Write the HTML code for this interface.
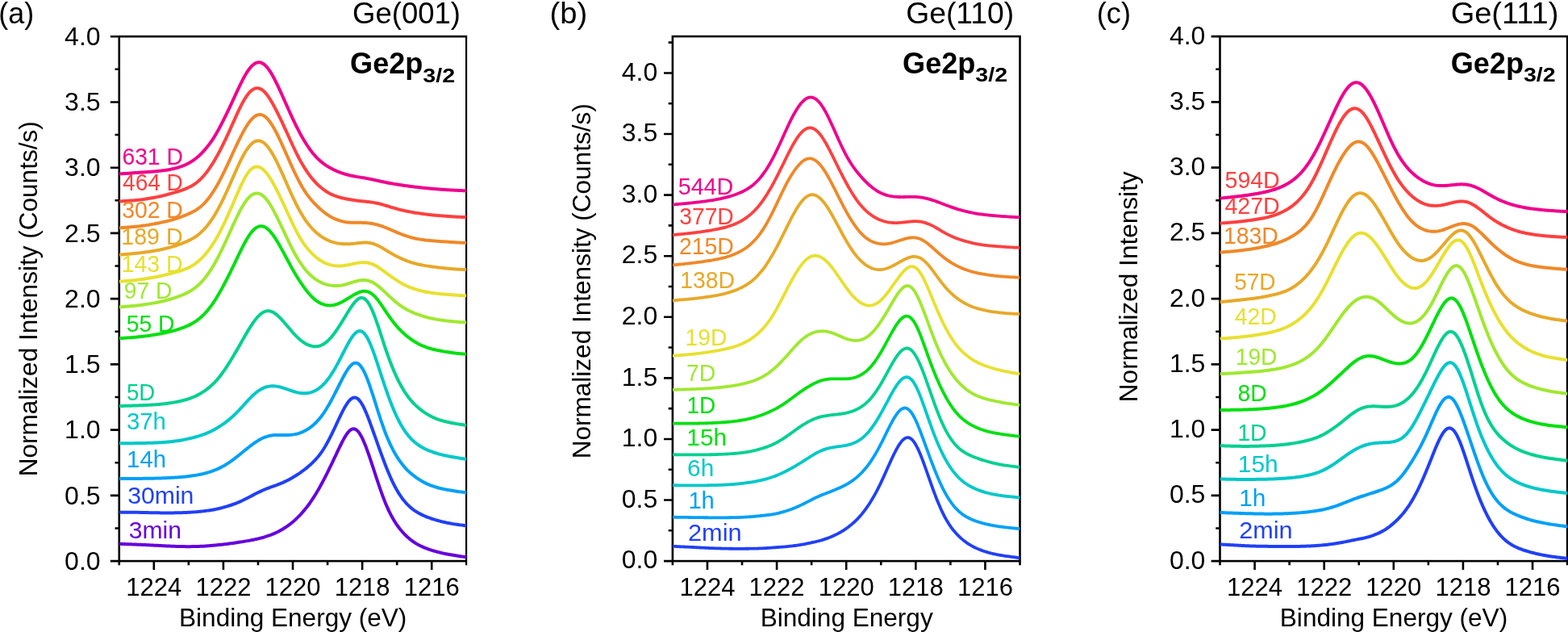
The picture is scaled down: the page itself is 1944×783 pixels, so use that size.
<!DOCTYPE html>
<html lang="en"><head><meta charset="utf-8"><title>Ge2p3/2 XPS spectra</title>
<style>html,body{margin:0;padding:0;background:#fff;overflow:hidden}svg{display:block}text{font-family:'Liberation Sans', sans-serif;white-space:pre}</style></head><body>
<svg width="1944" height="783" viewBox="0 0 1944 783">
<rect width="1944" height="783" fill="#fff"/>
<g id="panel-a">
<rect x="147.75" y="45.2" width="430.55" height="649.9" fill="none" stroke="#000" stroke-width="2.6"/>
<path d="M147.75 695.1v5.25M190.81 695.1v10.9M233.86 695.1v5.25M276.91 695.1v10.9M319.97 695.1v5.25M363.02 695.1v10.9M406.08 695.1v5.25M449.13 695.1v10.9M492.19 695.1v5.25M535.25 695.1v10.9M578.3 695.1v5.25M147.75 695.1h-10.9M147.75 654.48h-5.25M147.75 613.86h-10.9M147.75 573.24h-5.25M147.75 532.62h-10.9M147.75 492.01h-5.25M147.75 451.39h-10.9M147.75 410.77h-5.25M147.75 370.15h-10.9M147.75 329.53h-5.25M147.75 288.91h-10.9M147.75 248.29h-5.25M147.75 207.68h-10.9M147.75 167.06h-5.25M147.75 126.44h-10.9M147.75 85.82h-5.25M147.75 45.2h-10.9" fill="none" stroke="#000" stroke-width="2.6"/>
<g font-size="32.0" fill="#000"><text x="190.81" y="737.8" text-anchor="middle" font-size="31.8" textLength="68.97" lengthAdjust="spacingAndGlyphs">1224</text><text x="276.91" y="737.8" text-anchor="middle" font-size="31.8" textLength="68.97" lengthAdjust="spacingAndGlyphs">1222</text><text x="363.02" y="737.8" text-anchor="middle" font-size="31.8" textLength="68.97" lengthAdjust="spacingAndGlyphs">1220</text><text x="449.13" y="737.8" text-anchor="middle" font-size="31.8" textLength="68.97" lengthAdjust="spacingAndGlyphs">1218</text><text x="535.25" y="737.8" text-anchor="middle" font-size="31.8" textLength="68.97" lengthAdjust="spacingAndGlyphs">1216</text><text x="124.6" y="705.9" text-anchor="end">0.0</text><text x="124.6" y="624.66" text-anchor="end">0.5</text><text x="124.6" y="543.42" text-anchor="end">1.0</text><text x="124.6" y="462.19" text-anchor="end">1.5</text><text x="124.6" y="380.95" text-anchor="end">2.0</text><text x="124.6" y="299.71" text-anchor="end">2.5</text><text x="124.6" y="218.48" text-anchor="end">3.0</text><text x="124.6" y="137.24" text-anchor="end">3.5</text><text x="124.6" y="56" text-anchor="end">4.0</text></g>
<text transform="translate(46.1 370.3) rotate(-90)" text-anchor="middle" font-size="31.55" fill="#000">Normalized Intensity (Counts/s)</text>
<text x="363.2" y="776.2" text-anchor="middle" font-size="31.55" fill="#000">Binding Energy (eV)</text>
<clipPath id="clip-a"><rect x="147.75" y="45.2" width="430.55" height="649.9"/></clipPath>
<g clip-path="url(#clip-a)">
<polyline points="147.75,673.78 149.25,673.85 150.75,673.92 152.25,673.99 153.75,674.05 155.25,674.11 156.75,674.17 158.25,674.22 159.75,674.27 161.25,674.32 162.75,674.37 164.25,674.42 165.75,674.47 167.25,674.53 168.75,674.58 170.25,674.64 171.75,674.71 173.25,674.77 174.75,674.84 176.25,674.91 177.75,674.98 179.25,675.05 180.75,675.12 182.25,675.2 183.75,675.27 185.25,675.35 186.75,675.42 188.25,675.5 189.75,675.57 191.25,675.64 192.75,675.72 194.25,675.79 195.75,675.87 197.25,675.94 198.75,676.02 200.25,676.09 201.75,676.17 203.25,676.24 204.75,676.31 206.25,676.39 207.75,676.46 209.25,676.53 210.75,676.6 212.25,676.67 213.75,676.73 215.25,676.79 216.75,676.84 218.25,676.89 219.75,676.94 221.25,676.98 222.75,677.01 224.25,677.04 225.75,677.07 227.25,677.09 228.75,677.11 230.25,677.13 231.75,677.14 233.25,677.14 234.75,677.14 236.25,677.13 237.75,677.12 239.25,677.1 240.75,677.08 242.25,677.05 243.75,677.01 245.25,676.97 246.75,676.92 248.25,676.86 249.75,676.79 251.25,676.71 252.75,676.63 254.25,676.53 255.75,676.43 257.25,676.32 258.75,676.21 260.25,676.09 261.75,675.96 263.25,675.83 264.75,675.69 266.25,675.55 267.75,675.41 269.25,675.26 270.75,675.11 272.25,674.96 273.75,674.8 275.25,674.64 276.75,674.47 278.25,674.3 279.75,674.12 281.25,673.93 282.75,673.74 284.25,673.55 285.75,673.35 287.25,673.14 288.75,672.93 290.25,672.71 291.75,672.49 293.25,672.27 294.75,672.05 296.25,671.82 297.75,671.59 299.25,671.36 300.75,671.12 302.25,670.88 303.75,670.64 305.25,670.39 306.75,670.13 308.25,669.87 309.75,669.6 311.25,669.31 312.75,669.02 314.25,668.72 315.75,668.4 317.25,668.08 318.75,667.74 320.25,667.38 321.75,667.01 323.25,666.63 324.75,666.23 326.25,665.82 327.75,665.38 329.25,664.93 330.75,664.46 332.25,663.97 333.75,663.45 335.25,662.9 336.75,662.33 338.25,661.72 339.75,661.08 341.25,660.41 342.75,659.7 344.25,658.95 345.75,658.18 347.25,657.37 348.75,656.53 350.25,655.66 351.75,654.75 353.25,653.81 354.75,652.83 356.25,651.81 357.75,650.75 359.25,649.64 360.75,648.48 362.25,647.27 363.75,646.01 365.25,644.69 366.75,643.32 368.25,641.89 369.75,640.41 371.25,638.88 372.75,637.29 374.25,635.65 375.75,633.94 377.25,632.17 378.75,630.35 380.25,628.45 381.75,626.49 383.25,624.46 384.75,622.35 386.25,620.18 387.75,617.94 389.25,615.62 390.75,613.24 392.25,610.79 393.75,608.27 395.25,605.68 396.75,603.03 398.25,600.31 399.75,597.52 401.25,594.67 402.75,591.77 404.25,588.81 405.75,585.82 407.25,582.79 408.75,579.72 410.25,576.63 411.75,573.51 413.25,570.38 414.75,567.22 416.25,564.05 417.75,560.88 419.25,557.72 420.75,554.58 422.25,551.5 423.75,548.5 425.25,545.61 426.75,542.88 428.25,540.33 429.75,538.02 431.25,535.98 432.75,534.27 434.25,532.9 435.75,531.94 437.25,531.39 438.75,531.29 440.25,531.65 441.75,532.47 443.25,533.76 444.75,535.49 446.25,537.66 447.75,540.23 449.25,543.17 450.75,546.44 452.25,550 453.75,553.82 455.25,557.84 456.75,562.03 458.25,566.37 459.75,570.81 461.25,575.33 462.75,579.9 464.25,584.5 465.75,589.09 467.25,593.66 468.75,598.18 470.25,602.62 471.75,606.95 473.25,611.17 474.75,615.24 476.25,619.16 477.75,622.91 479.25,626.49 480.75,629.89 482.25,633.11 483.75,636.16 485.25,639.05 486.75,641.77 488.25,644.34 489.75,646.76 491.25,649.06 492.75,651.22 494.25,653.27 495.75,655.22 497.25,657.06 498.75,658.81 500.25,660.47 501.75,662.05 503.25,663.54 504.75,664.96 506.25,666.31 507.75,667.58 509.25,668.79 510.75,669.93 512.25,671.01 513.75,672.02 515.25,672.98 516.75,673.88 518.25,674.73 519.75,675.53 521.25,676.29 522.75,677 524.25,677.67 525.75,678.31 527.25,678.92 528.75,679.49 530.25,680.04 531.75,680.57 533.25,681.08 534.75,681.57 536.25,682.04 537.75,682.49 539.25,682.93 540.75,683.35 542.25,683.76 543.75,684.15 545.25,684.53 546.75,684.89 548.25,685.24 549.75,685.58 551.25,685.9 552.75,686.21 554.25,686.51 555.75,686.79 557.25,687.07 558.75,687.33 560.25,687.58 561.75,687.83 563.25,688.07 564.75,688.3 566.25,688.52 567.75,688.74 569.25,688.96 570.75,689.18 572.25,689.4 573.75,689.61 575.25,689.83 576.75,690.05 578.3,690.28" fill="none" stroke="#6600DD" stroke-width="4.0" stroke-linejoin="round"/>
<polyline points="147.75,634.58 149.25,634.61 150.75,634.65 152.25,634.67 153.75,634.7 155.25,634.71 156.75,634.73 158.25,634.74 159.75,634.75 161.25,634.76 162.75,634.77 164.25,634.78 165.75,634.79 167.25,634.81 168.75,634.82 170.25,634.84 171.75,634.86 173.25,634.89 174.75,634.91 176.25,634.94 177.75,634.98 179.25,635.01 180.75,635.04 182.25,635.08 183.75,635.11 185.25,635.15 186.75,635.18 188.25,635.21 189.75,635.25 191.25,635.27 192.75,635.3 194.25,635.33 195.75,635.35 197.25,635.37 198.75,635.39 200.25,635.4 201.75,635.41 203.25,635.42 204.75,635.43 206.25,635.43 207.75,635.43 209.25,635.43 210.75,635.42 212.25,635.42 213.75,635.4 215.25,635.39 216.75,635.37 218.25,635.34 219.75,635.32 221.25,635.29 222.75,635.25 224.25,635.21 225.75,635.16 227.25,635.11 228.75,635.06 230.25,635 231.75,634.93 233.25,634.86 234.75,634.77 236.25,634.69 237.75,634.59 239.25,634.49 240.75,634.38 242.25,634.26 243.75,634.13 245.25,634 246.75,633.86 248.25,633.71 249.75,633.55 251.25,633.38 252.75,633.21 254.25,633.03 255.75,632.84 257.25,632.64 258.75,632.43 260.25,632.21 261.75,631.97 263.25,631.72 264.75,631.45 266.25,631.17 267.75,630.87 269.25,630.55 270.75,630.21 272.25,629.85 273.75,629.48 275.25,629.09 276.75,628.68 278.25,628.27 279.75,627.84 281.25,627.4 282.75,626.95 284.25,626.48 285.75,626 287.25,625.51 288.75,624.99 290.25,624.46 291.75,623.9 293.25,623.32 294.75,622.71 296.25,622.07 297.75,621.41 299.25,620.73 300.75,620.02 302.25,619.3 303.75,618.55 305.25,617.79 306.75,617.02 308.25,616.24 309.75,615.46 311.25,614.67 312.75,613.89 314.25,613.11 315.75,612.33 317.25,611.56 318.75,610.81 320.25,610.06 321.75,609.34 323.25,608.63 324.75,607.95 326.25,607.28 327.75,606.64 329.25,606.02 330.75,605.43 332.25,604.85 333.75,604.28 335.25,603.73 336.75,603.19 338.25,602.65 339.75,602.12 341.25,601.58 342.75,601.03 344.25,600.47 345.75,599.89 347.25,599.3 348.75,598.68 350.25,598.05 351.75,597.38 353.25,596.69 354.75,595.97 356.25,595.22 357.75,594.44 359.25,593.64 360.75,592.81 362.25,591.95 363.75,591.07 365.25,590.17 366.75,589.24 368.25,588.29 369.75,587.31 371.25,586.31 372.75,585.28 374.25,584.22 375.75,583.13 377.25,582 378.75,580.84 380.25,579.64 381.75,578.39 383.25,577.1 384.75,575.77 386.25,574.38 387.75,572.94 389.25,571.43 390.75,569.86 392.25,568.22 393.75,566.48 395.25,564.66 396.75,562.73 398.25,560.68 399.75,558.52 401.25,556.23 402.75,553.81 404.25,551.25 405.75,548.58 407.25,545.78 408.75,542.88 410.25,539.89 411.75,536.82 413.25,533.69 414.75,530.52 416.25,527.32 417.75,524.11 419.25,520.92 420.75,517.75 422.25,514.63 423.75,511.59 425.25,508.66 426.75,505.85 428.25,503.22 429.75,500.79 431.25,498.61 432.75,496.71 434.25,495.12 435.75,493.89 437.25,493.04 438.75,492.59 440.25,492.57 441.75,492.99 443.25,493.84 444.75,495.13 446.25,496.85 447.75,498.96 449.25,501.46 450.75,504.3 452.25,507.45 453.75,510.86 455.25,514.5 456.75,518.32 458.25,522.29 459.75,526.36 461.25,530.51 462.75,534.71 464.25,538.94 465.75,543.17 467.25,547.39 468.75,551.59 470.25,555.76 471.75,559.9 473.25,563.99 474.75,568.03 476.25,572 477.75,575.91 479.25,579.73 480.75,583.44 482.25,587.05 483.75,590.53 485.25,593.88 486.75,597.08 488.25,600.13 489.75,603.04 491.25,605.8 492.75,608.41 494.25,610.89 495.75,613.23 497.25,615.44 498.75,617.52 500.25,619.48 501.75,621.31 503.25,623.03 504.75,624.64 506.25,626.15 507.75,627.56 509.25,628.88 510.75,630.11 512.25,631.26 513.75,632.35 515.25,633.36 516.75,634.32 518.25,635.22 519.75,636.07 521.25,636.87 522.75,637.63 524.25,638.35 525.75,639.03 527.25,639.68 528.75,640.3 530.25,640.89 531.75,641.45 533.25,641.98 534.75,642.49 536.25,642.98 537.75,643.45 539.25,643.91 540.75,644.34 542.25,644.77 543.75,645.18 545.25,645.58 546.75,645.96 548.25,646.34 549.75,646.7 551.25,647.05 552.75,647.39 554.25,647.71 555.75,648.02 557.25,648.31 558.75,648.59 560.25,648.86 561.75,649.11 563.25,649.35 564.75,649.58 566.25,649.79 567.75,650 569.25,650.2 570.75,650.39 572.25,650.59 573.75,650.78 575.25,650.97 576.75,651.15 578.3,651.35" fill="none" stroke="#2040F8" stroke-width="4.0" stroke-linejoin="round"/>
<polyline points="147.75,593.05 149.25,593.04 150.75,593.03 152.25,593.02 153.75,593.01 155.25,593 156.75,592.99 158.25,592.98 159.75,592.98 161.25,592.97 162.75,592.97 164.25,592.96 165.75,592.96 167.25,592.95 168.75,592.94 170.25,592.93 171.75,592.92 173.25,592.91 174.75,592.9 176.25,592.89 177.75,592.87 179.25,592.85 180.75,592.84 182.25,592.82 183.75,592.79 185.25,592.77 186.75,592.74 188.25,592.71 189.75,592.68 191.25,592.65 192.75,592.61 194.25,592.57 195.75,592.53 197.25,592.49 198.75,592.44 200.25,592.39 201.75,592.33 203.25,592.28 204.75,592.22 206.25,592.15 207.75,592.09 209.25,592.02 210.75,591.94 212.25,591.87 213.75,591.78 215.25,591.7 216.75,591.6 218.25,591.51 219.75,591.4 221.25,591.29 222.75,591.18 224.25,591.05 225.75,590.92 227.25,590.78 228.75,590.64 230.25,590.48 231.75,590.32 233.25,590.14 234.75,589.96 236.25,589.77 237.75,589.56 239.25,589.35 240.75,589.12 242.25,588.88 243.75,588.62 245.25,588.35 246.75,588.06 248.25,587.76 249.75,587.44 251.25,587.1 252.75,586.74 254.25,586.36 255.75,585.96 257.25,585.53 258.75,585.09 260.25,584.61 261.75,584.12 263.25,583.59 264.75,583.04 266.25,582.46 267.75,581.86 269.25,581.22 270.75,580.55 272.25,579.85 273.75,579.11 275.25,578.34 276.75,577.53 278.25,576.69 279.75,575.8 281.25,574.88 282.75,573.92 284.25,572.92 285.75,571.89 287.25,570.83 288.75,569.73 290.25,568.6 291.75,567.46 293.25,566.29 294.75,565.1 296.25,563.9 297.75,562.69 299.25,561.47 300.75,560.25 302.25,559.03 303.75,557.81 305.25,556.59 306.75,555.39 308.25,554.2 309.75,553.03 311.25,551.88 312.75,550.75 314.25,549.66 315.75,548.6 317.25,547.58 318.75,546.61 320.25,545.68 321.75,544.8 323.25,543.98 324.75,543.23 326.25,542.53 327.75,541.9 329.25,541.33 330.75,540.83 332.25,540.4 333.75,540.03 335.25,539.72 336.75,539.46 338.25,539.26 339.75,539.11 341.25,539 342.75,538.93 344.25,538.89 345.75,538.88 347.25,538.89 348.75,538.91 350.25,538.93 351.75,538.95 353.25,538.97 354.75,538.96 356.25,538.94 357.75,538.9 359.25,538.82 360.75,538.71 362.25,538.56 363.75,538.37 365.25,538.13 366.75,537.83 368.25,537.48 369.75,537.07 371.25,536.6 372.75,536.06 374.25,535.47 375.75,534.81 377.25,534.09 378.75,533.31 380.25,532.46 381.75,531.54 383.25,530.56 384.75,529.5 386.25,528.37 387.75,527.16 389.25,525.86 390.75,524.47 392.25,522.98 393.75,521.39 395.25,519.7 396.75,517.9 398.25,515.99 399.75,513.97 401.25,511.84 402.75,509.6 404.25,507.26 405.75,504.82 407.25,502.29 408.75,499.66 410.25,496.95 411.75,494.17 413.25,491.32 414.75,488.42 416.25,485.47 417.75,482.49 419.25,479.5 420.75,476.5 422.25,473.53 423.75,470.6 425.25,467.73 426.75,464.95 428.25,462.29 429.75,459.78 431.25,457.47 432.75,455.38 434.25,453.55 435.75,452.03 437.25,450.85 438.75,450.05 440.25,449.65 441.75,449.68 443.25,450.15 444.75,451.07 446.25,452.45 447.75,454.27 449.25,456.52 450.75,459.17 452.25,462.21 453.75,465.58 455.25,469.26 456.75,473.21 458.25,477.4 459.75,481.78 461.25,486.31 462.75,490.96 464.25,495.69 465.75,500.46 467.25,505.24 468.75,509.98 470.25,514.66 471.75,519.25 473.25,523.71 474.75,528.03 476.25,532.19 477.75,536.18 479.25,539.98 480.75,543.61 482.25,547.06 483.75,550.34 485.25,553.45 486.75,556.41 488.25,559.22 489.75,561.89 491.25,564.42 492.75,566.83 494.25,569.11 495.75,571.28 497.25,573.34 498.75,575.3 500.25,577.15 501.75,578.9 503.25,580.55 504.75,582.12 506.25,583.61 507.75,585.01 509.25,586.34 510.75,587.61 512.25,588.81 513.75,589.96 515.25,591.06 516.75,592.12 518.25,593.14 519.75,594.12 521.25,595.06 522.75,595.96 524.25,596.81 525.75,597.63 527.25,598.4 528.75,599.13 530.25,599.82 531.75,600.46 533.25,601.07 534.75,601.65 536.25,602.19 537.75,602.7 539.25,603.18 540.75,603.63 542.25,604.05 543.75,604.45 545.25,604.83 546.75,605.19 548.25,605.52 549.75,605.85 551.25,606.15 552.75,606.45 554.25,606.74 555.75,607.01 557.25,607.28 558.75,607.54 560.25,607.8 561.75,608.05 563.25,608.3 564.75,608.53 566.25,608.76 567.75,608.97 569.25,609.17 570.75,609.37 572.25,609.55 573.75,609.72 575.25,609.88 576.75,610.04 578.3,610.2" fill="none" stroke="#00A0F8" stroke-width="4.0" stroke-linejoin="round"/>
<polyline points="147.75,549.18 149.25,549.19 150.75,549.2 152.25,549.21 153.75,549.21 155.25,549.21 156.75,549.21 158.25,549.2 159.75,549.19 161.25,549.18 162.75,549.17 164.25,549.15 165.75,549.14 167.25,549.12 168.75,549.1 170.25,549.08 171.75,549.06 173.25,549.03 174.75,549.01 176.25,548.99 177.75,548.96 179.25,548.93 180.75,548.9 182.25,548.87 183.75,548.84 185.25,548.8 186.75,548.76 188.25,548.71 189.75,548.66 191.25,548.61 192.75,548.55 194.25,548.48 195.75,548.41 197.25,548.33 198.75,548.25 200.25,548.16 201.75,548.06 203.25,547.95 204.75,547.84 206.25,547.72 207.75,547.59 209.25,547.45 210.75,547.3 212.25,547.14 213.75,546.97 215.25,546.79 216.75,546.6 218.25,546.39 219.75,546.18 221.25,545.94 222.75,545.7 224.25,545.44 225.75,545.17 227.25,544.89 228.75,544.6 230.25,544.3 231.75,543.98 233.25,543.65 234.75,543.32 236.25,542.97 237.75,542.61 239.25,542.24 240.75,541.85 242.25,541.45 243.75,541.03 245.25,540.6 246.75,540.15 248.25,539.67 249.75,539.18 251.25,538.66 252.75,538.12 254.25,537.55 255.75,536.95 257.25,536.33 258.75,535.68 260.25,534.99 261.75,534.28 263.25,533.53 264.75,532.75 266.25,531.94 267.75,531.1 269.25,530.22 270.75,529.32 272.25,528.38 273.75,527.4 275.25,526.4 276.75,525.36 278.25,524.29 279.75,523.18 281.25,522.04 282.75,520.86 284.25,519.64 285.75,518.38 287.25,517.07 288.75,515.72 290.25,514.32 291.75,512.87 293.25,511.38 294.75,509.85 296.25,508.28 297.75,506.68 299.25,505.05 300.75,503.4 302.25,501.74 303.75,500.09 305.25,498.44 306.75,496.81 308.25,495.21 309.75,493.64 311.25,492.12 312.75,490.66 314.25,489.25 315.75,487.91 317.25,486.65 318.75,485.47 320.25,484.37 321.75,483.36 323.25,482.44 324.75,481.61 326.25,480.88 327.75,480.24 329.25,479.69 330.75,479.24 332.25,478.88 333.75,478.61 335.25,478.42 336.75,478.31 338.25,478.28 339.75,478.33 341.25,478.44 342.75,478.62 344.25,478.86 345.75,479.16 347.25,479.5 348.75,479.89 350.25,480.32 351.75,480.79 353.25,481.28 354.75,481.79 356.25,482.32 357.75,482.85 359.25,483.37 360.75,483.89 362.25,484.39 363.75,484.87 365.25,485.32 366.75,485.74 368.25,486.11 369.75,486.44 371.25,486.71 372.75,486.94 374.25,487.1 375.75,487.21 377.25,487.24 378.75,487.21 380.25,487.11 381.75,486.93 383.25,486.67 384.75,486.33 386.25,485.9 387.75,485.38 389.25,484.76 390.75,484.05 392.25,483.23 393.75,482.31 395.25,481.28 396.75,480.14 398.25,478.89 399.75,477.52 401.25,476.04 402.75,474.44 404.25,472.72 405.75,470.88 407.25,468.93 408.75,466.86 410.25,464.67 411.75,462.37 413.25,459.96 414.75,457.44 416.25,454.83 417.75,452.13 419.25,449.35 420.75,446.51 422.25,443.62 423.75,440.69 425.25,437.74 426.75,434.8 428.25,431.88 429.75,429.01 431.25,426.23 432.75,423.55 434.25,421.02 435.75,418.66 437.25,416.51 438.75,414.62 440.25,413.01 441.75,411.72 443.25,410.78 444.75,410.23 446.25,410.08 447.75,410.36 449.25,411.07 450.75,412.22 452.25,413.82 453.75,415.84 455.25,418.27 456.75,421.08 458.25,424.24 459.75,427.72 461.25,431.48 462.75,435.47 464.25,439.66 465.75,444 467.25,448.46 468.75,452.99 470.25,457.57 471.75,462.17 473.25,466.75 474.75,471.29 476.25,475.78 477.75,480.2 479.25,484.52 480.75,488.75 482.25,492.87 483.75,496.86 485.25,500.73 486.75,504.47 488.25,508.07 489.75,511.53 491.25,514.83 492.75,517.99 494.25,520.99 495.75,523.84 497.25,526.54 498.75,529.08 500.25,531.48 501.75,533.74 503.25,535.86 504.75,537.85 506.25,539.72 507.75,541.47 509.25,543.1 510.75,544.64 512.25,546.08 513.75,547.42 515.25,548.68 516.75,549.86 518.25,550.96 519.75,551.99 521.25,552.96 522.75,553.86 524.25,554.71 525.75,555.5 527.25,556.25 528.75,556.96 530.25,557.62 531.75,558.26 533.25,558.86 534.75,559.43 536.25,559.97 537.75,560.49 539.25,560.99 540.75,561.46 542.25,561.91 543.75,562.34 545.25,562.75 546.75,563.14 548.25,563.51 549.75,563.86 551.25,564.19 552.75,564.52 554.25,564.83 555.75,565.13 557.25,565.42 558.75,565.7 560.25,565.97 561.75,566.24 563.25,566.51 564.75,566.76 566.25,567.02 567.75,567.27 569.25,567.52 570.75,567.76 572.25,568 573.75,568.24 575.25,568.47 576.75,568.7 578.3,568.94" fill="none" stroke="#00C8C8" stroke-width="4.0" stroke-linejoin="round"/>
<polyline points="147.75,503.13 149.25,503.07 150.75,503.02 152.25,502.97 153.75,502.92 155.25,502.87 156.75,502.82 158.25,502.77 159.75,502.72 161.25,502.67 162.75,502.63 164.25,502.58 165.75,502.53 167.25,502.48 168.75,502.44 170.25,502.38 171.75,502.33 173.25,502.28 174.75,502.22 176.25,502.16 177.75,502.1 179.25,502.04 180.75,501.97 182.25,501.9 183.75,501.83 185.25,501.75 186.75,501.67 188.25,501.58 189.75,501.49 191.25,501.38 192.75,501.28 194.25,501.16 195.75,501.04 197.25,500.91 198.75,500.77 200.25,500.63 201.75,500.47 203.25,500.31 204.75,500.14 206.25,499.96 207.75,499.77 209.25,499.56 210.75,499.35 212.25,499.12 213.75,498.89 215.25,498.63 216.75,498.37 218.25,498.09 219.75,497.79 221.25,497.48 222.75,497.15 224.25,496.8 225.75,496.44 227.25,496.06 228.75,495.66 230.25,495.24 231.75,494.79 233.25,494.32 234.75,493.83 236.25,493.3 237.75,492.74 239.25,492.15 240.75,491.52 242.25,490.84 243.75,490.13 245.25,489.36 246.75,488.56 248.25,487.71 249.75,486.81 251.25,485.87 252.75,484.88 254.25,483.84 255.75,482.75 257.25,481.62 258.75,480.43 260.25,479.19 261.75,477.88 263.25,476.51 264.75,475.06 266.25,473.54 267.75,471.95 269.25,470.27 270.75,468.51 272.25,466.67 273.75,464.75 275.25,462.76 276.75,460.69 278.25,458.55 279.75,456.34 281.25,454.08 282.75,451.76 284.25,449.39 285.75,446.97 287.25,444.51 288.75,442.02 290.25,439.5 291.75,436.94 293.25,434.37 294.75,431.77 296.25,429.16 297.75,426.53 299.25,423.9 300.75,421.26 302.25,418.64 303.75,416.02 305.25,413.43 306.75,410.89 308.25,408.39 309.75,405.96 311.25,403.6 312.75,401.34 314.25,399.18 315.75,397.13 317.25,395.21 318.75,393.43 320.25,391.8 321.75,390.32 323.25,389.02 324.75,387.89 326.25,386.95 327.75,386.21 329.25,385.67 330.75,385.34 332.25,385.21 333.75,385.29 335.25,385.57 336.75,386.05 338.25,386.72 339.75,387.56 341.25,388.56 342.75,389.71 344.25,390.99 345.75,392.39 347.25,393.88 348.75,395.45 350.25,397.09 351.75,398.79 353.25,400.51 354.75,402.27 356.25,404.03 357.75,405.8 359.25,407.57 360.75,409.31 362.25,411.03 363.75,412.71 365.25,414.34 366.75,415.92 368.25,417.44 369.75,418.88 371.25,420.24 372.75,421.51 374.25,422.7 375.75,423.79 377.25,424.78 378.75,425.67 380.25,426.47 381.75,427.17 383.25,427.76 384.75,428.26 386.25,428.66 387.75,428.95 389.25,429.14 390.75,429.22 392.25,429.19 393.75,429.03 395.25,428.75 396.75,428.33 398.25,427.78 399.75,427.08 401.25,426.24 402.75,425.25 404.25,424.12 405.75,422.85 407.25,421.44 408.75,419.9 410.25,418.23 411.75,416.46 413.25,414.57 414.75,412.59 416.25,410.51 417.75,408.36 419.25,406.13 420.75,403.84 422.25,401.49 423.75,399.09 425.25,396.66 426.75,394.2 428.25,391.72 429.75,389.25 431.25,386.8 432.75,384.38 434.25,382.03 435.75,379.78 437.25,377.64 438.75,375.67 440.25,373.88 441.75,372.31 443.25,371.01 444.75,370 446.25,369.32 447.75,369 449.25,369.05 450.75,369.5 452.25,370.36 453.75,371.64 455.25,373.33 456.75,375.43 458.25,377.91 459.75,380.77 461.25,383.98 462.75,387.49 464.25,391.29 465.75,395.33 467.25,399.57 468.75,403.97 470.25,408.48 471.75,413.06 473.25,417.68 474.75,422.29 476.25,426.86 477.75,431.35 479.25,435.75 480.75,440.02 482.25,444.17 483.75,448.18 485.25,452.05 486.75,455.78 488.25,459.36 489.75,462.8 491.25,466.1 492.75,469.27 494.25,472.3 495.75,475.2 497.25,477.97 498.75,480.61 500.25,483.12 501.75,485.51 503.25,487.78 504.75,489.93 506.25,491.96 507.75,493.89 509.25,495.71 510.75,497.44 512.25,499.08 513.75,500.63 515.25,502.1 516.75,503.5 518.25,504.83 519.75,506.1 521.25,507.31 522.75,508.46 524.25,509.56 525.75,510.62 527.25,511.63 528.75,512.59 530.25,513.52 531.75,514.39 533.25,515.23 534.75,516.02 536.25,516.76 537.75,517.46 539.25,518.11 540.75,518.72 542.25,519.29 543.75,519.82 545.25,520.31 546.75,520.77 548.25,521.2 549.75,521.6 551.25,521.99 552.75,522.36 554.25,522.71 555.75,523.05 557.25,523.37 558.75,523.69 560.25,523.99 561.75,524.29 563.25,524.58 564.75,524.86 566.25,525.12 567.75,525.38 569.25,525.62 570.75,525.85 572.25,526.07 573.75,526.28 575.25,526.48 576.75,526.68 578.3,526.87" fill="none" stroke="#00D090" stroke-width="4.0" stroke-linejoin="round"/>
<polyline points="147.75,419.22 149.25,419.12 150.75,419.01 152.25,418.91 153.75,418.81 155.25,418.7 156.75,418.6 158.25,418.49 159.75,418.38 161.25,418.27 162.75,418.16 164.25,418.04 165.75,417.91 167.25,417.78 168.75,417.65 170.25,417.51 171.75,417.36 173.25,417.2 174.75,417.04 176.25,416.87 177.75,416.69 179.25,416.5 180.75,416.31 182.25,416.11 183.75,415.9 185.25,415.69 186.75,415.47 188.25,415.24 189.75,415.01 191.25,414.76 192.75,414.52 194.25,414.26 195.75,414 197.25,413.73 198.75,413.45 200.25,413.17 201.75,412.87 203.25,412.57 204.75,412.26 206.25,411.93 207.75,411.6 209.25,411.25 210.75,410.89 212.25,410.52 213.75,410.13 215.25,409.73 216.75,409.32 218.25,408.88 219.75,408.43 221.25,407.96 222.75,407.48 224.25,406.96 225.75,406.43 227.25,405.87 228.75,405.29 230.25,404.68 231.75,404.03 233.25,403.35 234.75,402.63 236.25,401.87 237.75,401.06 239.25,400.21 240.75,399.29 242.25,398.32 243.75,397.28 245.25,396.18 246.75,395.01 248.25,393.76 249.75,392.44 251.25,391.05 252.75,389.57 254.25,388.01 255.75,386.36 257.25,384.63 258.75,382.81 260.25,380.89 261.75,378.89 263.25,376.8 264.75,374.62 266.25,372.35 267.75,369.99 269.25,367.56 270.75,365.05 272.25,362.47 273.75,359.82 275.25,357.11 276.75,354.35 278.25,351.54 279.75,348.68 281.25,345.78 282.75,342.83 284.25,339.84 285.75,336.81 287.25,333.74 288.75,330.65 290.25,327.53 291.75,324.39 293.25,321.25 294.75,318.12 296.25,315 297.75,311.92 299.25,308.89 300.75,305.92 302.25,303.03 303.75,300.23 305.25,297.55 306.75,295.01 308.25,292.62 309.75,290.4 311.25,288.37 312.75,286.54 314.25,284.92 315.75,283.53 317.25,282.37 318.75,281.45 320.25,280.77 321.75,280.34 323.25,280.15 324.75,280.21 326.25,280.52 327.75,281.07 329.25,281.85 330.75,282.85 332.25,284.07 333.75,285.5 335.25,287.12 336.75,288.91 338.25,290.87 339.75,292.98 341.25,295.22 342.75,297.58 344.25,300.04 345.75,302.58 347.25,305.2 348.75,307.89 350.25,310.61 351.75,313.38 353.25,316.16 354.75,318.96 356.25,321.76 357.75,324.54 359.25,327.3 360.75,330.03 362.25,332.72 363.75,335.37 365.25,337.96 366.75,340.49 368.25,342.96 369.75,345.37 371.25,347.71 372.75,349.99 374.25,352.2 375.75,354.35 377.25,356.43 378.75,358.44 380.25,360.37 381.75,362.23 383.25,364 384.75,365.68 386.25,367.27 387.75,368.75 389.25,370.12 390.75,371.39 392.25,372.55 393.75,373.59 395.25,374.53 396.75,375.36 398.25,376.08 399.75,376.7 401.25,377.23 402.75,377.65 404.25,377.98 405.75,378.21 407.25,378.35 408.75,378.39 410.25,378.35 411.75,378.22 413.25,378 414.75,377.69 416.25,377.3 417.75,376.84 419.25,376.29 420.75,375.68 422.25,375 423.75,374.26 425.25,373.46 426.75,372.62 428.25,371.74 429.75,370.83 431.25,369.9 432.75,368.96 434.25,368.01 435.75,367.08 437.25,366.16 438.75,365.28 440.25,364.44 441.75,363.65 443.25,362.93 444.75,362.29 446.25,361.74 447.75,361.3 449.25,360.98 450.75,360.8 452.25,360.77 453.75,360.89 455.25,361.19 456.75,361.68 458.25,362.34 459.75,363.2 461.25,364.25 462.75,365.49 464.25,366.9 465.75,368.48 467.25,370.22 468.75,372.09 470.25,374.08 471.75,376.17 473.25,378.33 474.75,380.55 476.25,382.79 477.75,385.04 479.25,387.28 480.75,389.5 482.25,391.67 483.75,393.78 485.25,395.84 486.75,397.84 488.25,399.76 489.75,401.62 491.25,403.4 492.75,405.13 494.25,406.78 495.75,408.37 497.25,409.9 498.75,411.37 500.25,412.78 501.75,414.13 503.25,415.43 504.75,416.67 506.25,417.85 507.75,418.99 509.25,420.07 510.75,421.11 512.25,422.11 513.75,423.06 515.25,423.97 516.75,424.84 518.25,425.67 519.75,426.45 521.25,427.2 522.75,427.9 524.25,428.56 525.75,429.17 527.25,429.75 528.75,430.29 530.25,430.8 531.75,431.27 533.25,431.72 534.75,432.15 536.25,432.56 537.75,432.94 539.25,433.31 540.75,433.65 542.25,433.97 543.75,434.28 545.25,434.57 546.75,434.84 548.25,435.1 549.75,435.36 551.25,435.6 552.75,435.85 554.25,436.09 555.75,436.32 557.25,436.55 558.75,436.78 560.25,436.99 561.75,437.2 563.25,437.39 564.75,437.57 566.25,437.74 567.75,437.89 569.25,438.04 570.75,438.18 572.25,438.3 573.75,438.43 575.25,438.54 576.75,438.65 578.3,438.77" fill="none" stroke="#00E010" stroke-width="4.0" stroke-linejoin="round"/>
<polyline points="147.75,380.51 149.25,380.36 150.75,380.21 152.25,380.06 153.75,379.93 155.25,379.8 156.75,379.67 158.25,379.55 159.75,379.43 161.25,379.31 162.75,379.19 164.25,379.07 165.75,378.93 167.25,378.79 168.75,378.64 170.25,378.48 171.75,378.31 173.25,378.13 174.75,377.94 176.25,377.74 177.75,377.54 179.25,377.32 180.75,377.1 182.25,376.87 183.75,376.64 185.25,376.4 186.75,376.15 188.25,375.9 189.75,375.64 191.25,375.37 192.75,375.1 194.25,374.81 195.75,374.52 197.25,374.21 198.75,373.89 200.25,373.55 201.75,373.2 203.25,372.84 204.75,372.46 206.25,372.07 207.75,371.66 209.25,371.24 210.75,370.81 212.25,370.36 213.75,369.9 215.25,369.43 216.75,368.94 218.25,368.44 219.75,367.92 221.25,367.38 222.75,366.82 224.25,366.23 225.75,365.62 227.25,364.98 228.75,364.31 230.25,363.6 231.75,362.86 233.25,362.07 234.75,361.24 236.25,360.36 237.75,359.43 239.25,358.44 240.75,357.39 242.25,356.26 243.75,355.07 245.25,353.79 246.75,352.43 248.25,350.98 249.75,349.43 251.25,347.79 252.75,346.05 254.25,344.21 255.75,342.28 257.25,340.25 258.75,338.13 260.25,335.91 261.75,333.61 263.25,331.22 264.75,328.73 266.25,326.15 267.75,323.48 269.25,320.72 270.75,317.87 272.25,314.93 273.75,311.92 275.25,308.85 276.75,305.71 278.25,302.51 279.75,299.27 281.25,295.99 282.75,292.68 284.25,289.35 285.75,286.02 287.25,282.69 288.75,279.39 290.25,276.12 291.75,272.9 293.25,269.75 294.75,266.67 296.25,263.68 297.75,260.8 299.25,258.05 300.75,255.43 302.25,252.97 303.75,250.68 305.25,248.58 306.75,246.67 308.25,244.97 309.75,243.48 311.25,242.22 312.75,241.19 314.25,240.4 315.75,239.85 317.25,239.54 318.75,239.47 320.25,239.66 321.75,240.08 323.25,240.75 324.75,241.65 326.25,242.79 327.75,244.16 329.25,245.73 330.75,247.52 332.25,249.5 333.75,251.66 335.25,254 336.75,256.49 338.25,259.11 339.75,261.87 341.25,264.72 342.75,267.68 344.25,270.7 345.75,273.79 347.25,276.92 348.75,280.08 350.25,283.26 351.75,286.44 353.25,289.63 354.75,292.8 356.25,295.94 357.75,299.06 359.25,302.13 360.75,305.15 362.25,308.1 363.75,310.97 365.25,313.76 366.75,316.45 368.25,319.05 369.75,321.54 371.25,323.92 372.75,326.2 374.25,328.37 375.75,330.44 377.25,332.4 378.75,334.25 380.25,336 381.75,337.65 383.25,339.2 384.75,340.65 386.25,342.02 387.75,343.3 389.25,344.49 390.75,345.61 392.25,346.65 393.75,347.62 395.25,348.51 396.75,349.33 398.25,350.07 399.75,350.74 401.25,351.34 402.75,351.88 404.25,352.35 405.75,352.76 407.25,353.11 408.75,353.4 410.25,353.64 411.75,353.83 413.25,353.96 414.75,354.04 416.25,354.07 417.75,354.04 419.25,353.97 420.75,353.83 422.25,353.65 423.75,353.42 425.25,353.14 426.75,352.82 428.25,352.45 429.75,352.05 431.25,351.61 432.75,351.15 434.25,350.67 435.75,350.18 437.25,349.69 438.75,349.21 440.25,348.75 441.75,348.33 443.25,347.94 444.75,347.61 446.25,347.34 447.75,347.14 449.25,347.01 450.75,346.98 452.25,347.03 453.75,347.18 455.25,347.44 456.75,347.8 458.25,348.27 459.75,348.85 461.25,349.54 462.75,350.33 464.25,351.21 465.75,352.2 467.25,353.26 468.75,354.41 470.25,355.62 471.75,356.89 473.25,358.21 474.75,359.57 476.25,360.96 477.75,362.37 479.25,363.79 480.75,365.21 482.25,366.62 483.75,368.02 485.25,369.4 486.75,370.75 488.25,372.07 489.75,373.36 491.25,374.6 492.75,375.81 494.25,376.96 495.75,378.07 497.25,379.13 498.75,380.14 500.25,381.11 501.75,382.02 503.25,382.9 504.75,383.73 506.25,384.52 507.75,385.28 509.25,386 510.75,386.68 512.25,387.34 513.75,387.97 515.25,388.57 516.75,389.14 518.25,389.69 519.75,390.22 521.25,390.73 522.75,391.22 524.25,391.69 525.75,392.14 527.25,392.57 528.75,392.98 530.25,393.37 531.75,393.75 533.25,394.1 534.75,394.44 536.25,394.76 537.75,395.06 539.25,395.35 540.75,395.62 542.25,395.88 543.75,396.13 545.25,396.36 546.75,396.58 548.25,396.79 549.75,397 551.25,397.19 552.75,397.37 554.25,397.55 555.75,397.72 557.25,397.88 558.75,398.04 560.25,398.19 561.75,398.34 563.25,398.47 564.75,398.61 566.25,398.73 567.75,398.85 569.25,398.96 570.75,399.06 572.25,399.15 573.75,399.23 575.25,399.31 576.75,399.38 578.3,399.44" fill="none" stroke="#A0E830" stroke-width="4.0" stroke-linejoin="round"/>
<polyline points="147.75,348.85 149.25,348.71 150.75,348.57 152.25,348.44 153.75,348.31 155.25,348.18 156.75,348.05 158.25,347.92 159.75,347.79 161.25,347.66 162.75,347.52 164.25,347.38 165.75,347.23 167.25,347.08 168.75,346.92 170.25,346.75 171.75,346.57 173.25,346.38 174.75,346.19 176.25,345.98 177.75,345.77 179.25,345.55 180.75,345.32 182.25,345.09 183.75,344.84 185.25,344.59 186.75,344.33 188.25,344.07 189.75,343.79 191.25,343.51 192.75,343.23 194.25,342.93 195.75,342.63 197.25,342.32 198.75,342 200.25,341.67 201.75,341.33 203.25,340.98 204.75,340.63 206.25,340.27 207.75,339.9 209.25,339.52 210.75,339.13 212.25,338.74 213.75,338.34 215.25,337.94 216.75,337.52 218.25,337.1 219.75,336.67 221.25,336.22 222.75,335.76 224.25,335.28 225.75,334.78 227.25,334.25 228.75,333.7 230.25,333.11 231.75,332.49 233.25,331.82 234.75,331.11 236.25,330.33 237.75,329.5 239.25,328.6 240.75,327.62 242.25,326.57 243.75,325.44 245.25,324.23 246.75,322.94 248.25,321.58 249.75,320.13 251.25,318.61 252.75,317.01 254.25,315.33 255.75,313.57 257.25,311.73 258.75,309.8 260.25,307.78 261.75,305.67 263.25,303.46 264.75,301.15 266.25,298.74 267.75,296.23 269.25,293.62 270.75,290.92 272.25,288.11 273.75,285.21 275.25,282.23 276.75,279.16 278.25,276.02 279.75,272.83 281.25,269.57 282.75,266.27 284.25,262.94 285.75,259.56 287.25,256.16 288.75,252.73 290.25,249.28 291.75,245.82 293.25,242.36 294.75,238.91 296.25,235.5 297.75,232.16 299.25,228.91 300.75,225.79 302.25,222.83 303.75,220.06 305.25,217.5 306.75,215.19 308.25,213.12 309.75,211.33 311.25,209.82 312.75,208.6 314.25,207.66 315.75,207 317.25,206.64 318.75,206.55 320.25,206.74 321.75,207.19 323.25,207.9 324.75,208.85 326.25,210.03 327.75,211.44 329.25,213.06 330.75,214.86 332.25,216.85 333.75,219.01 335.25,221.32 336.75,223.78 338.25,226.36 339.75,229.05 341.25,231.85 342.75,234.74 344.25,237.71 345.75,240.74 347.25,243.83 348.75,246.96 350.25,250.13 351.75,253.33 353.25,256.55 354.75,259.79 356.25,263.03 357.75,266.27 359.25,269.5 360.75,272.7 362.25,275.88 363.75,279 365.25,282.06 366.75,285.05 368.25,287.94 369.75,290.72 371.25,293.38 372.75,295.92 374.25,298.32 375.75,300.6 377.25,302.75 378.75,304.77 380.25,306.69 381.75,308.51 383.25,310.24 384.75,311.89 386.25,313.45 387.75,314.94 389.25,316.35 390.75,317.69 392.25,318.95 393.75,320.13 395.25,321.24 396.75,322.28 398.25,323.23 399.75,324.11 401.25,324.92 402.75,325.66 404.25,326.32 405.75,326.92 407.25,327.44 408.75,327.91 410.25,328.3 411.75,328.64 413.25,328.91 414.75,329.13 416.25,329.29 417.75,329.4 419.25,329.45 420.75,329.45 422.25,329.41 423.75,329.32 425.25,329.18 426.75,329.01 428.25,328.8 429.75,328.56 431.25,328.29 432.75,328 434.25,327.69 435.75,327.36 437.25,327.03 438.75,326.71 440.25,326.39 441.75,326.09 443.25,325.82 444.75,325.58 446.25,325.37 447.75,325.22 449.25,325.13 450.75,325.09 452.25,325.13 453.75,325.24 455.25,325.42 456.75,325.69 458.25,326.05 459.75,326.5 461.25,327.03 462.75,327.66 464.25,328.37 465.75,329.16 467.25,330.03 468.75,330.97 470.25,331.96 471.75,332.99 473.25,334.05 474.75,335.13 476.25,336.23 477.75,337.33 479.25,338.42 480.75,339.52 482.25,340.61 483.75,341.7 485.25,342.78 486.75,343.85 488.25,344.91 489.75,345.95 491.25,346.96 492.75,347.95 494.25,348.9 495.75,349.82 497.25,350.7 498.75,351.54 500.25,352.34 501.75,353.1 503.25,353.83 504.75,354.52 506.25,355.18 507.75,355.8 509.25,356.39 510.75,356.95 512.25,357.49 513.75,357.99 515.25,358.47 516.75,358.93 518.25,359.36 519.75,359.77 521.25,360.16 522.75,360.53 524.25,360.87 525.75,361.2 527.25,361.51 528.75,361.8 530.25,362.07 531.75,362.32 533.25,362.56 534.75,362.79 536.25,363 537.75,363.19 539.25,363.38 540.75,363.55 542.25,363.71 543.75,363.87 545.25,364.02 546.75,364.16 548.25,364.29 549.75,364.43 551.25,364.55 552.75,364.68 554.25,364.8 555.75,364.92 557.25,365.04 558.75,365.16 560.25,365.28 561.75,365.39 563.25,365.5 564.75,365.6 566.25,365.7 567.75,365.8 569.25,365.89 570.75,365.98 572.25,366.05 573.75,366.13 575.25,366.19 576.75,366.25 578.3,366.31" fill="none" stroke="#E8E030" stroke-width="4.0" stroke-linejoin="round"/>
<polyline points="147.75,315.74 149.25,315.6 150.75,315.46 152.25,315.32 153.75,315.18 155.25,315.05 156.75,314.92 158.25,314.79 159.75,314.66 161.25,314.52 162.75,314.39 164.25,314.25 165.75,314.11 167.25,313.96 168.75,313.81 170.25,313.65 171.75,313.48 173.25,313.31 174.75,313.13 176.25,312.95 177.75,312.75 179.25,312.56 180.75,312.35 182.25,312.14 183.75,311.92 185.25,311.7 186.75,311.47 188.25,311.24 189.75,311 191.25,310.75 192.75,310.49 194.25,310.22 195.75,309.94 197.25,309.66 198.75,309.36 200.25,309.05 201.75,308.73 203.25,308.39 204.75,308.05 206.25,307.68 207.75,307.31 209.25,306.91 210.75,306.51 212.25,306.09 213.75,305.65 215.25,305.2 216.75,304.73 218.25,304.24 219.75,303.74 221.25,303.22 222.75,302.68 224.25,302.13 225.75,301.55 227.25,300.96 228.75,300.35 230.25,299.71 231.75,299.05 233.25,298.36 234.75,297.63 236.25,296.87 237.75,296.07 239.25,295.21 240.75,294.3 242.25,293.32 243.75,292.28 245.25,291.16 246.75,289.97 248.25,288.69 249.75,287.33 251.25,285.89 252.75,284.35 254.25,282.73 255.75,281.01 257.25,279.2 258.75,277.3 260.25,275.29 261.75,273.19 263.25,270.98 264.75,268.66 266.25,266.23 267.75,263.71 269.25,261.08 270.75,258.35 272.25,255.53 273.75,252.63 275.25,249.64 276.75,246.58 278.25,243.44 279.75,240.24 281.25,236.99 282.75,233.68 284.25,230.32 285.75,226.93 287.25,223.52 288.75,220.09 290.25,216.66 291.75,213.26 293.25,209.88 294.75,206.57 296.25,203.33 297.75,200.18 299.25,197.15 300.75,194.25 302.25,191.5 303.75,188.91 305.25,186.49 306.75,184.27 308.25,182.24 309.75,180.43 311.25,178.83 312.75,177.47 314.25,176.34 315.75,175.46 317.25,174.82 318.75,174.45 320.25,174.33 321.75,174.46 323.25,174.86 324.75,175.5 326.25,176.39 327.75,177.51 329.25,178.87 330.75,180.44 332.25,182.22 333.75,184.2 335.25,186.37 336.75,188.72 338.25,191.23 339.75,193.9 341.25,196.71 342.75,199.64 344.25,202.69 345.75,205.83 347.25,209.06 348.75,212.35 350.25,215.69 351.75,219.07 353.25,222.46 354.75,225.86 356.25,229.26 357.75,232.64 359.25,235.99 360.75,239.31 362.25,242.58 363.75,245.79 365.25,248.93 366.75,252 368.25,254.98 369.75,257.86 371.25,260.64 372.75,263.3 374.25,265.85 375.75,268.28 377.25,270.59 378.75,272.8 380.25,274.89 381.75,276.88 383.25,278.76 384.75,280.55 386.25,282.25 387.75,283.86 389.25,285.38 390.75,286.83 392.25,288.19 393.75,289.48 395.25,290.69 396.75,291.84 398.25,292.91 399.75,293.91 401.25,294.85 402.75,295.72 404.25,296.52 405.75,297.26 407.25,297.94 408.75,298.56 410.25,299.12 411.75,299.62 413.25,300.08 414.75,300.48 416.25,300.84 417.75,301.16 419.25,301.44 420.75,301.68 422.25,301.88 423.75,302.04 425.25,302.17 426.75,302.26 428.25,302.31 429.75,302.33 431.25,302.32 432.75,302.27 434.25,302.19 435.75,302.08 437.25,301.95 438.75,301.8 440.25,301.63 441.75,301.46 443.25,301.28 444.75,301.1 446.25,300.93 447.75,300.78 449.25,300.66 450.75,300.57 452.25,300.53 453.75,300.54 455.25,300.61 456.75,300.74 458.25,300.94 459.75,301.22 461.25,301.57 462.75,302 464.25,302.5 465.75,303.08 467.25,303.72 468.75,304.42 470.25,305.17 471.75,305.97 473.25,306.81 474.75,307.69 476.25,308.58 477.75,309.49 479.25,310.4 480.75,311.31 482.25,312.22 483.75,313.11 485.25,313.99 486.75,314.84 488.25,315.68 489.75,316.49 491.25,317.28 492.75,318.04 494.25,318.78 495.75,319.49 497.25,320.18 498.75,320.85 500.25,321.49 501.75,322.11 503.25,322.71 504.75,323.28 506.25,323.83 507.75,324.35 509.25,324.86 510.75,325.33 512.25,325.79 513.75,326.21 515.25,326.62 516.75,327 518.25,327.37 519.75,327.71 521.25,328.03 522.75,328.33 524.25,328.62 525.75,328.89 527.25,329.15 528.75,329.39 530.25,329.63 531.75,329.85 533.25,330.07 534.75,330.27 536.25,330.48 537.75,330.67 539.25,330.87 540.75,331.05 542.25,331.24 543.75,331.42 545.25,331.59 546.75,331.77 548.25,331.93 549.75,332.1 551.25,332.26 552.75,332.41 554.25,332.56 555.75,332.71 557.25,332.85 558.75,332.98 560.25,333.11 561.75,333.23 563.25,333.34 564.75,333.44 566.25,333.54 567.75,333.63 569.25,333.71 570.75,333.79 572.25,333.85 573.75,333.91 575.25,333.96 576.75,334 578.3,334.03" fill="none" stroke="#E8A828" stroke-width="4.0" stroke-linejoin="round"/>
<polyline points="147.75,282.51 149.25,282.35 150.75,282.19 152.25,282.05 153.75,281.91 155.25,281.79 156.75,281.67 158.25,281.56 159.75,281.45 161.25,281.34 162.75,281.23 164.25,281.11 165.75,280.99 167.25,280.85 168.75,280.71 170.25,280.55 171.75,280.38 173.25,280.2 174.75,280.01 176.25,279.81 177.75,279.59 179.25,279.37 180.75,279.14 182.25,278.9 183.75,278.66 185.25,278.41 186.75,278.15 188.25,277.89 189.75,277.62 191.25,277.35 192.75,277.07 194.25,276.79 195.75,276.5 197.25,276.2 198.75,275.9 200.25,275.58 201.75,275.26 203.25,274.92 204.75,274.58 206.25,274.22 207.75,273.85 209.25,273.47 210.75,273.08 212.25,272.66 213.75,272.24 215.25,271.8 216.75,271.34 218.25,270.87 219.75,270.38 221.25,269.87 222.75,269.35 224.25,268.81 225.75,268.25 227.25,267.68 228.75,267.09 230.25,266.48 231.75,265.85 233.25,265.2 234.75,264.53 236.25,263.83 237.75,263.1 239.25,262.33 240.75,261.52 242.25,260.66 243.75,259.73 245.25,258.74 246.75,257.66 248.25,256.5 249.75,255.24 251.25,253.87 252.75,252.4 254.25,250.83 255.75,249.15 257.25,247.36 258.75,245.48 260.25,243.49 261.75,241.4 263.25,239.21 264.75,236.92 266.25,234.53 267.75,232.04 269.25,229.46 270.75,226.78 272.25,224 273.75,221.14 275.25,218.2 276.75,215.19 278.25,212.11 279.75,208.97 281.25,205.79 282.75,202.57 284.25,199.32 285.75,196.05 287.25,192.78 288.75,189.51 290.25,186.26 291.75,183.03 293.25,179.85 294.75,176.7 296.25,173.62 297.75,170.6 299.25,167.66 300.75,164.81 302.25,162.07 303.75,159.44 305.25,156.94 306.75,154.58 308.25,152.38 309.75,150.36 311.25,148.53 312.75,146.9 314.25,145.48 315.75,144.3 317.25,143.35 318.75,142.64 320.25,142.19 321.75,142 323.25,142.07 324.75,142.41 326.25,143.01 327.75,143.87 329.25,144.98 330.75,146.35 332.25,147.95 333.75,149.77 335.25,151.79 336.75,154.02 338.25,156.41 339.75,158.98 341.25,161.69 342.75,164.54 344.25,167.51 345.75,170.59 347.25,173.77 348.75,177.02 350.25,180.32 351.75,183.67 353.25,187.04 354.75,190.42 356.25,193.8 357.75,197.17 359.25,200.51 360.75,203.83 362.25,207.11 363.75,210.35 365.25,213.53 366.75,216.66 368.25,219.7 369.75,222.66 371.25,225.53 372.75,228.29 374.25,230.93 375.75,233.46 377.25,235.87 378.75,238.16 380.25,240.33 381.75,242.4 383.25,244.36 384.75,246.23 386.25,248.02 387.75,249.72 389.25,251.36 390.75,252.93 392.25,254.45 393.75,255.92 395.25,257.33 396.75,258.71 398.25,260.03 399.75,261.31 401.25,262.53 402.75,263.71 404.25,264.82 405.75,265.88 407.25,266.88 408.75,267.81 410.25,268.69 411.75,269.5 413.25,270.26 414.75,270.96 416.25,271.6 417.75,272.19 419.25,272.73 420.75,273.22 422.25,273.67 423.75,274.07 425.25,274.42 426.75,274.73 428.25,274.99 429.75,275.21 431.25,275.39 432.75,275.53 434.25,275.64 435.75,275.71 437.25,275.76 438.75,275.79 440.25,275.81 441.75,275.82 443.25,275.82 444.75,275.82 446.25,275.83 447.75,275.85 449.25,275.88 450.75,275.93 452.25,276 453.75,276.1 455.25,276.22 456.75,276.37 458.25,276.55 459.75,276.77 461.25,277.02 462.75,277.29 464.25,277.61 465.75,277.95 467.25,278.33 468.75,278.74 470.25,279.18 471.75,279.65 473.25,280.16 474.75,280.69 476.25,281.25 477.75,281.84 479.25,282.44 480.75,283.06 482.25,283.69 483.75,284.34 485.25,284.98 486.75,285.63 488.25,286.28 489.75,286.93 491.25,287.57 492.75,288.2 494.25,288.82 495.75,289.42 497.25,290.01 498.75,290.58 500.25,291.13 501.75,291.67 503.25,292.19 504.75,292.69 506.25,293.17 507.75,293.63 509.25,294.06 510.75,294.47 512.25,294.85 513.75,295.21 515.25,295.54 516.75,295.85 518.25,296.13 519.75,296.4 521.25,296.64 522.75,296.87 524.25,297.08 525.75,297.27 527.25,297.46 528.75,297.63 530.25,297.79 531.75,297.94 533.25,298.09 534.75,298.23 536.25,298.36 537.75,298.48 539.25,298.6 540.75,298.72 542.25,298.83 543.75,298.93 545.25,299.04 546.75,299.13 548.25,299.23 549.75,299.33 551.25,299.42 552.75,299.51 554.25,299.6 555.75,299.7 557.25,299.79 558.75,299.89 560.25,299.98 561.75,300.08 563.25,300.18 564.75,300.28 566.25,300.38 567.75,300.47 569.25,300.56 570.75,300.63 572.25,300.7 573.75,300.75 575.25,300.79 576.75,300.81 578.3,300.82" fill="none" stroke="#F08828" stroke-width="4.0" stroke-linejoin="round"/>
<polyline points="147.75,249.52 149.25,249.41 150.75,249.3 152.25,249.19 153.75,249.09 155.25,248.99 156.75,248.89 158.25,248.79 159.75,248.7 161.25,248.6 162.75,248.5 164.25,248.39 165.75,248.27 167.25,248.15 168.75,248.02 170.25,247.87 171.75,247.72 173.25,247.55 174.75,247.38 176.25,247.19 177.75,246.99 179.25,246.78 180.75,246.56 182.25,246.33 183.75,246.09 185.25,245.84 186.75,245.59 188.25,245.32 189.75,245.05 191.25,244.76 192.75,244.47 194.25,244.16 195.75,243.85 197.25,243.52 198.75,243.18 200.25,242.83 201.75,242.46 203.25,242.09 204.75,241.71 206.25,241.31 207.75,240.91 209.25,240.5 210.75,240.09 212.25,239.67 213.75,239.25 215.25,238.82 216.75,238.39 218.25,237.95 219.75,237.5 221.25,237.03 222.75,236.56 224.25,236.06 225.75,235.54 227.25,235 228.75,234.43 230.25,233.83 231.75,233.2 233.25,232.53 234.75,231.81 236.25,231.05 237.75,230.23 239.25,229.34 240.75,228.38 242.25,227.35 243.75,226.23 245.25,225.01 246.75,223.71 248.25,222.31 249.75,220.82 251.25,219.23 252.75,217.54 254.25,215.77 255.75,213.89 257.25,211.93 258.75,209.87 260.25,207.72 261.75,205.47 263.25,203.13 264.75,200.71 266.25,198.19 267.75,195.6 269.25,192.92 270.75,190.17 272.25,187.35 273.75,184.46 275.25,181.51 276.75,178.5 278.25,175.43 279.75,172.3 281.25,169.12 282.75,165.88 284.25,162.6 285.75,159.28 287.25,155.94 288.75,152.58 290.25,149.22 291.75,145.89 293.25,142.59 294.75,139.34 296.25,136.17 297.75,133.09 299.25,130.12 300.75,127.28 302.25,124.58 303.75,122.05 305.25,119.71 306.75,117.57 308.25,115.65 309.75,113.97 311.25,112.52 312.75,111.33 314.25,110.4 315.75,109.73 317.25,109.33 318.75,109.18 320.25,109.3 321.75,109.68 323.25,110.32 324.75,111.2 326.25,112.33 327.75,113.7 329.25,115.29 330.75,117.1 332.25,119.11 333.75,121.3 335.25,123.66 336.75,126.17 338.25,128.8 339.75,131.54 341.25,134.38 342.75,137.29 344.25,140.26 345.75,143.29 347.25,146.37 348.75,149.49 350.25,152.65 351.75,155.85 353.25,159.08 354.75,162.34 356.25,165.62 357.75,168.92 359.25,172.21 360.75,175.5 362.25,178.76 363.75,181.98 365.25,185.15 366.75,188.25 368.25,191.28 369.75,194.23 371.25,197.08 372.75,199.84 374.25,202.5 375.75,205.07 377.25,207.54 378.75,209.91 380.25,212.19 381.75,214.37 383.25,216.45 384.75,218.44 386.25,220.34 387.75,222.15 389.25,223.87 390.75,225.51 392.25,227.07 393.75,228.55 395.25,229.96 396.75,231.29 398.25,232.56 399.75,233.77 401.25,234.91 402.75,235.99 404.25,237 405.75,237.96 407.25,238.85 408.75,239.68 410.25,240.45 411.75,241.16 413.25,241.82 414.75,242.42 416.25,242.98 417.75,243.49 419.25,243.96 420.75,244.4 422.25,244.81 423.75,245.19 425.25,245.55 426.75,245.89 428.25,246.21 429.75,246.51 431.25,246.8 432.75,247.08 434.25,247.34 435.75,247.59 437.25,247.83 438.75,248.05 440.25,248.26 441.75,248.46 443.25,248.64 444.75,248.82 446.25,248.98 447.75,249.14 449.25,249.29 450.75,249.44 452.25,249.59 453.75,249.74 455.25,249.89 456.75,250.06 458.25,250.23 459.75,250.42 461.25,250.64 462.75,250.87 464.25,251.13 465.75,251.41 467.25,251.72 468.75,252.06 470.25,252.42 471.75,252.81 473.25,253.22 474.75,253.64 476.25,254.08 477.75,254.53 479.25,254.99 480.75,255.45 482.25,255.91 483.75,256.37 485.25,256.82 486.75,257.26 488.25,257.7 489.75,258.12 491.25,258.54 492.75,258.94 494.25,259.33 495.75,259.71 497.25,260.08 498.75,260.44 500.25,260.79 501.75,261.12 503.25,261.44 504.75,261.76 506.25,262.06 507.75,262.35 509.25,262.63 510.75,262.9 512.25,263.16 513.75,263.41 515.25,263.66 516.75,263.9 518.25,264.13 519.75,264.35 521.25,264.57 522.75,264.78 524.25,264.98 525.75,265.18 527.25,265.37 528.75,265.56 530.25,265.73 531.75,265.91 533.25,266.07 534.75,266.23 536.25,266.39 537.75,266.54 539.25,266.68 540.75,266.82 542.25,266.96 543.75,267.09 545.25,267.21 546.75,267.34 548.25,267.46 549.75,267.57 551.25,267.68 552.75,267.79 554.25,267.9 555.75,268 557.25,268.1 558.75,268.19 560.25,268.29 561.75,268.38 563.25,268.46 564.75,268.55 566.25,268.63 567.75,268.7 569.25,268.77 570.75,268.84 572.25,268.9 573.75,268.96 575.25,269.02 576.75,269.07 578.3,269.11" fill="none" stroke="#FF4040" stroke-width="4.0" stroke-linejoin="round"/>
<polyline points="147.75,215.43 149.25,215.35 150.75,215.27 152.25,215.18 153.75,215.08 155.25,214.98 156.75,214.88 158.25,214.77 159.75,214.66 161.25,214.55 162.75,214.44 164.25,214.33 165.75,214.21 167.25,214.1 168.75,214 170.25,213.89 171.75,213.79 173.25,213.69 174.75,213.59 176.25,213.49 177.75,213.39 179.25,213.3 180.75,213.2 182.25,213.1 183.75,213 185.25,212.9 186.75,212.79 188.25,212.68 189.75,212.56 191.25,212.44 192.75,212.31 194.25,212.17 195.75,212.02 197.25,211.86 198.75,211.7 200.25,211.52 201.75,211.34 203.25,211.14 204.75,210.92 206.25,210.7 207.75,210.45 209.25,210.19 210.75,209.92 212.25,209.62 213.75,209.31 215.25,208.97 216.75,208.61 218.25,208.22 219.75,207.81 221.25,207.36 222.75,206.89 224.25,206.38 225.75,205.83 227.25,205.25 228.75,204.62 230.25,203.96 231.75,203.24 233.25,202.48 234.75,201.66 236.25,200.79 237.75,199.86 239.25,198.87 240.75,197.82 242.25,196.7 243.75,195.52 245.25,194.26 246.75,192.93 248.25,191.53 249.75,190.05 251.25,188.5 252.75,186.88 254.25,185.18 255.75,183.4 257.25,181.55 258.75,179.62 260.25,177.61 261.75,175.51 263.25,173.32 264.75,171.03 266.25,168.65 267.75,166.16 269.25,163.58 270.75,160.9 272.25,158.14 273.75,155.3 275.25,152.4 276.75,149.44 278.25,146.43 279.75,143.39 281.25,140.3 282.75,137.18 284.25,134.03 285.75,130.84 287.25,127.63 288.75,124.39 290.25,121.14 291.75,117.88 293.25,114.64 294.75,111.42 296.25,108.24 297.75,105.12 299.25,102.08 300.75,99.14 302.25,96.3 303.75,93.61 305.25,91.06 306.75,88.68 308.25,86.5 309.75,84.51 311.25,82.75 312.75,81.21 314.25,79.92 315.75,78.87 317.25,78.08 318.75,77.55 320.25,77.29 321.75,77.3 323.25,77.58 324.75,78.14 326.25,78.96 327.75,80.05 329.25,81.39 330.75,82.98 332.25,84.81 333.75,86.86 335.25,89.12 336.75,91.56 338.25,94.18 339.75,96.95 341.25,99.85 342.75,102.86 344.25,105.97 345.75,109.15 347.25,112.4 348.75,115.69 350.25,119.01 351.75,122.36 353.25,125.72 354.75,129.08 356.25,132.43 357.75,135.77 359.25,139.08 360.75,142.36 362.25,145.6 363.75,148.8 365.25,151.93 366.75,155.01 368.25,158.01 369.75,160.95 371.25,163.81 372.75,166.59 374.25,169.29 375.75,171.9 377.25,174.43 378.75,176.87 380.25,179.23 381.75,181.5 383.25,183.68 384.75,185.77 386.25,187.76 387.75,189.66 389.25,191.47 390.75,193.18 392.25,194.79 393.75,196.32 395.25,197.77 396.75,199.13 398.25,200.41 399.75,201.62 401.25,202.76 402.75,203.84 404.25,204.86 405.75,205.82 407.25,206.74 408.75,207.61 410.25,208.44 411.75,209.24 413.25,210 414.75,210.73 416.25,211.42 417.75,212.09 419.25,212.72 420.75,213.32 422.25,213.89 423.75,214.43 425.25,214.93 426.75,215.4 428.25,215.85 429.75,216.27 431.25,216.66 432.75,217.03 434.25,217.38 435.75,217.71 437.25,218.02 438.75,218.32 440.25,218.6 441.75,218.87 443.25,219.13 444.75,219.38 446.25,219.62 447.75,219.86 449.25,220.1 450.75,220.34 452.25,220.59 453.75,220.85 455.25,221.12 456.75,221.41 458.25,221.7 459.75,222 461.25,222.32 462.75,222.64 464.25,222.97 465.75,223.3 467.25,223.64 468.75,223.97 470.25,224.3 471.75,224.63 473.25,224.95 474.75,225.27 476.25,225.58 477.75,225.89 479.25,226.19 480.75,226.48 482.25,226.77 483.75,227.05 485.25,227.32 486.75,227.59 488.25,227.85 489.75,228.1 491.25,228.34 492.75,228.58 494.25,228.82 495.75,229.05 497.25,229.27 498.75,229.49 500.25,229.71 501.75,229.92 503.25,230.13 504.75,230.34 506.25,230.54 507.75,230.74 509.25,230.93 510.75,231.12 512.25,231.31 513.75,231.49 515.25,231.67 516.75,231.84 518.25,232.02 519.75,232.19 521.25,232.35 522.75,232.51 524.25,232.67 525.75,232.83 527.25,232.98 528.75,233.13 530.25,233.28 531.75,233.42 533.25,233.56 534.75,233.7 536.25,233.83 537.75,233.95 539.25,234.08 540.75,234.2 542.25,234.31 543.75,234.42 545.25,234.53 546.75,234.64 548.25,234.74 549.75,234.84 551.25,234.94 552.75,235.03 554.25,235.13 555.75,235.22 557.25,235.31 558.75,235.39 560.25,235.48 561.75,235.56 563.25,235.65 564.75,235.73 566.25,235.81 567.75,235.88 569.25,235.96 570.75,236.03 572.25,236.1 573.75,236.17 575.25,236.24 576.75,236.3 578.3,236.36" fill="none" stroke="#F0008C" stroke-width="4.0" stroke-linejoin="round"/>
</g>
<text x="151.49" y="204.3" font-size="29.1" fill="#F0008C" textLength="75.31" lengthAdjust="spacingAndGlyphs">631 D</text>
<text x="152.07" y="235.6" font-size="29.1" fill="#FF4040" textLength="74.72" lengthAdjust="spacingAndGlyphs">464 D</text>
<text x="151.14" y="269.6" font-size="29.1" fill="#F08828" textLength="75.67" lengthAdjust="spacingAndGlyphs">302 D</text>
<text x="150.36" y="303.3" font-size="29.1" fill="#E8A828" textLength="76.15" lengthAdjust="spacingAndGlyphs">189 D</text>
<text x="150.56" y="336.5" font-size="29.1" fill="#E8E030" textLength="76.05" lengthAdjust="spacingAndGlyphs">143 D</text>
<text x="153.86" y="370.2" font-size="29.1" fill="#A0E830" textLength="59.47" lengthAdjust="spacingAndGlyphs">97 D</text>
<text x="156.87" y="411.4" font-size="29.1" fill="#00E010" textLength="59.67" lengthAdjust="spacingAndGlyphs">55 D</text>
<text x="156.9" y="495.6" font-size="29.1" fill="#00D090" textLength="35.24" lengthAdjust="spacingAndGlyphs">5D</text>
<text x="156.9" y="531.6" font-size="29.1" fill="#00C8C8" textLength="49.04" lengthAdjust="spacingAndGlyphs">37h</text>
<text x="157.11" y="579.1" font-size="29.1" fill="#00A0F8" textLength="48.83" lengthAdjust="spacingAndGlyphs">14h</text>
<text x="158.17" y="623.5" font-size="29.1" fill="#2040F8" textLength="82.23" lengthAdjust="spacingAndGlyphs">30min</text>
<text x="159.67" y="666.7" font-size="29.1" fill="#6600DD" textLength="65.29" lengthAdjust="spacingAndGlyphs">3min</text>
<text x="-1.74" y="29" font-size="37.3" fill="#000" textLength="43.88" lengthAdjust="spacingAndGlyphs">(a)</text>
<text x="437.07" y="29" font-size="37.3" fill="#000" textLength="133.95" lengthAdjust="spacingAndGlyphs">Ge(001)</text>
<text x="434.06" y="90.9" font-size="37.4" fill="#000" textLength="90.33" lengthAdjust="spacingAndGlyphs" font-weight="bold">Ge2p</text>
<text x="524.35" y="101.9" font-size="24.6" fill="#000" textLength="39.9" lengthAdjust="spacingAndGlyphs" font-weight="bold">3/2</text>
<rect x="579.3" y="40" width="3" height="660" fill="#fff"/>
</g>
<g id="panel-b">
<rect x="833.9" y="45.1" width="430.6" height="650" fill="none" stroke="#000" stroke-width="2.6"/>
<path d="M833.9 695.1v5.25M876.96 695.1v10.9M920.02 695.1v5.25M963.08 695.1v10.9M1006.14 695.1v5.25M1049.2 695.1v10.9M1092.26 695.1v5.25M1135.32 695.1v10.9M1178.38 695.1v5.25M1221.44 695.1v10.9M1264.5 695.1v5.25M833.9 695.1h-10.9M833.9 657.31h-5.25M833.9 619.52h-10.9M833.9 581.73h-5.25M833.9 543.94h-10.9M833.9 506.15h-5.25M833.9 468.36h-10.9M833.9 430.57h-5.25M833.9 392.77h-10.9M833.9 354.98h-5.25M833.9 317.19h-10.9M833.9 279.4h-5.25M833.9 241.61h-10.9M833.9 203.82h-5.25M833.9 166.03h-10.9M833.9 128.24h-5.25M833.9 90.45h-10.9M833.9 52.66h-5.25" fill="none" stroke="#000" stroke-width="2.6"/>
<g font-size="32.0" fill="#000"><text x="876.96" y="737.8" text-anchor="middle" font-size="31.8" textLength="68.97" lengthAdjust="spacingAndGlyphs">1224</text><text x="963.08" y="737.8" text-anchor="middle" font-size="31.8" textLength="68.97" lengthAdjust="spacingAndGlyphs">1222</text><text x="1049.2" y="737.8" text-anchor="middle" font-size="31.8" textLength="68.97" lengthAdjust="spacingAndGlyphs">1220</text><text x="1135.32" y="737.8" text-anchor="middle" font-size="31.8" textLength="68.97" lengthAdjust="spacingAndGlyphs">1218</text><text x="1221.44" y="737.8" text-anchor="middle" font-size="31.8" textLength="68.97" lengthAdjust="spacingAndGlyphs">1216</text><text x="815.2" y="704.3" text-anchor="end">0.0</text><text x="815.2" y="628.72" text-anchor="end">0.5</text><text x="815.2" y="553.14" text-anchor="end">1.0</text><text x="815.2" y="477.56" text-anchor="end">1.5</text><text x="815.2" y="401.97" text-anchor="end">2.0</text><text x="815.2" y="326.39" text-anchor="end">2.5</text><text x="815.2" y="250.81" text-anchor="end">3.0</text><text x="815.2" y="175.23" text-anchor="end">3.5</text><text x="815.2" y="99.65" text-anchor="end">4.0</text></g>
<text transform="translate(732.3 348.3) rotate(-90)" text-anchor="middle" font-size="31.55" fill="#000">Normalized Intensity (Counts/s)</text>
<text x="1049.7" y="776.2" text-anchor="middle" font-size="31.55" fill="#000">Binding Energy</text>
<clipPath id="clip-b"><rect x="833.9" y="45.1" width="430.6" height="650"/></clipPath>
<g clip-path="url(#clip-b)">
<polyline points="833.9,676.73 835.4,676.82 836.9,676.91 838.4,676.99 839.9,677.07 841.4,677.15 842.9,677.23 844.4,677.3 845.9,677.37 847.4,677.44 848.9,677.51 850.4,677.58 851.9,677.65 853.4,677.72 854.9,677.8 856.4,677.87 857.9,677.94 859.4,678.02 860.9,678.09 862.4,678.17 863.9,678.25 865.4,678.33 866.9,678.4 868.4,678.48 869.9,678.55 871.4,678.63 872.9,678.7 874.4,678.77 875.9,678.84 877.4,678.91 878.9,678.98 880.4,679.04 881.9,679.1 883.4,679.16 884.9,679.22 886.4,679.28 887.9,679.33 889.4,679.38 890.9,679.43 892.4,679.47 893.9,679.51 895.4,679.55 896.9,679.59 898.4,679.62 899.9,679.65 901.4,679.68 902.9,679.7 904.4,679.73 905.9,679.74 907.4,679.76 908.9,679.77 910.4,679.78 911.9,679.79 913.4,679.79 914.9,679.8 916.4,679.8 917.9,679.79 919.4,679.79 920.9,679.79 922.4,679.78 923.9,679.77 925.4,679.76 926.9,679.75 928.4,679.73 929.9,679.71 931.4,679.69 932.9,679.67 934.4,679.64 935.9,679.61 937.4,679.57 938.9,679.53 940.4,679.48 941.9,679.43 943.4,679.37 944.9,679.31 946.4,679.24 947.9,679.16 949.4,679.08 950.9,678.99 952.4,678.9 953.9,678.8 955.4,678.69 956.9,678.59 958.4,678.47 959.9,678.36 961.4,678.25 962.9,678.13 964.4,678.01 965.9,677.9 967.4,677.78 968.9,677.66 970.4,677.54 971.9,677.42 973.4,677.29 974.9,677.15 976.4,677.02 977.9,676.87 979.4,676.71 980.9,676.55 982.4,676.37 983.9,676.19 985.4,676 986.9,675.79 988.4,675.57 989.9,675.34 991.4,675.11 992.9,674.86 994.4,674.6 995.9,674.33 997.4,674.05 998.9,673.77 1000.4,673.48 1001.9,673.18 1003.4,672.87 1004.9,672.56 1006.4,672.23 1007.9,671.91 1009.4,671.57 1010.9,671.23 1012.4,670.87 1013.9,670.51 1015.4,670.13 1016.9,669.73 1018.4,669.32 1019.9,668.88 1021.4,668.42 1022.9,667.93 1024.4,667.42 1025.9,666.88 1027.4,666.31 1028.9,665.72 1030.4,665.1 1031.9,664.46 1033.4,663.79 1034.9,663.09 1036.4,662.36 1037.9,661.61 1039.4,660.82 1040.9,660 1042.4,659.15 1043.9,658.25 1045.4,657.32 1046.9,656.35 1048.4,655.33 1049.9,654.27 1051.4,653.17 1052.9,652.02 1054.4,650.83 1055.9,649.59 1057.4,648.31 1058.9,646.97 1060.4,645.57 1061.9,644.12 1063.4,642.6 1064.9,641.02 1066.4,639.36 1067.9,637.62 1069.4,635.8 1070.9,633.91 1072.4,631.92 1073.9,629.86 1075.4,627.71 1076.9,625.48 1078.4,623.18 1079.9,620.79 1081.4,618.32 1082.9,615.76 1084.4,613.12 1085.9,610.39 1087.4,607.57 1088.9,604.66 1090.4,601.65 1091.9,598.56 1093.4,595.39 1094.9,592.15 1096.4,588.85 1097.9,585.51 1099.4,582.14 1100.9,578.77 1102.4,575.42 1103.9,572.1 1105.4,568.83 1106.9,565.64 1108.4,562.54 1109.9,559.56 1111.4,556.73 1112.9,554.06 1114.4,551.58 1115.9,549.33 1117.4,547.32 1118.9,545.6 1120.4,544.18 1121.9,543.1 1123.4,542.38 1124.9,542.05 1126.4,542.12 1127.9,542.6 1129.4,543.5 1130.9,544.81 1132.4,546.52 1133.9,548.6 1135.4,551.05 1136.9,553.83 1138.4,556.9 1139.9,560.25 1141.4,563.83 1142.9,567.61 1144.4,571.55 1145.9,575.63 1147.4,579.81 1148.9,584.05 1150.4,588.33 1151.9,592.61 1153.4,596.88 1154.9,601.1 1156.4,605.26 1157.9,609.34 1159.4,613.33 1160.9,617.2 1162.4,620.96 1163.9,624.59 1165.4,628.07 1166.9,631.42 1168.4,634.61 1169.9,637.66 1171.4,640.54 1172.9,643.28 1174.4,645.86 1175.9,648.3 1177.4,650.6 1178.9,652.77 1180.4,654.81 1181.9,656.74 1183.4,658.56 1184.9,660.28 1186.4,661.91 1187.9,663.46 1189.4,664.93 1190.9,666.33 1192.4,667.65 1193.9,668.91 1195.4,670.11 1196.9,671.24 1198.4,672.32 1199.9,673.34 1201.4,674.3 1202.9,675.22 1204.4,676.09 1205.9,676.91 1207.4,677.69 1208.9,678.43 1210.4,679.13 1211.9,679.8 1213.4,680.43 1214.9,681.04 1216.4,681.62 1217.9,682.17 1219.4,682.69 1220.9,683.19 1222.4,683.67 1223.9,684.12 1225.4,684.56 1226.9,684.97 1228.4,685.36 1229.9,685.74 1231.4,686.09 1232.9,686.43 1234.4,686.74 1235.9,687.05 1237.4,687.33 1238.9,687.61 1240.4,687.87 1241.9,688.12 1243.4,688.36 1244.9,688.59 1246.4,688.81 1247.9,689.02 1249.4,689.23 1250.9,689.43 1252.4,689.64 1253.9,689.83 1255.4,690.03 1256.9,690.23 1258.4,690.43 1259.9,690.63 1261.4,690.83 1262.9,691.04 1264.5,691.26" fill="none" stroke="#2040F8" stroke-width="3.8" stroke-linejoin="round"/>
<polyline points="833.9,640.69 835.4,640.72 836.9,640.75 838.4,640.78 839.9,640.81 841.4,640.83 842.9,640.86 844.4,640.88 845.9,640.9 847.4,640.92 848.9,640.94 850.4,640.96 851.9,640.97 853.4,640.99 854.9,641.01 856.4,641.03 857.9,641.05 859.4,641.07 860.9,641.09 862.4,641.1 863.9,641.12 865.4,641.14 866.9,641.16 868.4,641.18 869.9,641.19 871.4,641.21 872.9,641.23 874.4,641.24 875.9,641.25 877.4,641.26 878.9,641.28 880.4,641.29 881.9,641.3 883.4,641.3 884.9,641.31 886.4,641.32 887.9,641.32 889.4,641.33 890.9,641.33 892.4,641.33 893.9,641.33 895.4,641.32 896.9,641.32 898.4,641.31 899.9,641.3 901.4,641.29 902.9,641.27 904.4,641.25 905.9,641.23 907.4,641.21 908.9,641.18 910.4,641.15 911.9,641.11 913.4,641.07 914.9,641.03 916.4,640.98 917.9,640.92 919.4,640.86 920.9,640.8 922.4,640.72 923.9,640.65 925.4,640.56 926.9,640.47 928.4,640.37 929.9,640.26 931.4,640.15 932.9,640.03 934.4,639.9 935.9,639.76 937.4,639.62 938.9,639.47 940.4,639.31 941.9,639.15 943.4,638.99 944.9,638.83 946.4,638.66 947.9,638.49 949.4,638.32 950.9,638.15 952.4,637.97 953.9,637.78 955.4,637.58 956.9,637.36 958.4,637.13 959.9,636.86 961.4,636.57 962.9,636.26 964.4,635.92 965.9,635.55 967.4,635.17 968.9,634.76 970.4,634.35 971.9,633.91 973.4,633.47 974.9,633.01 976.4,632.53 977.9,632.03 979.4,631.52 980.9,630.98 982.4,630.42 983.9,629.83 985.4,629.22 986.9,628.59 988.4,627.94 989.9,627.27 991.4,626.58 992.9,625.88 994.4,625.16 995.9,624.43 997.4,623.68 998.9,622.92 1000.4,622.16 1001.9,621.38 1003.4,620.6 1004.9,619.82 1006.4,619.05 1007.9,618.28 1009.4,617.53 1010.9,616.8 1012.4,616.08 1013.9,615.4 1015.4,614.73 1016.9,614.09 1018.4,613.47 1019.9,612.87 1021.4,612.28 1022.9,611.71 1024.4,611.13 1025.9,610.56 1027.4,609.98 1028.9,609.4 1030.4,608.81 1031.9,608.21 1033.4,607.6 1034.9,606.98 1036.4,606.36 1037.9,605.72 1039.4,605.07 1040.9,604.41 1042.4,603.73 1043.9,603.02 1045.4,602.3 1046.9,601.55 1048.4,600.76 1049.9,599.94 1051.4,599.07 1052.9,598.16 1054.4,597.21 1055.9,596.2 1057.4,595.14 1058.9,594.02 1060.4,592.85 1061.9,591.62 1063.4,590.32 1064.9,588.96 1066.4,587.53 1067.9,586.03 1069.4,584.45 1070.9,582.8 1072.4,581.06 1073.9,579.25 1075.4,577.35 1076.9,575.36 1078.4,573.28 1079.9,571.11 1081.4,568.85 1082.9,566.49 1084.4,564.04 1085.9,561.49 1087.4,558.85 1088.9,556.13 1090.4,553.33 1091.9,550.46 1093.4,547.53 1094.9,544.54 1096.4,541.52 1097.9,538.48 1099.4,535.44 1100.9,532.41 1102.4,529.42 1103.9,526.49 1105.4,523.65 1106.9,520.91 1108.4,518.3 1109.9,515.86 1111.4,513.61 1112.9,511.57 1114.4,509.78 1115.9,508.27 1117.4,507.05 1118.9,506.17 1120.4,505.63 1121.9,505.46 1123.4,505.67 1124.9,506.27 1126.4,507.27 1127.9,508.66 1129.4,510.44 1130.9,512.58 1132.4,515.07 1133.9,517.88 1135.4,520.97 1136.9,524.32 1138.4,527.88 1139.9,531.61 1141.4,535.49 1142.9,539.47 1144.4,543.52 1145.9,547.62 1147.4,551.74 1148.9,555.86 1150.4,559.97 1151.9,564.04 1153.4,568.08 1154.9,572.06 1156.4,575.98 1157.9,579.83 1159.4,583.6 1160.9,587.28 1162.4,590.87 1163.9,594.34 1165.4,597.7 1166.9,600.94 1168.4,604.05 1169.9,607.03 1171.4,609.88 1172.9,612.59 1174.4,615.18 1175.9,617.62 1177.4,619.94 1178.9,622.13 1180.4,624.19 1181.9,626.13 1183.4,627.94 1184.9,629.64 1186.4,631.23 1187.9,632.7 1189.4,634.07 1190.9,635.34 1192.4,636.52 1193.9,637.61 1195.4,638.62 1196.9,639.56 1198.4,640.44 1199.9,641.25 1201.4,642.02 1202.9,642.73 1204.4,643.41 1205.9,644.04 1207.4,644.65 1208.9,645.22 1210.4,645.76 1211.9,646.27 1213.4,646.76 1214.9,647.22 1216.4,647.67 1217.9,648.09 1219.4,648.49 1220.9,648.87 1222.4,649.24 1223.9,649.58 1225.4,649.91 1226.9,650.23 1228.4,650.53 1229.9,650.82 1231.4,651.09 1232.9,651.36 1234.4,651.61 1235.9,651.85 1237.4,652.08 1238.9,652.3 1240.4,652.52 1241.9,652.72 1243.4,652.92 1244.9,653.11 1246.4,653.3 1247.9,653.47 1249.4,653.65 1250.9,653.81 1252.4,653.97 1253.9,654.13 1255.4,654.29 1256.9,654.44 1258.4,654.59 1259.9,654.73 1261.4,654.88 1262.9,655.02 1264.5,655.17" fill="none" stroke="#00A0F8" stroke-width="3.8" stroke-linejoin="round"/>
<polyline points="833.9,601.22 835.4,601.23 836.9,601.24 838.4,601.26 839.9,601.27 841.4,601.29 842.9,601.3 844.4,601.32 845.9,601.33 847.4,601.34 848.9,601.36 850.4,601.37 851.9,601.38 853.4,601.39 854.9,601.39 856.4,601.4 857.9,601.4 859.4,601.4 860.9,601.4 862.4,601.4 863.9,601.4 865.4,601.39 866.9,601.38 868.4,601.37 869.9,601.36 871.4,601.34 872.9,601.32 874.4,601.3 875.9,601.28 877.4,601.26 878.9,601.24 880.4,601.21 881.9,601.18 883.4,601.15 884.9,601.12 886.4,601.08 887.9,601.04 889.4,601 890.9,600.96 892.4,600.91 893.9,600.86 895.4,600.8 896.9,600.73 898.4,600.67 899.9,600.59 901.4,600.51 902.9,600.42 904.4,600.33 905.9,600.22 907.4,600.11 908.9,599.99 910.4,599.87 911.9,599.74 913.4,599.6 914.9,599.45 916.4,599.29 917.9,599.13 919.4,598.96 920.9,598.79 922.4,598.6 923.9,598.41 925.4,598.21 926.9,598 928.4,597.79 929.9,597.56 931.4,597.33 932.9,597.08 934.4,596.82 935.9,596.56 937.4,596.28 938.9,595.99 940.4,595.68 941.9,595.37 943.4,595.03 944.9,594.69 946.4,594.33 947.9,593.95 949.4,593.55 950.9,593.14 952.4,592.7 953.9,592.24 955.4,591.76 956.9,591.26 958.4,590.74 959.9,590.19 961.4,589.62 962.9,589.03 964.4,588.41 965.9,587.78 967.4,587.13 968.9,586.45 970.4,585.75 971.9,585.04 973.4,584.31 974.9,583.55 976.4,582.78 977.9,581.99 979.4,581.18 980.9,580.35 982.4,579.51 983.9,578.65 985.4,577.78 986.9,576.89 988.4,575.99 989.9,575.08 991.4,574.17 992.9,573.24 994.4,572.3 995.9,571.36 997.4,570.41 998.9,569.46 1000.4,568.5 1001.9,567.54 1003.4,566.58 1004.9,565.63 1006.4,564.69 1007.9,563.77 1009.4,562.86 1010.9,561.99 1012.4,561.15 1013.9,560.36 1015.4,559.61 1016.9,558.91 1018.4,558.25 1019.9,557.65 1021.4,557.1 1022.9,556.59 1024.4,556.12 1025.9,555.7 1027.4,555.31 1028.9,554.96 1030.4,554.63 1031.9,554.34 1033.4,554.08 1034.9,553.84 1036.4,553.62 1037.9,553.42 1039.4,553.22 1040.9,553.03 1042.4,552.83 1043.9,552.62 1045.4,552.39 1046.9,552.14 1048.4,551.87 1049.9,551.55 1051.4,551.21 1052.9,550.81 1054.4,550.38 1055.9,549.89 1057.4,549.34 1058.9,548.74 1060.4,548.07 1061.9,547.33 1063.4,546.51 1064.9,545.61 1066.4,544.63 1067.9,543.56 1069.4,542.39 1070.9,541.12 1072.4,539.74 1073.9,538.26 1075.4,536.68 1076.9,534.98 1078.4,533.18 1079.9,531.27 1081.4,529.25 1082.9,527.13 1084.4,524.92 1085.9,522.62 1087.4,520.22 1088.9,517.75 1090.4,515.21 1091.9,512.59 1093.4,509.92 1094.9,507.2 1096.4,504.44 1097.9,501.65 1099.4,498.84 1100.9,496.04 1102.4,493.24 1103.9,490.47 1105.4,487.75 1106.9,485.1 1108.4,482.54 1109.9,480.1 1111.4,477.79 1112.9,475.64 1114.4,473.68 1115.9,471.93 1117.4,470.41 1118.9,469.16 1120.4,468.2 1121.9,467.55 1123.4,467.23 1124.9,467.27 1126.4,467.67 1127.9,468.46 1129.4,469.64 1130.9,471.22 1132.4,473.18 1133.9,475.52 1135.4,478.21 1136.9,481.23 1138.4,484.55 1139.9,488.13 1141.4,491.92 1142.9,495.89 1144.4,500 1145.9,504.19 1147.4,508.45 1148.9,512.73 1150.4,517 1151.9,521.25 1153.4,525.45 1154.9,529.57 1156.4,533.62 1157.9,537.56 1159.4,541.4 1160.9,545.13 1162.4,548.74 1163.9,552.22 1165.4,555.58 1166.9,558.8 1168.4,561.9 1169.9,564.86 1171.4,567.7 1172.9,570.41 1174.4,572.99 1175.9,575.45 1177.4,577.79 1178.9,580.02 1180.4,582.13 1181.9,584.13 1183.4,586.02 1184.9,587.81 1186.4,589.49 1187.9,591.08 1189.4,592.58 1190.9,593.98 1192.4,595.3 1193.9,596.53 1195.4,597.69 1196.9,598.78 1198.4,599.79 1199.9,600.75 1201.4,601.64 1202.9,602.49 1204.4,603.29 1205.9,604.05 1207.4,604.77 1208.9,605.45 1210.4,606.1 1211.9,606.72 1213.4,607.31 1214.9,607.87 1216.4,608.4 1217.9,608.9 1219.4,609.38 1220.9,609.83 1222.4,610.25 1223.9,610.65 1225.4,611.03 1226.9,611.39 1228.4,611.74 1229.9,612.06 1231.4,612.37 1232.9,612.66 1234.4,612.94 1235.9,613.2 1237.4,613.45 1238.9,613.68 1240.4,613.9 1241.9,614.11 1243.4,614.31 1244.9,614.5 1246.4,614.68 1247.9,614.85 1249.4,615.01 1250.9,615.17 1252.4,615.32 1253.9,615.47 1255.4,615.61 1256.9,615.75 1258.4,615.9 1259.9,616.04 1261.4,616.18 1262.9,616.32 1264.5,616.47" fill="none" stroke="#00C8C8" stroke-width="3.8" stroke-linejoin="round"/>
<polyline points="833.9,563.23 835.4,563.25 836.9,563.27 838.4,563.29 839.9,563.31 841.4,563.32 842.9,563.34 844.4,563.35 845.9,563.37 847.4,563.38 848.9,563.39 850.4,563.4 851.9,563.41 853.4,563.41 854.9,563.42 856.4,563.42 857.9,563.43 859.4,563.43 860.9,563.43 862.4,563.43 863.9,563.43 865.4,563.42 866.9,563.42 868.4,563.41 869.9,563.4 871.4,563.39 872.9,563.38 874.4,563.36 875.9,563.34 877.4,563.32 878.9,563.29 880.4,563.27 881.9,563.23 883.4,563.2 884.9,563.16 886.4,563.12 887.9,563.07 889.4,563.02 890.9,562.97 892.4,562.91 893.9,562.85 895.4,562.79 896.9,562.72 898.4,562.64 899.9,562.57 901.4,562.48 902.9,562.4 904.4,562.3 905.9,562.21 907.4,562.1 908.9,561.99 910.4,561.87 911.9,561.75 913.4,561.62 914.9,561.47 916.4,561.32 917.9,561.15 919.4,560.97 920.9,560.78 922.4,560.57 923.9,560.35 925.4,560.11 926.9,559.86 928.4,559.58 929.9,559.29 931.4,558.99 932.9,558.67 934.4,558.33 935.9,557.98 937.4,557.62 938.9,557.24 940.4,556.85 941.9,556.44 943.4,556.02 944.9,555.58 946.4,555.12 947.9,554.65 949.4,554.15 950.9,553.62 952.4,553.07 953.9,552.49 955.4,551.87 956.9,551.23 958.4,550.55 959.9,549.83 961.4,549.08 962.9,548.29 964.4,547.47 965.9,546.61 967.4,545.72 968.9,544.8 970.4,543.85 971.9,542.87 973.4,541.87 974.9,540.84 976.4,539.8 977.9,538.74 979.4,537.67 980.9,536.6 982.4,535.52 983.9,534.44 985.4,533.36 986.9,532.29 988.4,531.23 989.9,530.18 991.4,529.15 992.9,528.14 994.4,527.15 995.9,526.19 997.4,525.25 998.9,524.35 1000.4,523.47 1001.9,522.64 1003.4,521.83 1004.9,521.07 1006.4,520.34 1007.9,519.66 1009.4,519.02 1010.9,518.43 1012.4,517.89 1013.9,517.39 1015.4,516.94 1016.9,516.54 1018.4,516.17 1019.9,515.84 1021.4,515.55 1022.9,515.28 1024.4,515.04 1025.9,514.82 1027.4,514.61 1028.9,514.41 1030.4,514.22 1031.9,514.05 1033.4,513.87 1034.9,513.71 1036.4,513.54 1037.9,513.37 1039.4,513.19 1040.9,513 1042.4,512.79 1043.9,512.57 1045.4,512.32 1046.9,512.05 1048.4,511.76 1049.9,511.43 1051.4,511.06 1052.9,510.66 1054.4,510.23 1055.9,509.74 1057.4,509.22 1058.9,508.64 1060.4,508.01 1061.9,507.32 1063.4,506.58 1064.9,505.77 1066.4,504.9 1067.9,503.95 1069.4,502.93 1070.9,501.82 1072.4,500.63 1073.9,499.35 1075.4,497.96 1076.9,496.48 1078.4,494.89 1079.9,493.2 1081.4,491.4 1082.9,489.49 1084.4,487.48 1085.9,485.37 1087.4,483.15 1088.9,480.85 1090.4,478.45 1091.9,475.97 1093.4,473.42 1094.9,470.79 1096.4,468.12 1097.9,465.4 1099.4,462.65 1100.9,459.89 1102.4,457.15 1103.9,454.42 1105.4,451.75 1106.9,449.15 1108.4,446.63 1109.9,444.24 1111.4,441.97 1112.9,439.87 1114.4,437.94 1115.9,436.22 1117.4,434.73 1118.9,433.5 1120.4,432.53 1121.9,431.86 1123.4,431.5 1124.9,431.47 1126.4,431.78 1127.9,432.44 1129.4,433.45 1130.9,434.81 1132.4,436.51 1133.9,438.55 1135.4,440.91 1136.9,443.57 1138.4,446.51 1139.9,449.71 1141.4,453.14 1142.9,456.77 1144.4,460.58 1145.9,464.53 1147.4,468.61 1148.9,472.78 1150.4,477.03 1151.9,481.31 1153.4,485.61 1154.9,489.91 1156.4,494.17 1157.9,498.37 1159.4,502.5 1160.9,506.53 1162.4,510.44 1163.9,514.23 1165.4,517.88 1166.9,521.39 1168.4,524.74 1169.9,527.93 1171.4,530.97 1172.9,533.85 1174.4,536.57 1175.9,539.13 1177.4,541.54 1178.9,543.8 1180.4,545.92 1181.9,547.89 1183.4,549.72 1184.9,551.41 1186.4,552.99 1187.9,554.44 1189.4,555.78 1190.9,557.01 1192.4,558.15 1193.9,559.21 1195.4,560.19 1196.9,561.1 1198.4,561.96 1199.9,562.75 1201.4,563.51 1202.9,564.22 1204.4,564.89 1205.9,565.53 1207.4,566.14 1208.9,566.73 1210.4,567.29 1211.9,567.83 1213.4,568.35 1214.9,568.86 1216.4,569.35 1217.9,569.83 1219.4,570.31 1220.9,570.77 1222.4,571.22 1223.9,571.66 1225.4,572.09 1226.9,572.5 1228.4,572.91 1229.9,573.29 1231.4,573.66 1232.9,574.02 1234.4,574.36 1235.9,574.68 1237.4,574.98 1238.9,575.27 1240.4,575.55 1241.9,575.81 1243.4,576.06 1244.9,576.29 1246.4,576.52 1247.9,576.74 1249.4,576.95 1250.9,577.15 1252.4,577.35 1253.9,577.55 1255.4,577.74 1256.9,577.93 1258.4,578.13 1259.9,578.32 1261.4,578.52 1262.9,578.72 1264.5,578.94" fill="none" stroke="#00D090" stroke-width="3.8" stroke-linejoin="round"/>
<polyline points="833.9,524.71 835.4,524.71 836.9,524.71 838.4,524.7 839.9,524.7 841.4,524.7 842.9,524.7 844.4,524.69 845.9,524.69 847.4,524.69 848.9,524.68 850.4,524.68 851.9,524.67 853.4,524.66 854.9,524.65 856.4,524.64 857.9,524.62 859.4,524.61 860.9,524.59 862.4,524.57 863.9,524.54 865.4,524.52 866.9,524.49 868.4,524.46 869.9,524.42 871.4,524.39 872.9,524.35 874.4,524.31 875.9,524.26 877.4,524.22 878.9,524.16 880.4,524.11 881.9,524.05 883.4,523.99 884.9,523.93 886.4,523.86 887.9,523.78 889.4,523.7 890.9,523.62 892.4,523.53 893.9,523.43 895.4,523.33 896.9,523.23 898.4,523.12 899.9,523 901.4,522.87 902.9,522.74 904.4,522.6 905.9,522.45 907.4,522.3 908.9,522.13 910.4,521.96 911.9,521.77 913.4,521.58 914.9,521.37 916.4,521.15 917.9,520.92 919.4,520.68 920.9,520.42 922.4,520.15 923.9,519.86 925.4,519.55 926.9,519.23 928.4,518.89 929.9,518.54 931.4,518.16 932.9,517.77 934.4,517.36 935.9,516.94 937.4,516.49 938.9,516.02 940.4,515.54 941.9,515.04 943.4,514.51 944.9,513.97 946.4,513.41 947.9,512.82 949.4,512.22 950.9,511.6 952.4,510.95 953.9,510.29 955.4,509.6 956.9,508.89 958.4,508.16 959.9,507.4 961.4,506.62 962.9,505.81 964.4,504.97 965.9,504.11 967.4,503.21 968.9,502.28 970.4,501.33 971.9,500.34 973.4,499.33 974.9,498.29 976.4,497.22 977.9,496.14 979.4,495.04 980.9,493.92 982.4,492.8 983.9,491.67 985.4,490.54 986.9,489.42 988.4,488.32 989.9,487.22 991.4,486.15 992.9,485.1 994.4,484.07 995.9,483.07 997.4,482.08 998.9,481.12 1000.4,480.18 1001.9,479.26 1003.4,478.36 1004.9,477.49 1006.4,476.65 1007.9,475.84 1009.4,475.07 1010.9,474.34 1012.4,473.65 1013.9,473.01 1015.4,472.43 1016.9,471.89 1018.4,471.41 1019.9,470.98 1021.4,470.6 1022.9,470.28 1024.4,470.01 1025.9,469.79 1027.4,469.61 1028.9,469.48 1030.4,469.39 1031.9,469.33 1033.4,469.3 1034.9,469.3 1036.4,469.31 1037.9,469.34 1039.4,469.37 1040.9,469.4 1042.4,469.42 1043.9,469.44 1045.4,469.44 1046.9,469.42 1048.4,469.37 1049.9,469.3 1051.4,469.18 1052.9,469.03 1054.4,468.83 1055.9,468.58 1057.4,468.27 1058.9,467.9 1060.4,467.46 1061.9,466.96 1063.4,466.37 1064.9,465.71 1066.4,464.97 1067.9,464.14 1069.4,463.22 1070.9,462.21 1072.4,461.1 1073.9,459.88 1075.4,458.57 1076.9,457.14 1078.4,455.6 1079.9,453.94 1081.4,452.17 1082.9,450.29 1084.4,448.29 1085.9,446.19 1087.4,443.98 1088.9,441.68 1090.4,439.29 1091.9,436.8 1093.4,434.25 1094.9,431.62 1096.4,428.94 1097.9,426.21 1099.4,423.45 1100.9,420.67 1102.4,417.9 1103.9,415.14 1105.4,412.41 1106.9,409.75 1108.4,407.18 1109.9,404.71 1111.4,402.38 1112.9,400.22 1114.4,398.24 1115.9,396.47 1117.4,394.94 1118.9,393.68 1120.4,392.7 1121.9,392.04 1123.4,391.7 1124.9,391.72 1126.4,392.11 1127.9,392.87 1129.4,394.02 1130.9,395.55 1132.4,397.46 1133.9,399.75 1135.4,402.39 1136.9,405.35 1138.4,408.61 1139.9,412.13 1141.4,415.87 1142.9,419.78 1144.4,423.84 1145.9,427.98 1147.4,432.17 1148.9,436.38 1150.4,440.57 1151.9,444.71 1153.4,448.78 1154.9,452.76 1156.4,456.64 1157.9,460.42 1159.4,464.09 1160.9,467.65 1162.4,471.1 1163.9,474.45 1165.4,477.7 1166.9,480.85 1168.4,483.9 1169.9,486.86 1171.4,489.72 1172.9,492.47 1174.4,495.11 1175.9,497.64 1177.4,500.05 1178.9,502.35 1180.4,504.53 1181.9,506.59 1183.4,508.55 1184.9,510.39 1186.4,512.13 1187.9,513.76 1189.4,515.31 1190.9,516.76 1192.4,518.13 1193.9,519.41 1195.4,520.62 1196.9,521.76 1198.4,522.84 1199.9,523.85 1201.4,524.8 1202.9,525.71 1204.4,526.56 1205.9,527.37 1207.4,528.13 1208.9,528.86 1210.4,529.55 1211.9,530.21 1213.4,530.83 1214.9,531.42 1216.4,531.98 1217.9,532.5 1219.4,533 1220.9,533.47 1222.4,533.91 1223.9,534.33 1225.4,534.72 1226.9,535.08 1228.4,535.43 1229.9,535.76 1231.4,536.06 1232.9,536.36 1234.4,536.64 1235.9,536.9 1237.4,537.15 1238.9,537.4 1240.4,537.64 1241.9,537.87 1243.4,538.09 1244.9,538.31 1246.4,538.52 1247.9,538.73 1249.4,538.94 1250.9,539.14 1252.4,539.34 1253.9,539.54 1255.4,539.73 1256.9,539.92 1258.4,540.1 1259.9,540.28 1261.4,540.45 1262.9,540.62 1264.5,540.79" fill="none" stroke="#00E010" stroke-width="3.8" stroke-linejoin="round"/>
<polyline points="833.9,482.89 835.4,482.86 836.9,482.82 838.4,482.78 839.9,482.74 841.4,482.7 842.9,482.66 844.4,482.62 845.9,482.58 847.4,482.54 848.9,482.49 850.4,482.45 851.9,482.4 853.4,482.36 854.9,482.31 856.4,482.26 857.9,482.2 859.4,482.15 860.9,482.09 862.4,482.03 863.9,481.97 865.4,481.91 866.9,481.85 868.4,481.78 869.9,481.7 871.4,481.63 872.9,481.55 874.4,481.47 875.9,481.38 877.4,481.29 878.9,481.19 880.4,481.09 881.9,480.98 883.4,480.86 884.9,480.74 886.4,480.6 887.9,480.46 889.4,480.31 890.9,480.15 892.4,479.99 893.9,479.82 895.4,479.64 896.9,479.46 898.4,479.27 899.9,479.08 901.4,478.89 902.9,478.7 904.4,478.51 905.9,478.31 907.4,478.1 908.9,477.88 910.4,477.65 911.9,477.41 913.4,477.16 914.9,476.88 916.4,476.59 917.9,476.28 919.4,475.96 920.9,475.62 922.4,475.27 923.9,474.9 925.4,474.51 926.9,474.11 928.4,473.69 929.9,473.25 931.4,472.78 932.9,472.28 934.4,471.76 935.9,471.2 937.4,470.61 938.9,469.98 940.4,469.32 941.9,468.62 943.4,467.88 944.9,467.09 946.4,466.26 947.9,465.39 949.4,464.46 950.9,463.49 952.4,462.47 953.9,461.39 955.4,460.26 956.9,459.08 958.4,457.85 959.9,456.57 961.4,455.24 962.9,453.86 964.4,452.43 965.9,450.96 967.4,449.45 968.9,447.91 970.4,446.32 971.9,444.71 973.4,443.06 974.9,441.4 976.4,439.71 977.9,438.02 979.4,436.32 980.9,434.61 982.4,432.92 983.9,431.24 985.4,429.59 986.9,427.97 988.4,426.39 989.9,424.86 991.4,423.39 992.9,421.99 994.4,420.65 995.9,419.4 997.4,418.22 998.9,417.13 1000.4,416.12 1001.9,415.19 1003.4,414.35 1004.9,413.59 1006.4,412.91 1007.9,412.32 1009.4,411.8 1010.9,411.36 1012.4,410.99 1013.9,410.7 1015.4,410.49 1016.9,410.35 1018.4,410.27 1019.9,410.27 1021.4,410.34 1022.9,410.47 1024.4,410.67 1025.9,410.92 1027.4,411.24 1028.9,411.62 1030.4,412.05 1031.9,412.54 1033.4,413.07 1034.9,413.64 1036.4,414.24 1037.9,414.88 1039.4,415.53 1040.9,416.19 1042.4,416.85 1043.9,417.51 1045.4,418.15 1046.9,418.76 1048.4,419.33 1049.9,419.86 1051.4,420.35 1052.9,420.77 1054.4,421.14 1055.9,421.43 1057.4,421.66 1058.9,421.8 1060.4,421.87 1061.9,421.85 1063.4,421.74 1064.9,421.54 1066.4,421.24 1067.9,420.84 1069.4,420.33 1070.9,419.71 1072.4,418.97 1073.9,418.12 1075.4,417.14 1076.9,416.04 1078.4,414.81 1079.9,413.45 1081.4,411.98 1082.9,410.38 1084.4,408.66 1085.9,406.82 1087.4,404.88 1088.9,402.84 1090.4,400.71 1091.9,398.49 1093.4,396.19 1094.9,393.83 1096.4,391.41 1097.9,388.95 1099.4,386.44 1100.9,383.91 1102.4,381.35 1103.9,378.79 1105.4,376.24 1106.9,373.7 1108.4,371.2 1109.9,368.77 1111.4,366.41 1112.9,364.17 1114.4,362.07 1115.9,360.14 1117.4,358.42 1118.9,356.94 1120.4,355.73 1121.9,354.82 1123.4,354.26 1124.9,354.04 1126.4,354.21 1127.9,354.76 1129.4,355.71 1130.9,357.05 1132.4,358.78 1133.9,360.87 1135.4,363.31 1136.9,366.07 1138.4,369.11 1139.9,372.4 1141.4,375.9 1142.9,379.57 1144.4,383.38 1145.9,387.3 1147.4,391.29 1148.9,395.34 1150.4,399.4 1151.9,403.46 1153.4,407.5 1154.9,411.49 1156.4,415.42 1157.9,419.28 1159.4,423.05 1160.9,426.71 1162.4,430.26 1163.9,433.7 1165.4,437.01 1166.9,440.2 1168.4,443.27 1169.9,446.21 1171.4,449.03 1172.9,451.74 1174.4,454.33 1175.9,456.81 1177.4,459.18 1178.9,461.45 1180.4,463.61 1181.9,465.66 1183.4,467.62 1184.9,469.48 1186.4,471.25 1187.9,472.93 1189.4,474.53 1190.9,476.06 1192.4,477.52 1193.9,478.9 1195.4,480.23 1196.9,481.48 1198.4,482.67 1199.9,483.8 1201.4,484.86 1202.9,485.85 1204.4,486.79 1205.9,487.66 1207.4,488.47 1208.9,489.23 1210.4,489.94 1211.9,490.6 1213.4,491.21 1214.9,491.79 1216.4,492.33 1217.9,492.84 1219.4,493.32 1220.9,493.77 1222.4,494.2 1223.9,494.61 1225.4,495 1226.9,495.38 1228.4,495.74 1229.9,496.08 1231.4,496.42 1232.9,496.74 1234.4,497.06 1235.9,497.36 1237.4,497.66 1238.9,497.95 1240.4,498.23 1241.9,498.51 1243.4,498.77 1244.9,499.04 1246.4,499.29 1247.9,499.54 1249.4,499.78 1250.9,500.02 1252.4,500.25 1253.9,500.47 1255.4,500.68 1256.9,500.89 1258.4,501.09 1259.9,501.28 1261.4,501.46 1262.9,501.63 1264.5,501.81" fill="none" stroke="#A0E830" stroke-width="3.8" stroke-linejoin="round"/>
<polyline points="833.9,440.76 835.4,440.65 836.9,440.55 838.4,440.44 839.9,440.33 841.4,440.22 842.9,440.11 844.4,440 845.9,439.88 847.4,439.76 848.9,439.64 850.4,439.52 851.9,439.39 853.4,439.25 854.9,439.11 856.4,438.97 857.9,438.82 859.4,438.66 860.9,438.5 862.4,438.33 863.9,438.15 865.4,437.97 866.9,437.78 868.4,437.59 869.9,437.39 871.4,437.19 872.9,436.98 874.4,436.77 875.9,436.55 877.4,436.33 878.9,436.1 880.4,435.87 881.9,435.63 883.4,435.39 884.9,435.14 886.4,434.88 887.9,434.62 889.4,434.35 890.9,434.08 892.4,433.79 893.9,433.5 895.4,433.2 896.9,432.89 898.4,432.57 899.9,432.23 901.4,431.89 902.9,431.53 904.4,431.15 905.9,430.76 907.4,430.35 908.9,429.92 910.4,429.47 911.9,428.99 913.4,428.49 914.9,427.96 916.4,427.4 917.9,426.81 919.4,426.18 920.9,425.51 922.4,424.8 923.9,424.06 925.4,423.26 926.9,422.43 928.4,421.54 929.9,420.6 931.4,419.62 932.9,418.57 934.4,417.48 935.9,416.33 937.4,415.12 938.9,413.84 940.4,412.51 941.9,411.11 943.4,409.64 944.9,408.1 946.4,406.48 947.9,404.77 949.4,402.98 950.9,401.1 952.4,399.12 953.9,397.05 955.4,394.88 956.9,392.61 958.4,390.24 959.9,387.78 961.4,385.24 962.9,382.61 964.4,379.91 965.9,377.15 967.4,374.33 968.9,371.47 970.4,368.59 971.9,365.68 973.4,362.76 974.9,359.86 976.4,356.96 977.9,354.1 979.4,351.27 980.9,348.49 982.4,345.77 983.9,343.12 985.4,340.53 986.9,338.04 988.4,335.64 989.9,333.34 991.4,331.15 992.9,329.09 994.4,327.16 995.9,325.37 997.4,323.73 998.9,322.25 1000.4,320.94 1001.9,319.8 1003.4,318.84 1004.9,318.05 1006.4,317.45 1007.9,317.03 1009.4,316.8 1010.9,316.74 1012.4,316.85 1013.9,317.14 1015.4,317.6 1016.9,318.22 1018.4,318.99 1019.9,319.92 1021.4,320.99 1022.9,322.19 1024.4,323.53 1025.9,325 1027.4,326.58 1028.9,328.27 1030.4,330.05 1031.9,331.93 1033.4,333.89 1034.9,335.92 1036.4,338 1037.9,340.14 1039.4,342.3 1040.9,344.49 1042.4,346.68 1043.9,348.87 1045.4,351.04 1046.9,353.19 1048.4,355.29 1049.9,357.35 1051.4,359.35 1052.9,361.28 1054.4,363.14 1055.9,364.91 1057.4,366.6 1058.9,368.19 1060.4,369.69 1061.9,371.08 1063.4,372.37 1064.9,373.54 1066.4,374.61 1067.9,375.55 1069.4,376.37 1070.9,377.07 1072.4,377.63 1073.9,378.07 1075.4,378.36 1076.9,378.52 1078.4,378.53 1079.9,378.4 1081.4,378.13 1082.9,377.71 1084.4,377.14 1085.9,376.43 1087.4,375.57 1088.9,374.57 1090.4,373.43 1091.9,372.15 1093.4,370.74 1094.9,369.21 1096.4,367.56 1097.9,365.81 1099.4,363.96 1100.9,362.03 1102.4,360.03 1103.9,357.98 1105.4,355.89 1106.9,353.77 1108.4,351.64 1109.9,349.51 1111.4,347.41 1112.9,345.33 1114.4,343.31 1115.9,341.35 1117.4,339.47 1118.9,337.7 1120.4,336.06 1121.9,334.56 1123.4,333.24 1124.9,332.12 1126.4,331.23 1127.9,330.59 1129.4,330.21 1130.9,330.14 1132.4,330.37 1133.9,330.93 1135.4,331.82 1136.9,333.05 1138.4,334.6 1139.9,336.48 1141.4,338.66 1142.9,341.13 1144.4,343.86 1145.9,346.81 1147.4,349.95 1148.9,353.26 1150.4,356.69 1151.9,360.21 1153.4,363.79 1154.9,367.41 1156.4,371.03 1157.9,374.63 1159.4,378.21 1160.9,381.74 1162.4,385.22 1163.9,388.63 1165.4,391.97 1166.9,395.23 1168.4,398.39 1169.9,401.47 1171.4,404.44 1172.9,407.31 1174.4,410.07 1175.9,412.72 1177.4,415.26 1178.9,417.68 1180.4,420 1181.9,422.21 1183.4,424.31 1184.9,426.31 1186.4,428.21 1187.9,430.01 1189.4,431.72 1190.9,433.34 1192.4,434.88 1193.9,436.34 1195.4,437.73 1196.9,439.04 1198.4,440.29 1199.9,441.48 1201.4,442.6 1202.9,443.67 1204.4,444.68 1205.9,445.64 1207.4,446.55 1208.9,447.42 1210.4,448.24 1211.9,449.02 1213.4,449.75 1214.9,450.46 1216.4,451.13 1217.9,451.77 1219.4,452.38 1220.9,452.96 1222.4,453.52 1223.9,454.05 1225.4,454.57 1226.9,455.06 1228.4,455.54 1229.9,456 1231.4,456.44 1232.9,456.86 1234.4,457.27 1235.9,457.66 1237.4,458.04 1238.9,458.41 1240.4,458.77 1241.9,459.11 1243.4,459.45 1244.9,459.77 1246.4,460.09 1247.9,460.4 1249.4,460.7 1250.9,460.99 1252.4,461.27 1253.9,461.54 1255.4,461.81 1256.9,462.07 1258.4,462.32 1259.9,462.56 1261.4,462.79 1262.9,463.01 1264.5,463.24" fill="none" stroke="#E8E030" stroke-width="3.8" stroke-linejoin="round"/>
<polyline points="833.9,372.31 835.4,372.16 836.9,372.02 838.4,371.89 839.9,371.76 841.4,371.63 842.9,371.51 844.4,371.39 845.9,371.27 847.4,371.15 848.9,371.03 850.4,370.9 851.9,370.77 853.4,370.64 854.9,370.5 856.4,370.35 857.9,370.2 859.4,370.04 860.9,369.88 862.4,369.71 863.9,369.53 865.4,369.35 866.9,369.16 868.4,368.97 869.9,368.78 871.4,368.58 872.9,368.38 874.4,368.17 875.9,367.96 877.4,367.75 878.9,367.53 880.4,367.3 881.9,367.07 883.4,366.83 884.9,366.59 886.4,366.33 887.9,366.06 889.4,365.79 890.9,365.5 892.4,365.2 893.9,364.88 895.4,364.55 896.9,364.2 898.4,363.83 899.9,363.45 901.4,363.04 902.9,362.61 904.4,362.16 905.9,361.68 907.4,361.18 908.9,360.66 910.4,360.11 911.9,359.53 913.4,358.93 914.9,358.29 916.4,357.63 917.9,356.94 919.4,356.2 920.9,355.44 922.4,354.62 923.9,353.77 925.4,352.86 926.9,351.91 928.4,350.89 929.9,349.82 931.4,348.68 932.9,347.47 934.4,346.19 935.9,344.83 937.4,343.4 938.9,341.88 940.4,340.29 941.9,338.6 943.4,336.83 944.9,334.98 946.4,333.04 947.9,331.01 949.4,328.89 950.9,326.69 952.4,324.4 953.9,322.04 955.4,319.6 956.9,317.08 958.4,314.49 959.9,311.83 961.4,309.11 962.9,306.32 964.4,303.49 965.9,300.6 967.4,297.67 968.9,294.7 970.4,291.71 971.9,288.69 973.4,285.67 974.9,282.64 976.4,279.62 977.9,276.62 979.4,273.66 980.9,270.74 982.4,267.89 983.9,265.11 985.4,262.42 986.9,259.83 988.4,257.36 989.9,255.03 991.4,252.83 992.9,250.8 994.4,248.94 995.9,247.26 997.4,245.77 998.9,244.48 1000.4,243.4 1001.9,242.53 1003.4,241.87 1004.9,241.44 1006.4,241.23 1007.9,241.24 1009.4,241.47 1010.9,241.92 1012.4,242.59 1013.9,243.46 1015.4,244.54 1016.9,245.81 1018.4,247.27 1019.9,248.91 1021.4,250.71 1022.9,252.66 1024.4,254.76 1025.9,256.99 1027.4,259.34 1028.9,261.79 1030.4,264.33 1031.9,266.94 1033.4,269.62 1034.9,272.34 1036.4,275.1 1037.9,277.88 1039.4,280.67 1040.9,283.46 1042.4,286.23 1043.9,288.99 1045.4,291.71 1046.9,294.4 1048.4,297.03 1049.9,299.61 1051.4,302.11 1052.9,304.54 1054.4,306.88 1055.9,309.14 1057.4,311.29 1058.9,313.35 1060.4,315.3 1061.9,317.15 1063.4,318.91 1064.9,320.56 1066.4,322.12 1067.9,323.59 1069.4,324.96 1070.9,326.24 1072.4,327.42 1073.9,328.51 1075.4,329.5 1076.9,330.39 1078.4,331.18 1079.9,331.88 1081.4,332.47 1082.9,332.97 1084.4,333.38 1085.9,333.69 1087.4,333.91 1088.9,334.03 1090.4,334.07 1091.9,334.02 1093.4,333.88 1094.9,333.66 1096.4,333.35 1097.9,332.97 1099.4,332.5 1100.9,331.97 1102.4,331.38 1103.9,330.73 1105.4,330.04 1106.9,329.3 1108.4,328.52 1109.9,327.72 1111.4,326.9 1112.9,326.06 1114.4,325.22 1115.9,324.38 1117.4,323.55 1118.9,322.74 1120.4,321.96 1121.9,321.21 1123.4,320.51 1124.9,319.87 1126.4,319.29 1127.9,318.8 1129.4,318.41 1130.9,318.12 1132.4,317.96 1133.9,317.92 1135.4,318.03 1136.9,318.28 1138.4,318.69 1139.9,319.27 1141.4,320 1142.9,320.91 1144.4,321.97 1145.9,323.19 1147.4,324.56 1148.9,326.07 1150.4,327.71 1151.9,329.45 1153.4,331.3 1154.9,333.22 1156.4,335.2 1157.9,337.23 1159.4,339.28 1160.9,341.34 1162.4,343.4 1163.9,345.44 1165.4,347.44 1166.9,349.41 1168.4,351.32 1169.9,353.18 1171.4,354.98 1172.9,356.72 1174.4,358.39 1175.9,359.99 1177.4,361.52 1178.9,362.99 1180.4,364.38 1181.9,365.71 1183.4,366.98 1184.9,368.19 1186.4,369.35 1187.9,370.45 1189.4,371.5 1190.9,372.51 1192.4,373.47 1193.9,374.39 1195.4,375.27 1196.9,376.1 1198.4,376.89 1199.9,377.64 1201.4,378.34 1202.9,379 1204.4,379.62 1205.9,380.19 1207.4,380.73 1208.9,381.24 1210.4,381.71 1211.9,382.16 1213.4,382.59 1214.9,382.99 1216.4,383.37 1217.9,383.74 1219.4,384.09 1220.9,384.42 1222.4,384.74 1223.9,385.04 1225.4,385.32 1226.9,385.59 1228.4,385.85 1229.9,386.08 1231.4,386.31 1232.9,386.53 1234.4,386.73 1235.9,386.92 1237.4,387.1 1238.9,387.28 1240.4,387.44 1241.9,387.6 1243.4,387.75 1244.9,387.89 1246.4,388.03 1247.9,388.15 1249.4,388.28 1250.9,388.39 1252.4,388.5 1253.9,388.6 1255.4,388.69 1256.9,388.77 1258.4,388.84 1259.9,388.91 1261.4,388.97 1262.9,389.01 1264.5,389.06" fill="none" stroke="#E8A828" stroke-width="3.8" stroke-linejoin="round"/>
<polyline points="833.9,328.41 835.4,328.25 836.9,328.1 838.4,327.94 839.9,327.79 841.4,327.64 842.9,327.49 844.4,327.34 845.9,327.19 847.4,327.04 848.9,326.88 850.4,326.73 851.9,326.57 853.4,326.41 854.9,326.25 856.4,326.08 857.9,325.91 859.4,325.73 860.9,325.55 862.4,325.36 863.9,325.17 865.4,324.97 866.9,324.77 868.4,324.57 869.9,324.36 871.4,324.14 872.9,323.92 874.4,323.7 875.9,323.47 877.4,323.24 878.9,323 880.4,322.76 881.9,322.51 883.4,322.25 884.9,321.99 886.4,321.72 887.9,321.43 889.4,321.14 890.9,320.83 892.4,320.51 893.9,320.18 895.4,319.83 896.9,319.45 898.4,319.06 899.9,318.64 901.4,318.2 902.9,317.73 904.4,317.24 905.9,316.71 907.4,316.16 908.9,315.57 910.4,314.96 911.9,314.32 913.4,313.64 914.9,312.93 916.4,312.18 917.9,311.39 919.4,310.56 920.9,309.68 922.4,308.75 923.9,307.76 925.4,306.71 926.9,305.6 928.4,304.42 929.9,303.17 931.4,301.85 932.9,300.45 934.4,298.97 935.9,297.41 937.4,295.75 938.9,294 940.4,292.15 941.9,290.19 943.4,288.12 944.9,285.94 946.4,283.66 947.9,281.26 949.4,278.75 950.9,276.15 952.4,273.45 953.9,270.66 955.4,267.79 956.9,264.85 958.4,261.85 959.9,258.8 961.4,255.7 962.9,252.57 964.4,249.42 965.9,246.27 967.4,243.12 968.9,239.99 970.4,236.9 971.9,233.86 973.4,230.88 974.9,227.98 976.4,225.18 977.9,222.47 979.4,219.87 980.9,217.38 982.4,215.01 983.9,212.75 985.4,210.61 986.9,208.58 988.4,206.68 989.9,204.91 991.4,203.26 992.9,201.77 994.4,200.43 995.9,199.26 997.4,198.27 998.9,197.48 1000.4,196.89 1001.9,196.52 1003.4,196.36 1004.9,196.41 1006.4,196.69 1007.9,197.18 1009.4,197.87 1010.9,198.78 1012.4,199.88 1013.9,201.17 1015.4,202.66 1016.9,204.32 1018.4,206.15 1019.9,208.15 1021.4,210.3 1022.9,212.59 1024.4,215.01 1025.9,217.55 1027.4,220.19 1028.9,222.92 1030.4,225.73 1031.9,228.6 1033.4,231.51 1034.9,234.47 1036.4,237.44 1037.9,240.43 1039.4,243.41 1040.9,246.38 1042.4,249.32 1043.9,252.24 1045.4,255.11 1046.9,257.93 1048.4,260.7 1049.9,263.41 1051.4,266.05 1052.9,268.61 1054.4,271.1 1055.9,273.5 1057.4,275.82 1058.9,278.04 1060.4,280.17 1061.9,282.21 1063.4,284.16 1064.9,286 1066.4,287.75 1067.9,289.39 1069.4,290.93 1070.9,292.35 1072.4,293.67 1073.9,294.87 1075.4,295.96 1076.9,296.94 1078.4,297.82 1079.9,298.61 1081.4,299.31 1082.9,299.92 1084.4,300.46 1085.9,300.93 1087.4,301.32 1088.9,301.65 1090.4,301.91 1091.9,302.1 1093.4,302.23 1094.9,302.3 1096.4,302.3 1097.9,302.24 1099.4,302.12 1100.9,301.94 1102.4,301.7 1103.9,301.41 1105.4,301.06 1106.9,300.67 1108.4,300.25 1109.9,299.79 1111.4,299.3 1112.9,298.8 1114.4,298.3 1115.9,297.79 1117.4,297.3 1118.9,296.82 1120.4,296.37 1121.9,295.94 1123.4,295.56 1124.9,295.21 1126.4,294.91 1127.9,294.68 1129.4,294.5 1130.9,294.4 1132.4,294.38 1133.9,294.45 1135.4,294.62 1136.9,294.89 1138.4,295.26 1139.9,295.75 1141.4,296.34 1142.9,297.04 1144.4,297.84 1145.9,298.75 1147.4,299.74 1148.9,300.82 1150.4,301.97 1151.9,303.19 1153.4,304.45 1154.9,305.75 1156.4,307.08 1157.9,308.43 1159.4,309.78 1160.9,311.13 1162.4,312.46 1163.9,313.78 1165.4,315.08 1166.9,316.34 1168.4,317.57 1169.9,318.77 1171.4,319.92 1172.9,321.04 1174.4,322.12 1175.9,323.15 1177.4,324.15 1178.9,325.11 1180.4,326.03 1181.9,326.91 1183.4,327.76 1184.9,328.57 1186.4,329.35 1187.9,330.09 1189.4,330.81 1190.9,331.49 1192.4,332.14 1193.9,332.77 1195.4,333.37 1196.9,333.94 1198.4,334.48 1199.9,335 1201.4,335.49 1202.9,335.96 1204.4,336.4 1205.9,336.82 1207.4,337.22 1208.9,337.6 1210.4,337.95 1211.9,338.29 1213.4,338.6 1214.9,338.9 1216.4,339.19 1217.9,339.46 1219.4,339.72 1220.9,339.97 1222.4,340.21 1223.9,340.44 1225.4,340.65 1226.9,340.86 1228.4,341.06 1229.9,341.25 1231.4,341.43 1232.9,341.61 1234.4,341.77 1235.9,341.93 1237.4,342.08 1238.9,342.22 1240.4,342.36 1241.9,342.49 1243.4,342.61 1244.9,342.73 1246.4,342.84 1247.9,342.95 1249.4,343.05 1250.9,343.14 1252.4,343.23 1253.9,343.31 1255.4,343.38 1256.9,343.45 1258.4,343.51 1259.9,343.57 1261.4,343.61 1262.9,343.65 1264.5,343.69" fill="none" stroke="#F08828" stroke-width="3.8" stroke-linejoin="round"/>
<polyline points="833.9,291.08 835.4,290.94 836.9,290.8 838.4,290.65 839.9,290.51 841.4,290.37 842.9,290.22 844.4,290.08 845.9,289.93 847.4,289.78 848.9,289.63 850.4,289.48 851.9,289.32 853.4,289.16 854.9,289 856.4,288.84 857.9,288.67 859.4,288.49 860.9,288.31 862.4,288.13 863.9,287.94 865.4,287.74 866.9,287.54 868.4,287.34 869.9,287.13 871.4,286.91 872.9,286.69 874.4,286.47 875.9,286.24 877.4,286 878.9,285.76 880.4,285.51 881.9,285.26 883.4,285 884.9,284.73 886.4,284.45 887.9,284.16 889.4,283.87 890.9,283.56 892.4,283.23 893.9,282.9 895.4,282.55 896.9,282.18 898.4,281.79 899.9,281.39 901.4,280.96 902.9,280.51 904.4,280.04 905.9,279.54 907.4,279.01 908.9,278.45 910.4,277.86 911.9,277.23 913.4,276.57 914.9,275.86 916.4,275.12 917.9,274.33 919.4,273.49 920.9,272.61 922.4,271.67 923.9,270.68 925.4,269.63 926.9,268.53 928.4,267.37 929.9,266.14 931.4,264.84 932.9,263.47 934.4,262.03 935.9,260.52 937.4,258.92 938.9,257.25 940.4,255.49 941.9,253.65 943.4,251.72 944.9,249.7 946.4,247.6 947.9,245.41 949.4,243.14 950.9,240.78 952.4,238.35 953.9,235.83 955.4,233.24 956.9,230.58 958.4,227.86 959.9,225.07 961.4,222.23 962.9,219.33 964.4,216.4 965.9,213.42 967.4,210.42 968.9,207.39 970.4,204.35 971.9,201.29 973.4,198.24 974.9,195.21 976.4,192.19 977.9,189.21 979.4,186.29 980.9,183.43 982.4,180.66 983.9,177.98 985.4,175.43 986.9,173 988.4,170.72 989.9,168.61 991.4,166.66 992.9,164.89 994.4,163.32 995.9,161.95 997.4,160.79 998.9,159.85 1000.4,159.13 1001.9,158.64 1003.4,158.39 1004.9,158.38 1006.4,158.61 1007.9,159.08 1009.4,159.79 1010.9,160.74 1012.4,161.92 1013.9,163.32 1015.4,164.93 1016.9,166.75 1018.4,168.75 1019.9,170.92 1021.4,173.25 1022.9,175.72 1024.4,178.32 1025.9,181.04 1027.4,183.84 1028.9,186.72 1030.4,189.67 1031.9,192.65 1033.4,195.67 1034.9,198.71 1036.4,201.75 1037.9,204.78 1039.4,207.8 1040.9,210.79 1042.4,213.76 1043.9,216.7 1045.4,219.6 1046.9,222.45 1048.4,225.26 1049.9,228.01 1051.4,230.71 1052.9,233.34 1054.4,235.9 1055.9,238.39 1057.4,240.8 1058.9,243.12 1060.4,245.35 1061.9,247.5 1063.4,249.55 1064.9,251.5 1066.4,253.36 1067.9,255.12 1069.4,256.8 1070.9,258.38 1072.4,259.88 1073.9,261.3 1075.4,262.64 1076.9,263.9 1078.4,265.08 1079.9,266.2 1081.4,267.24 1082.9,268.22 1084.4,269.13 1085.9,269.98 1087.4,270.77 1088.9,271.49 1090.4,272.16 1091.9,272.77 1093.4,273.32 1094.9,273.82 1096.4,274.26 1097.9,274.65 1099.4,275 1100.9,275.29 1102.4,275.53 1103.9,275.73 1105.4,275.88 1106.9,275.98 1108.4,276.05 1109.9,276.08 1111.4,276.07 1112.9,276.03 1114.4,275.95 1115.9,275.85 1117.4,275.73 1118.9,275.58 1120.4,275.43 1121.9,275.26 1123.4,275.09 1124.9,274.91 1126.4,274.75 1127.9,274.59 1129.4,274.46 1130.9,274.34 1132.4,274.26 1133.9,274.22 1135.4,274.21 1136.9,274.25 1138.4,274.35 1139.9,274.5 1141.4,274.7 1142.9,274.97 1144.4,275.29 1145.9,275.67 1147.4,276.11 1148.9,276.61 1150.4,277.16 1151.9,277.77 1153.4,278.43 1154.9,279.13 1156.4,279.88 1157.9,280.67 1159.4,281.5 1160.9,282.36 1162.4,283.24 1163.9,284.14 1165.4,285.04 1166.9,285.94 1168.4,286.83 1169.9,287.7 1171.4,288.55 1172.9,289.37 1174.4,290.16 1175.9,290.93 1177.4,291.67 1178.9,292.38 1180.4,293.06 1181.9,293.71 1183.4,294.33 1184.9,294.93 1186.4,295.5 1187.9,296.04 1189.4,296.55 1190.9,297.05 1192.4,297.52 1193.9,297.97 1195.4,298.4 1196.9,298.82 1198.4,299.23 1199.9,299.64 1201.4,300.03 1202.9,300.42 1204.4,300.79 1205.9,301.15 1207.4,301.5 1208.9,301.83 1210.4,302.15 1211.9,302.44 1213.4,302.71 1214.9,302.96 1216.4,303.19 1217.9,303.4 1219.4,303.6 1220.9,303.78 1222.4,303.96 1223.9,304.12 1225.4,304.27 1226.9,304.41 1228.4,304.55 1229.9,304.68 1231.4,304.81 1232.9,304.93 1234.4,305.05 1235.9,305.16 1237.4,305.27 1238.9,305.38 1240.4,305.49 1241.9,305.6 1243.4,305.7 1244.9,305.81 1246.4,305.91 1247.9,306.02 1249.4,306.11 1250.9,306.21 1252.4,306.3 1253.9,306.39 1255.4,306.47 1256.9,306.54 1258.4,306.61 1259.9,306.66 1261.4,306.71 1262.9,306.75 1264.5,306.79" fill="none" stroke="#FF4040" stroke-width="3.8" stroke-linejoin="round"/>
<polyline points="833.9,253.64 835.4,253.47 836.9,253.31 838.4,253.15 839.9,253 841.4,252.85 842.9,252.71 844.4,252.57 845.9,252.43 847.4,252.29 848.9,252.16 850.4,252.02 851.9,251.88 853.4,251.74 854.9,251.59 856.4,251.45 857.9,251.29 859.4,251.14 860.9,250.97 862.4,250.81 863.9,250.64 865.4,250.47 866.9,250.29 868.4,250.11 869.9,249.92 871.4,249.73 872.9,249.54 874.4,249.34 875.9,249.14 877.4,248.93 878.9,248.71 880.4,248.49 881.9,248.26 883.4,248.01 884.9,247.76 886.4,247.5 887.9,247.23 889.4,246.94 890.9,246.65 892.4,246.34 893.9,246.02 895.4,245.68 896.9,245.34 898.4,244.98 899.9,244.6 901.4,244.21 902.9,243.81 904.4,243.39 905.9,242.95 907.4,242.49 908.9,242.01 910.4,241.51 911.9,240.99 913.4,240.43 914.9,239.85 916.4,239.24 917.9,238.59 919.4,237.91 920.9,237.19 922.4,236.43 923.9,235.63 925.4,234.78 926.9,233.88 928.4,232.93 929.9,231.92 931.4,230.84 932.9,229.69 934.4,228.46 935.9,227.15 937.4,225.74 938.9,224.24 940.4,222.64 941.9,220.95 943.4,219.15 944.9,217.25 946.4,215.26 947.9,213.16 949.4,210.97 950.9,208.67 952.4,206.27 953.9,203.77 955.4,201.15 956.9,198.43 958.4,195.61 959.9,192.69 961.4,189.68 962.9,186.59 964.4,183.43 965.9,180.22 967.4,176.96 968.9,173.67 970.4,170.36 971.9,167.04 973.4,163.73 974.9,160.45 976.4,157.21 977.9,154.02 979.4,150.9 980.9,147.88 982.4,144.95 983.9,142.14 985.4,139.45 986.9,136.91 988.4,134.51 989.9,132.27 991.4,130.19 992.9,128.3 994.4,126.58 995.9,125.06 997.4,123.74 998.9,122.64 1000.4,121.75 1001.9,121.1 1003.4,120.68 1004.9,120.52 1006.4,120.6 1007.9,120.94 1009.4,121.53 1010.9,122.38 1012.4,123.48 1013.9,124.82 1015.4,126.4 1016.9,128.2 1018.4,130.22 1019.9,132.45 1021.4,134.87 1022.9,137.46 1024.4,140.21 1025.9,143.1 1027.4,146.12 1028.9,149.24 1030.4,152.44 1031.9,155.72 1033.4,159.04 1034.9,162.39 1036.4,165.76 1037.9,169.11 1039.4,172.45 1040.9,175.74 1042.4,178.97 1043.9,182.14 1045.4,185.21 1046.9,188.2 1048.4,191.07 1049.9,193.83 1051.4,196.48 1052.9,199.01 1054.4,201.43 1055.9,203.75 1057.4,205.96 1058.9,208.08 1060.4,210.12 1061.9,212.09 1063.4,213.99 1064.9,215.82 1066.4,217.6 1067.9,219.32 1069.4,220.99 1070.9,222.6 1072.4,224.15 1073.9,225.65 1075.4,227.1 1076.9,228.49 1078.4,229.82 1079.9,231.09 1081.4,232.3 1082.9,233.44 1084.4,234.53 1085.9,235.55 1087.4,236.51 1088.9,237.4 1090.4,238.23 1091.9,238.99 1093.4,239.68 1094.9,240.31 1096.4,240.88 1097.9,241.39 1099.4,241.84 1100.9,242.24 1102.4,242.6 1103.9,242.9 1105.4,243.16 1106.9,243.39 1108.4,243.57 1109.9,243.72 1111.4,243.84 1112.9,243.93 1114.4,243.99 1115.9,244.02 1117.4,244.03 1118.9,244.03 1120.4,244.01 1121.9,243.98 1123.4,243.94 1124.9,243.9 1126.4,243.87 1127.9,243.84 1129.4,243.83 1130.9,243.83 1132.4,243.84 1133.9,243.89 1135.4,243.95 1136.9,244.05 1138.4,244.17 1139.9,244.33 1141.4,244.51 1142.9,244.73 1144.4,244.99 1145.9,245.27 1147.4,245.59 1148.9,245.93 1150.4,246.31 1151.9,246.71 1153.4,247.14 1154.9,247.59 1156.4,248.07 1157.9,248.56 1159.4,249.07 1160.9,249.6 1162.4,250.15 1163.9,250.7 1165.4,251.27 1166.9,251.84 1168.4,252.42 1169.9,253 1171.4,253.57 1172.9,254.15 1174.4,254.72 1175.9,255.28 1177.4,255.83 1178.9,256.37 1180.4,256.9 1181.9,257.42 1183.4,257.92 1184.9,258.41 1186.4,258.88 1187.9,259.33 1189.4,259.78 1190.9,260.2 1192.4,260.61 1193.9,261.01 1195.4,261.4 1196.9,261.77 1198.4,262.13 1199.9,262.47 1201.4,262.81 1202.9,263.13 1204.4,263.44 1205.9,263.74 1207.4,264.03 1208.9,264.3 1210.4,264.57 1211.9,264.81 1213.4,265.05 1214.9,265.27 1216.4,265.48 1217.9,265.68 1219.4,265.86 1220.9,266.04 1222.4,266.21 1223.9,266.36 1225.4,266.51 1226.9,266.66 1228.4,266.8 1229.9,266.93 1231.4,267.06 1232.9,267.19 1234.4,267.32 1235.9,267.44 1237.4,267.56 1238.9,267.68 1240.4,267.79 1241.9,267.9 1243.4,268.02 1244.9,268.12 1246.4,268.23 1247.9,268.34 1249.4,268.44 1250.9,268.54 1252.4,268.64 1253.9,268.73 1255.4,268.82 1256.9,268.91 1258.4,268.98 1259.9,269.05 1261.4,269.11 1262.9,269.16 1264.5,269.2" fill="none" stroke="#F0008C" stroke-width="3.8" stroke-linejoin="round"/>
</g>
<text x="840.76" y="240.8" font-size="29.1" fill="#F0008C" textLength="68.42" lengthAdjust="spacingAndGlyphs">544D</text>
<text x="842.34" y="277.5" font-size="29.1" fill="#FF4040" textLength="67.31" lengthAdjust="spacingAndGlyphs">377D</text>
<text x="841.98" y="315" font-size="29.1" fill="#F08828" textLength="67.68" lengthAdjust="spacingAndGlyphs">215D</text>
<text x="843.17" y="357.4" font-size="29.1" fill="#E8A828" textLength="67.79" lengthAdjust="spacingAndGlyphs">138D</text>
<text x="849.59" y="427.5" font-size="29.1" fill="#E8E030" textLength="51.63" lengthAdjust="spacingAndGlyphs">19D</text>
<text x="850.91" y="472.2" font-size="29.1" fill="#A0E830" textLength="36.26" lengthAdjust="spacingAndGlyphs">7D</text>
<text x="851.51" y="512.3" font-size="29.1" fill="#00E010" textLength="35.64" lengthAdjust="spacingAndGlyphs">1D</text>
<text x="851.37" y="552.2" font-size="29.1" fill="#00E010" textLength="49.59" lengthAdjust="spacingAndGlyphs">15h</text>
<text x="852.11" y="590.3" font-size="29.1" fill="#00C8C8" textLength="33.09" lengthAdjust="spacingAndGlyphs">6h</text>
<text x="853.41" y="630.4" font-size="29.1" fill="#00A0F8" textLength="32.45" lengthAdjust="spacingAndGlyphs">1h</text>
<text x="852.96" y="669.6" font-size="29.1" fill="#2040F8" textLength="66.64" lengthAdjust="spacingAndGlyphs">2min</text>
<text x="681.51" y="29" font-size="37.3" fill="#000" textLength="46.66" lengthAdjust="spacingAndGlyphs">(b)</text>
<text x="1123.13" y="29" font-size="37.3" fill="#000" textLength="134.07" lengthAdjust="spacingAndGlyphs">Ge(110)</text>
<text x="1119.06" y="90.9" font-size="37.4" fill="#000" textLength="90.33" lengthAdjust="spacingAndGlyphs" font-weight="bold">Ge2p</text>
<text x="1209.36" y="100.9" font-size="24.6" fill="#000" textLength="39.79" lengthAdjust="spacingAndGlyphs" font-weight="bold">3/2</text>
</g>
<g id="panel-c">
<rect x="1512.5" y="45.1" width="430.6" height="650" fill="none" stroke="#000" stroke-width="2.6"/>
<path d="M1512.5 695.1v5.25M1555.56 695.1v10.9M1598.62 695.1v5.25M1641.68 695.1v10.9M1684.74 695.1v5.25M1727.8 695.1v10.9M1770.86 695.1v5.25M1813.92 695.1v10.9M1856.98 695.1v5.25M1900.04 695.1v10.9M1943.1 695.1v5.25M1512.5 695.1h-10.9M1512.5 654.48h-5.25M1512.5 613.85h-10.9M1512.5 573.23h-5.25M1512.5 532.6h-10.9M1512.5 491.98h-5.25M1512.5 451.35h-10.9M1512.5 410.73h-5.25M1512.5 370.1h-10.9M1512.5 329.48h-5.25M1512.5 288.85h-10.9M1512.5 248.23h-5.25M1512.5 207.6h-10.9M1512.5 166.98h-5.25M1512.5 126.35h-10.9M1512.5 85.73h-5.25M1512.5 45.1h-10.9" fill="none" stroke="#000" stroke-width="2.6"/>
<g font-size="32.0" fill="#000"><text x="1555.56" y="737.8" text-anchor="middle" font-size="31.8" textLength="68.97" lengthAdjust="spacingAndGlyphs">1224</text><text x="1641.68" y="737.8" text-anchor="middle" font-size="31.8" textLength="68.97" lengthAdjust="spacingAndGlyphs">1222</text><text x="1727.8" y="737.8" text-anchor="middle" font-size="31.8" textLength="68.97" lengthAdjust="spacingAndGlyphs">1220</text><text x="1813.92" y="737.8" text-anchor="middle" font-size="31.8" textLength="68.97" lengthAdjust="spacingAndGlyphs">1218</text><text x="1900.04" y="737.8" text-anchor="middle" font-size="31.8" textLength="68.97" lengthAdjust="spacingAndGlyphs">1216</text><text x="1494.4" y="704.6" text-anchor="end">0.0</text><text x="1494.4" y="623.35" text-anchor="end">0.5</text><text x="1494.4" y="542.1" text-anchor="end">1.0</text><text x="1494.4" y="460.85" text-anchor="end">1.5</text><text x="1494.4" y="379.6" text-anchor="end">2.0</text><text x="1494.4" y="298.35" text-anchor="end">2.5</text><text x="1494.4" y="217.1" text-anchor="end">3.0</text><text x="1494.4" y="135.85" text-anchor="end">3.5</text><text x="1494.4" y="54.6" text-anchor="end">4.0</text></g>
<text transform="translate(1410.1 355.3) rotate(-90)" text-anchor="middle" font-size="31.55" fill="#000">Normalized Intensity</text>
<text x="1728" y="776.2" text-anchor="middle" font-size="31.55" fill="#000">Binding Energy (eV)</text>
<clipPath id="clip-c"><rect x="1512.5" y="45.1" width="430.6" height="650"/></clipPath>
<g clip-path="url(#clip-c)">
<polyline points="1512.5,674.42 1514,674.5 1515.5,674.57 1517,674.65 1518.5,674.74 1520,674.82 1521.5,674.91 1523,674.99 1524.5,675.08 1526,675.17 1527.5,675.26 1529,675.35 1530.5,675.44 1532,675.52 1533.5,675.61 1535,675.69 1536.5,675.78 1538,675.86 1539.5,675.94 1541,676.01 1542.5,676.09 1544,676.16 1545.5,676.23 1547,676.29 1548.5,676.35 1550,676.41 1551.5,676.46 1553,676.51 1554.5,676.55 1556,676.59 1557.5,676.63 1559,676.66 1560.5,676.69 1562,676.72 1563.5,676.75 1565,676.77 1566.5,676.8 1568,676.82 1569.5,676.85 1571,676.87 1572.5,676.9 1574,676.92 1575.5,676.94 1577,676.97 1578.5,676.99 1580,677.01 1581.5,677.03 1583,677.05 1584.5,677.07 1586,677.08 1587.5,677.09 1589,677.1 1590.5,677.11 1592,677.11 1593.5,677.11 1595,677.11 1596.5,677.1 1598,677.09 1599.5,677.08 1601,677.07 1602.5,677.05 1604,677.03 1605.5,677.01 1607,676.98 1608.5,676.95 1610,676.92 1611.5,676.89 1613,676.85 1614.5,676.81 1616,676.76 1617.5,676.71 1619,676.66 1620.5,676.6 1622,676.54 1623.5,676.47 1625,676.39 1626.5,676.31 1628,676.23 1629.5,676.14 1631,676.05 1632.5,675.95 1634,675.85 1635.5,675.74 1637,675.62 1638.5,675.49 1640,675.36 1641.5,675.21 1643,675.06 1644.5,674.89 1646,674.72 1647.5,674.53 1649,674.34 1650.5,674.14 1652,673.93 1653.5,673.71 1655,673.48 1656.5,673.25 1658,673.01 1659.5,672.76 1661,672.5 1662.5,672.24 1664,671.97 1665.5,671.68 1667,671.4 1668.5,671.1 1670,670.79 1671.5,670.48 1673,670.17 1674.5,669.86 1676,669.54 1677.5,669.24 1679,668.94 1680.5,668.64 1682,668.36 1683.5,668.09 1685,667.81 1686.5,667.53 1688,667.25 1689.5,666.95 1691,666.63 1692.5,666.28 1694,665.9 1695.5,665.5 1697,665.06 1698.5,664.59 1700,664.1 1701.5,663.58 1703,663.04 1704.5,662.47 1706,661.87 1707.5,661.25 1709,660.59 1710.5,659.89 1712,659.16 1713.5,658.37 1715,657.54 1716.5,656.66 1718,655.72 1719.5,654.73 1721,653.67 1722.5,652.56 1724,651.39 1725.5,650.17 1727,648.9 1728.5,647.58 1730,646.2 1731.5,644.78 1733,643.3 1734.5,641.76 1736,640.16 1737.5,638.49 1739,636.75 1740.5,634.93 1742,633.02 1743.5,631.03 1745,628.94 1746.5,626.76 1748,624.48 1749.5,622.09 1751,619.6 1752.5,617.01 1754,614.31 1755.5,611.51 1757,608.6 1758.5,605.58 1760,602.46 1761.5,599.24 1763,595.92 1764.5,592.51 1766,589.02 1767.5,585.45 1769,581.82 1770.5,578.13 1772,574.4 1773.5,570.65 1775,566.9 1776.5,563.16 1778,559.46 1779.5,555.83 1781,552.3 1782.5,548.9 1784,545.67 1785.5,542.65 1787,539.87 1788.5,537.38 1790,535.21 1791.5,533.4 1793,531.98 1794.5,530.99 1796,530.45 1797.5,530.37 1799,530.77 1800.5,531.65 1802,533.01 1803.5,534.84 1805,537.11 1806.5,539.79 1808,542.87 1809.5,546.29 1811,550.02 1812.5,554.01 1814,558.22 1815.5,562.6 1817,567.1 1818.5,571.69 1820,576.32 1821.5,580.95 1823,585.56 1824.5,590.11 1826,594.59 1827.5,598.98 1829,603.26 1830.5,607.43 1832,611.47 1833.5,615.38 1835,619.15 1836.5,622.79 1838,626.29 1839.5,629.66 1841,632.88 1842.5,635.96 1844,638.92 1845.5,641.74 1847,644.44 1848.5,647.01 1850,649.47 1851.5,651.82 1853,654.05 1854.5,656.17 1856,658.19 1857.5,660.09 1859,661.89 1860.5,663.59 1862,665.19 1863.5,666.69 1865,668.09 1866.5,669.4 1868,670.63 1869.5,671.78 1871,672.85 1872.5,673.85 1874,674.78 1875.5,675.66 1877,676.48 1878.5,677.25 1880,677.97 1881.5,678.65 1883,679.29 1884.5,679.89 1886,680.46 1887.5,681.01 1889,681.53 1890.5,682.02 1892,682.5 1893.5,682.95 1895,683.39 1896.5,683.82 1898,684.23 1899.5,684.63 1901,685.02 1902.5,685.39 1904,685.76 1905.5,686.11 1907,686.46 1908.5,686.79 1910,687.11 1911.5,687.41 1913,687.71 1914.5,687.99 1916,688.26 1917.5,688.51 1919,688.76 1920.5,688.99 1922,689.22 1923.5,689.44 1925,689.65 1926.5,689.85 1928,690.05 1929.5,690.24 1931,690.43 1932.5,690.61 1934,690.8 1935.5,690.98 1937,691.16 1938.5,691.33 1940,691.51 1941.5,691.68 1943.1,691.87" fill="none" stroke="#2040F8" stroke-width="4.0" stroke-linejoin="round"/>
<polyline points="1512.5,634.96 1514,635.04 1515.5,635.12 1517,635.19 1518.5,635.26 1520,635.33 1521.5,635.39 1523,635.45 1524.5,635.5 1526,635.56 1527.5,635.61 1529,635.66 1530.5,635.71 1532,635.76 1533.5,635.81 1535,635.85 1536.5,635.9 1538,635.95 1539.5,635.99 1541,636.04 1542.5,636.08 1544,636.13 1545.5,636.17 1547,636.21 1548.5,636.25 1550,636.29 1551.5,636.33 1553,636.37 1554.5,636.41 1556,636.44 1557.5,636.48 1559,636.51 1560.5,636.54 1562,636.56 1563.5,636.58 1565,636.6 1566.5,636.62 1568,636.64 1569.5,636.65 1571,636.65 1572.5,636.65 1574,636.65 1575.5,636.65 1577,636.64 1578.5,636.62 1580,636.61 1581.5,636.59 1583,636.56 1584.5,636.53 1586,636.5 1587.5,636.46 1589,636.42 1590.5,636.38 1592,636.33 1593.5,636.28 1595,636.22 1596.5,636.16 1598,636.09 1599.5,636.02 1601,635.94 1602.5,635.86 1604,635.78 1605.5,635.69 1607,635.59 1608.5,635.48 1610,635.37 1611.5,635.26 1613,635.13 1614.5,635 1616,634.86 1617.5,634.71 1619,634.55 1620.5,634.39 1622,634.21 1623.5,634.03 1625,633.84 1626.5,633.64 1628,633.43 1629.5,633.22 1631,633 1632.5,632.78 1634,632.54 1635.5,632.29 1637,632.02 1638.5,631.74 1640,631.43 1641.5,631.11 1643,630.76 1644.5,630.39 1646,630 1647.5,629.59 1649,629.17 1650.5,628.73 1652,628.27 1653.5,627.79 1655,627.3 1656.5,626.79 1658,626.27 1659.5,625.74 1661,625.19 1662.5,624.63 1664,624.06 1665.5,623.48 1667,622.89 1668.5,622.29 1670,621.7 1671.5,621.09 1673,620.49 1674.5,619.89 1676,619.3 1677.5,618.71 1679,618.14 1680.5,617.58 1682,617.04 1683.5,616.51 1685,615.99 1686.5,615.49 1688,615 1689.5,614.52 1691,614.05 1692.5,613.58 1694,613.11 1695.5,612.64 1697,612.17 1698.5,611.7 1700,611.22 1701.5,610.74 1703,610.25 1704.5,609.76 1706,609.26 1707.5,608.75 1709,608.24 1710.5,607.71 1712,607.16 1713.5,606.6 1715,606.02 1716.5,605.4 1718,604.75 1719.5,604.06 1721,603.32 1722.5,602.53 1724,601.67 1725.5,600.74 1727,599.73 1728.5,598.63 1730,597.44 1731.5,596.16 1733,594.77 1734.5,593.28 1736,591.68 1737.5,589.97 1739,588.16 1740.5,586.25 1742,584.25 1743.5,582.16 1745,579.99 1746.5,577.75 1748,575.45 1749.5,573.1 1751,570.69 1752.5,568.24 1754,565.74 1755.5,563.19 1757,560.58 1758.5,557.9 1760,555.16 1761.5,552.33 1763,549.43 1764.5,546.43 1766,543.33 1767.5,540.15 1769,536.89 1770.5,533.55 1772,530.16 1773.5,526.73 1775,523.29 1776.5,519.85 1778,516.46 1779.5,513.15 1781,509.95 1782.5,506.89 1784,504.01 1785.5,501.36 1787,498.96 1788.5,496.85 1790,495.07 1791.5,493.65 1793,492.62 1794.5,492 1796,491.82 1797.5,492.08 1799,492.79 1800.5,493.95 1802,495.55 1803.5,497.57 1805,499.98 1806.5,502.76 1808,505.87 1809.5,509.27 1811,512.91 1812.5,516.76 1814,520.77 1815.5,524.91 1817,529.16 1818.5,533.47 1820,537.83 1821.5,542.22 1823,546.62 1824.5,551.03 1826,555.42 1827.5,559.79 1829,564.12 1830.5,568.39 1832,572.58 1833.5,576.68 1835,580.66 1836.5,584.51 1838,588.22 1839.5,591.77 1841,595.16 1842.5,598.39 1844,601.44 1845.5,604.32 1847,607.05 1848.5,609.61 1850,612.02 1851.5,614.29 1853,616.41 1854.5,618.41 1856,620.28 1857.5,622.03 1859,623.66 1860.5,625.19 1862,626.62 1863.5,627.94 1865,629.17 1866.5,630.32 1868,631.38 1869.5,632.37 1871,633.29 1872.5,634.15 1874,634.96 1875.5,635.72 1877,636.45 1878.5,637.14 1880,637.82 1881.5,638.47 1883,639.1 1884.5,639.72 1886,640.32 1887.5,640.9 1889,641.45 1890.5,641.99 1892,642.5 1893.5,642.99 1895,643.46 1896.5,643.91 1898,644.34 1899.5,644.74 1901,645.14 1902.5,645.51 1904,645.87 1905.5,646.22 1907,646.56 1908.5,646.89 1910,647.21 1911.5,647.51 1913,647.81 1914.5,648.1 1916,648.38 1917.5,648.65 1919,648.91 1920.5,649.17 1922,649.41 1923.5,649.65 1925,649.89 1926.5,650.11 1928,650.33 1929.5,650.55 1931,650.76 1932.5,650.97 1934,651.17 1935.5,651.38 1937,651.58 1938.5,651.79 1940,652 1941.5,652.21 1943.1,652.43" fill="none" stroke="#00A0F8" stroke-width="4.0" stroke-linejoin="round"/>
<polyline points="1512.5,593.5 1514,593.52 1515.5,593.54 1517,593.57 1518.5,593.6 1520,593.63 1521.5,593.66 1523,593.69 1524.5,593.73 1526,593.76 1527.5,593.79 1529,593.82 1530.5,593.85 1532,593.87 1533.5,593.89 1535,593.91 1536.5,593.92 1538,593.93 1539.5,593.94 1541,593.94 1542.5,593.94 1544,593.94 1545.5,593.94 1547,593.94 1548.5,593.93 1550,593.92 1551.5,593.92 1553,593.91 1554.5,593.9 1556,593.88 1557.5,593.87 1559,593.85 1560.5,593.84 1562,593.82 1563.5,593.8 1565,593.77 1566.5,593.74 1568,593.71 1569.5,593.68 1571,593.64 1572.5,593.6 1574,593.56 1575.5,593.51 1577,593.45 1578.5,593.4 1580,593.33 1581.5,593.26 1583,593.19 1584.5,593.12 1586,593.04 1587.5,592.95 1589,592.86 1590.5,592.77 1592,592.67 1593.5,592.57 1595,592.46 1596.5,592.34 1598,592.22 1599.5,592.09 1601,591.94 1602.5,591.79 1604,591.63 1605.5,591.46 1607,591.28 1608.5,591.08 1610,590.87 1611.5,590.65 1613,590.41 1614.5,590.16 1616,589.9 1617.5,589.62 1619,589.33 1620.5,589.02 1622,588.7 1623.5,588.36 1625,588 1626.5,587.62 1628,587.22 1629.5,586.79 1631,586.33 1632.5,585.84 1634,585.32 1635.5,584.76 1637,584.16 1638.5,583.52 1640,582.85 1641.5,582.13 1643,581.37 1644.5,580.58 1646,579.75 1647.5,578.88 1649,577.98 1650.5,577.04 1652,576.08 1653.5,575.09 1655,574.07 1656.5,573.04 1658,571.99 1659.5,570.92 1661,569.85 1662.5,568.77 1664,567.69 1665.5,566.62 1667,565.54 1668.5,564.48 1670,563.43 1671.5,562.4 1673,561.39 1674.5,560.41 1676,559.45 1677.5,558.52 1679,557.63 1680.5,556.78 1682,555.96 1683.5,555.19 1685,554.47 1686.5,553.78 1688,553.14 1689.5,552.55 1691,552 1692.5,551.5 1694,551.04 1695.5,550.62 1697,550.25 1698.5,549.92 1700,549.63 1701.5,549.38 1703,549.17 1704.5,548.99 1706,548.84 1707.5,548.72 1709,548.63 1710.5,548.55 1712,548.48 1713.5,548.43 1715,548.37 1716.5,548.31 1718,548.24 1719.5,548.16 1721,548.05 1722.5,547.91 1724,547.73 1725.5,547.51 1727,547.24 1728.5,546.92 1730,546.52 1731.5,546.04 1733,545.48 1734.5,544.81 1736,544.03 1737.5,543.13 1739,542.08 1740.5,540.9 1742,539.55 1743.5,538.04 1745,536.37 1746.5,534.54 1748,532.53 1749.5,530.38 1751,528.07 1752.5,525.63 1754,523.06 1755.5,520.39 1757,517.62 1758.5,514.78 1760,511.87 1761.5,508.92 1763,505.93 1764.5,502.91 1766,499.87 1767.5,496.81 1769,493.73 1770.5,490.65 1772,487.55 1773.5,484.46 1775,481.37 1776.5,478.29 1778,475.24 1779.5,472.24 1781,469.31 1782.5,466.46 1784,463.73 1785.5,461.13 1787,458.7 1788.5,456.47 1790,454.47 1791.5,452.74 1793,451.32 1794.5,450.23 1796,449.51 1797.5,449.2 1799,449.31 1800.5,449.86 1802,450.86 1803.5,452.32 1805,454.23 1806.5,456.57 1808,459.31 1809.5,462.44 1811,465.91 1812.5,469.68 1814,473.71 1815.5,477.96 1817,482.39 1818.5,486.95 1820,491.6 1821.5,496.3 1823,501.02 1824.5,505.73 1826,510.39 1827.5,514.97 1829,519.46 1830.5,523.83 1832,528.07 1833.5,532.17 1835,536.12 1836.5,539.92 1838,543.56 1839.5,547.05 1841,550.4 1842.5,553.6 1844,556.66 1845.5,559.58 1847,562.37 1848.5,565.03 1850,567.56 1851.5,569.96 1853,572.25 1854.5,574.42 1856,576.47 1857.5,578.4 1859,580.23 1860.5,581.96 1862,583.59 1863.5,585.12 1865,586.55 1866.5,587.91 1868,589.17 1869.5,590.37 1871,591.48 1872.5,592.53 1874,593.52 1875.5,594.44 1877,595.32 1878.5,596.14 1880,596.91 1881.5,597.65 1883,598.34 1884.5,599 1886,599.63 1887.5,600.23 1889,600.8 1890.5,601.34 1892,601.86 1893.5,602.36 1895,602.83 1896.5,603.27 1898,603.7 1899.5,604.1 1901,604.48 1902.5,604.84 1904,605.19 1905.5,605.52 1907,605.83 1908.5,606.13 1910,606.42 1911.5,606.7 1913,606.97 1914.5,607.23 1916,607.49 1917.5,607.74 1919,607.98 1920.5,608.21 1922,608.44 1923.5,608.66 1925,608.88 1926.5,609.09 1928,609.29 1929.5,609.48 1931,609.67 1932.5,609.85 1934,610.02 1935.5,610.19 1937,610.35 1938.5,610.51 1940,610.67 1941.5,610.81 1943.1,610.97" fill="none" stroke="#00C8C8" stroke-width="4.0" stroke-linejoin="round"/>
<polyline points="1512.5,552.19 1514,552.25 1515.5,552.3 1517,552.36 1518.5,552.41 1520,552.46 1521.5,552.51 1523,552.56 1524.5,552.6 1526,552.64 1527.5,552.68 1529,552.72 1530.5,552.75 1532,552.78 1533.5,552.81 1535,552.83 1536.5,552.85 1538,552.87 1539.5,552.88 1541,552.89 1542.5,552.89 1544,552.9 1545.5,552.89 1547,552.89 1548.5,552.88 1550,552.86 1551.5,552.84 1553,552.82 1554.5,552.8 1556,552.77 1557.5,552.73 1559,552.7 1560.5,552.66 1562,552.61 1563.5,552.56 1565,552.51 1566.5,552.46 1568,552.4 1569.5,552.34 1571,552.27 1572.5,552.21 1574,552.13 1575.5,552.05 1577,551.97 1578.5,551.88 1580,551.79 1581.5,551.68 1583,551.57 1584.5,551.46 1586,551.33 1587.5,551.2 1589,551.05 1590.5,550.9 1592,550.74 1593.5,550.57 1595,550.39 1596.5,550.2 1598,550 1599.5,549.8 1601,549.58 1602.5,549.36 1604,549.12 1605.5,548.88 1607,548.62 1608.5,548.36 1610,548.08 1611.5,547.79 1613,547.49 1614.5,547.18 1616,546.85 1617.5,546.52 1619,546.16 1620.5,545.8 1622,545.41 1623.5,545.01 1625,544.59 1626.5,544.15 1628,543.68 1629.5,543.18 1631,542.65 1632.5,542.09 1634,541.48 1635.5,540.85 1637,540.17 1638.5,539.45 1640,538.69 1641.5,537.9 1643,537.07 1644.5,536.2 1646,535.31 1647.5,534.38 1649,533.43 1650.5,532.45 1652,531.44 1653.5,530.4 1655,529.34 1656.5,528.25 1658,527.13 1659.5,525.99 1661,524.83 1662.5,523.65 1664,522.45 1665.5,521.24 1667,520.02 1668.5,518.8 1670,517.58 1671.5,516.37 1673,515.19 1674.5,514.03 1676,512.9 1677.5,511.82 1679,510.78 1680.5,509.8 1682,508.89 1683.5,508.03 1685,507.25 1686.5,506.55 1688,505.91 1689.5,505.35 1691,504.87 1692.5,504.45 1694,504.11 1695.5,503.84 1697,503.63 1698.5,503.48 1700,503.38 1701.5,503.33 1703,503.33 1704.5,503.35 1706,503.41 1707.5,503.49 1709,503.57 1710.5,503.67 1712,503.76 1713.5,503.84 1715,503.91 1716.5,503.95 1718,503.97 1719.5,503.96 1721,503.92 1722.5,503.83 1724,503.7 1725.5,503.51 1727,503.27 1728.5,502.97 1730,502.59 1731.5,502.14 1733,501.62 1734.5,501.01 1736,500.32 1737.5,499.54 1739,498.67 1740.5,497.71 1742,496.65 1743.5,495.5 1745,494.24 1746.5,492.89 1748,491.43 1749.5,489.86 1751,488.18 1752.5,486.38 1754,484.46 1755.5,482.42 1757,480.26 1758.5,477.98 1760,475.57 1761.5,473.04 1763,470.4 1764.5,467.64 1766,464.78 1767.5,461.83 1769,458.78 1770.5,455.66 1772,452.48 1773.5,449.25 1775,445.99 1776.5,442.71 1778,439.45 1779.5,436.23 1781,433.07 1782.5,429.99 1784,427.04 1785.5,424.23 1787,421.61 1788.5,419.19 1790,417.03 1791.5,415.13 1793,413.55 1794.5,412.3 1796,411.42 1797.5,410.93 1799,410.84 1800.5,411.18 1802,411.95 1803.5,413.14 1805,414.75 1806.5,416.77 1808,419.17 1809.5,421.94 1811,425.03 1812.5,428.43 1814,432.1 1815.5,436.01 1817,440.13 1818.5,444.44 1820,448.9 1821.5,453.5 1823,458.2 1824.5,462.97 1826,467.79 1827.5,472.61 1829,477.41 1830.5,482.14 1832,486.79 1833.5,491.31 1835,495.67 1836.5,499.86 1838,503.86 1839.5,507.65 1841,511.24 1842.5,514.61 1844,517.78 1845.5,520.74 1847,523.52 1848.5,526.1 1850,528.52 1851.5,530.77 1853,532.87 1854.5,534.83 1856,536.67 1857.5,538.4 1859,540.02 1860.5,541.54 1862,542.99 1863.5,544.36 1865,545.66 1866.5,546.9 1868,548.08 1869.5,549.21 1871,550.29 1872.5,551.32 1874,552.31 1875.5,553.24 1877,554.13 1878.5,554.98 1880,555.78 1881.5,556.54 1883,557.26 1884.5,557.94 1886,558.59 1887.5,559.21 1889,559.8 1890.5,560.36 1892,560.9 1893.5,561.41 1895,561.9 1896.5,562.37 1898,562.82 1899.5,563.25 1901,563.67 1902.5,564.06 1904,564.44 1905.5,564.8 1907,565.14 1908.5,565.47 1910,565.79 1911.5,566.1 1913,566.39 1914.5,566.67 1916,566.94 1917.5,567.2 1919,567.45 1920.5,567.69 1922,567.92 1923.5,568.14 1925,568.35 1926.5,568.56 1928,568.76 1929.5,568.96 1931,569.15 1932.5,569.34 1934,569.53 1935.5,569.73 1937,569.93 1938.5,570.13 1940,570.34 1941.5,570.56 1943.1,570.8" fill="none" stroke="#00D090" stroke-width="4.0" stroke-linejoin="round"/>
<polyline points="1512.5,507.9 1514,507.9 1515.5,507.9 1517,507.9 1518.5,507.9 1520,507.9 1521.5,507.89 1523,507.89 1524.5,507.88 1526,507.87 1527.5,507.86 1529,507.85 1530.5,507.83 1532,507.81 1533.5,507.79 1535,507.76 1536.5,507.73 1538,507.7 1539.5,507.66 1541,507.62 1542.5,507.57 1544,507.52 1545.5,507.47 1547,507.42 1548.5,507.36 1550,507.3 1551.5,507.23 1553,507.16 1554.5,507.09 1556,507.01 1557.5,506.93 1559,506.84 1560.5,506.75 1562,506.66 1563.5,506.56 1565,506.45 1566.5,506.34 1568,506.22 1569.5,506.09 1571,505.96 1572.5,505.82 1574,505.67 1575.5,505.51 1577,505.35 1578.5,505.18 1580,504.99 1581.5,504.8 1583,504.6 1584.5,504.39 1586,504.17 1587.5,503.94 1589,503.7 1590.5,503.45 1592,503.19 1593.5,502.91 1595,502.62 1596.5,502.32 1598,502 1599.5,501.66 1601,501.31 1602.5,500.94 1604,500.55 1605.5,500.14 1607,499.71 1608.5,499.25 1610,498.77 1611.5,498.27 1613,497.74 1614.5,497.19 1616,496.61 1617.5,496.01 1619,495.38 1620.5,494.72 1622,494.03 1623.5,493.31 1625,492.56 1626.5,491.77 1628,490.95 1629.5,490.1 1631,489.2 1632.5,488.27 1634,487.29 1635.5,486.27 1637,485.21 1638.5,484.11 1640,482.97 1641.5,481.79 1643,480.58 1644.5,479.34 1646,478.07 1647.5,476.78 1649,475.47 1650.5,474.15 1652,472.81 1653.5,471.46 1655,470.09 1656.5,468.72 1658,467.35 1659.5,465.96 1661,464.57 1662.5,463.17 1664,461.77 1665.5,460.37 1667,458.96 1668.5,457.56 1670,456.17 1671.5,454.8 1673,453.44 1674.5,452.12 1676,450.84 1677.5,449.61 1679,448.44 1680.5,447.33 1682,446.3 1683.5,445.35 1685,444.49 1686.5,443.71 1688,443.03 1689.5,442.45 1691,441.97 1692.5,441.59 1694,441.31 1695.5,441.12 1697,441.03 1698.5,441.04 1700,441.13 1701.5,441.31 1703,441.57 1704.5,441.89 1706,442.28 1707.5,442.72 1709,443.21 1710.5,443.73 1712,444.29 1713.5,444.86 1715,445.45 1716.5,446.03 1718,446.61 1719.5,447.18 1721,447.72 1722.5,448.23 1724,448.7 1725.5,449.12 1727,449.5 1728.5,449.82 1730,450.07 1731.5,450.27 1733,450.39 1734.5,450.44 1736,450.41 1737.5,450.3 1739,450.09 1740.5,449.78 1742,449.36 1743.5,448.81 1745,448.14 1746.5,447.32 1748,446.35 1749.5,445.22 1751,443.93 1752.5,442.48 1754,440.86 1755.5,439.07 1757,437.12 1758.5,435.01 1760,432.75 1761.5,430.34 1763,427.81 1764.5,425.15 1766,422.38 1767.5,419.52 1769,416.58 1770.5,413.57 1772,410.51 1773.5,407.41 1775,404.29 1776.5,401.17 1778,398.06 1779.5,394.98 1781,391.95 1782.5,389 1784,386.14 1785.5,383.42 1787,380.84 1788.5,378.45 1790,376.27 1791.5,374.33 1793,372.68 1794.5,371.32 1796,370.3 1797.5,369.64 1799,369.34 1800.5,369.44 1802,369.94 1803.5,370.84 1805,372.15 1806.5,373.86 1808,375.95 1809.5,378.41 1811,381.21 1812.5,384.34 1814,387.75 1815.5,391.42 1817,395.3 1818.5,399.38 1820,403.59 1821.5,407.92 1823,412.33 1824.5,416.77 1826,421.23 1827.5,425.67 1829,430.08 1830.5,434.43 1832,438.7 1833.5,442.89 1835,446.98 1836.5,450.97 1838,454.85 1839.5,458.61 1841,462.26 1842.5,465.79 1844,469.2 1845.5,472.48 1847,475.64 1848.5,478.65 1850,481.54 1851.5,484.29 1853,486.9 1854.5,489.37 1856,491.72 1857.5,493.93 1859,496.01 1860.5,497.97 1862,499.81 1863.5,501.54 1865,503.16 1866.5,504.69 1868,506.11 1869.5,507.45 1871,508.71 1872.5,509.89 1874,511 1875.5,512.04 1877,513.02 1878.5,513.94 1880,514.81 1881.5,515.63 1883,516.4 1884.5,517.13 1886,517.83 1887.5,518.48 1889,519.11 1890.5,519.7 1892,520.26 1893.5,520.8 1895,521.31 1896.5,521.8 1898,522.26 1899.5,522.7 1901,523.12 1902.5,523.52 1904,523.89 1905.5,524.25 1907,524.59 1908.5,524.91 1910,525.22 1911.5,525.51 1913,525.78 1914.5,526.04 1916,526.29 1917.5,526.52 1919,526.74 1920.5,526.95 1922,527.15 1923.5,527.33 1925,527.51 1926.5,527.68 1928,527.84 1929.5,528 1931,528.15 1932.5,528.3 1934,528.44 1935.5,528.59 1937,528.73 1938.5,528.87 1940,529 1941.5,529.14 1943.1,529.29" fill="none" stroke="#00E010" stroke-width="4.0" stroke-linejoin="round"/>
<polyline points="1512.5,463.15 1514,463.09 1515.5,463.03 1517,462.96 1518.5,462.9 1520,462.83 1521.5,462.76 1523,462.69 1524.5,462.62 1526,462.54 1527.5,462.46 1529,462.38 1530.5,462.29 1532,462.2 1533.5,462.1 1535,462 1536.5,461.9 1538,461.79 1539.5,461.68 1541,461.57 1542.5,461.45 1544,461.34 1545.5,461.23 1547,461.11 1548.5,461 1550,460.9 1551.5,460.79 1553,460.69 1554.5,460.59 1556,460.49 1557.5,460.39 1559,460.27 1560.5,460.15 1562,460.02 1563.5,459.87 1565,459.71 1566.5,459.53 1568,459.34 1569.5,459.14 1571,458.94 1572.5,458.73 1574,458.51 1575.5,458.3 1577,458.08 1578.5,457.85 1580,457.61 1581.5,457.35 1583,457.08 1584.5,456.8 1586,456.5 1587.5,456.18 1589,455.84 1590.5,455.49 1592,455.12 1593.5,454.73 1595,454.33 1596.5,453.9 1598,453.45 1599.5,452.97 1601,452.46 1602.5,451.93 1604,451.36 1605.5,450.76 1607,450.12 1608.5,449.45 1610,448.75 1611.5,448.01 1613,447.23 1614.5,446.4 1616,445.54 1617.5,444.62 1619,443.66 1620.5,442.64 1622,441.57 1623.5,440.45 1625,439.26 1626.5,438.02 1628,436.71 1629.5,435.33 1631,433.89 1632.5,432.38 1634,430.81 1635.5,429.16 1637,427.45 1638.5,425.67 1640,423.82 1641.5,421.91 1643,419.95 1644.5,417.93 1646,415.86 1647.5,413.74 1649,411.59 1650.5,409.41 1652,407.21 1653.5,405 1655,402.78 1656.5,400.57 1658,398.37 1659.5,396.2 1661,394.06 1662.5,391.96 1664,389.91 1665.5,387.92 1667,385.99 1668.5,384.13 1670,382.35 1671.5,380.65 1673,379.04 1674.5,377.52 1676,376.09 1677.5,374.77 1679,373.55 1680.5,372.44 1682,371.44 1683.5,370.56 1685,369.79 1686.5,369.14 1688,368.61 1689.5,368.2 1691,367.91 1692.5,367.74 1694,367.7 1695.5,367.77 1697,367.97 1698.5,368.28 1700,368.72 1701.5,369.28 1703,369.95 1704.5,370.73 1706,371.62 1707.5,372.62 1709,373.7 1710.5,374.87 1712,376.11 1713.5,377.42 1715,378.78 1716.5,380.18 1718,381.61 1719.5,383.05 1721,384.5 1722.5,385.94 1724,387.36 1725.5,388.74 1727,390.09 1728.5,391.38 1730,392.62 1731.5,393.79 1733,394.88 1734.5,395.9 1736,396.82 1737.5,397.66 1739,398.4 1740.5,399.03 1742,399.56 1743.5,399.98 1745,400.29 1746.5,400.47 1748,400.53 1749.5,400.46 1751,400.24 1752.5,399.89 1754,399.38 1755.5,398.72 1757,397.91 1758.5,396.94 1760,395.81 1761.5,394.52 1763,393.07 1764.5,391.47 1766,389.71 1767.5,387.79 1769,385.72 1770.5,383.5 1772,381.13 1773.5,378.63 1775,375.99 1776.5,373.24 1778,370.38 1779.5,367.43 1781,364.41 1782.5,361.35 1784,358.27 1785.5,355.19 1787,352.15 1788.5,349.17 1790,346.29 1791.5,343.52 1793,340.91 1794.5,338.48 1796,336.26 1797.5,334.29 1799,332.59 1800.5,331.19 1802,330.13 1803.5,329.43 1805,329.11 1806.5,329.2 1808,329.69 1809.5,330.61 1811,331.94 1812.5,333.67 1814,335.8 1815.5,338.28 1817,341.1 1818.5,344.22 1820,347.6 1821.5,351.22 1823,355.02 1824.5,358.98 1826,363.07 1827.5,367.25 1829,371.49 1830.5,375.77 1832,380.07 1833.5,384.35 1835,388.61 1836.5,392.83 1838,396.99 1839.5,401.07 1841,405.06 1842.5,408.96 1844,412.76 1845.5,416.44 1847,420.01 1848.5,423.46 1850,426.79 1851.5,430 1853,433.09 1854.5,436.06 1856,438.91 1857.5,441.65 1859,444.26 1860.5,446.76 1862,449.14 1863.5,451.39 1865,453.53 1866.5,455.56 1868,457.47 1869.5,459.26 1871,460.95 1872.5,462.53 1874,464.02 1875.5,465.4 1877,466.7 1878.5,467.9 1880,469.03 1881.5,470.09 1883,471.07 1884.5,472 1886,472.87 1887.5,473.69 1889,474.46 1890.5,475.2 1892,475.89 1893.5,476.56 1895,477.18 1896.5,477.78 1898,478.36 1899.5,478.9 1901,479.42 1902.5,479.92 1904,480.39 1905.5,480.85 1907,481.28 1908.5,481.69 1910,482.09 1911.5,482.47 1913,482.83 1914.5,483.18 1916,483.51 1917.5,483.83 1919,484.13 1920.5,484.42 1922,484.7 1923.5,484.97 1925,485.23 1926.5,485.47 1928,485.71 1929.5,485.94 1931,486.16 1932.5,486.37 1934,486.58 1935.5,486.78 1937,486.98 1938.5,487.17 1940,487.35 1941.5,487.54 1943.1,487.73" fill="none" stroke="#A0E830" stroke-width="4.0" stroke-linejoin="round"/>
<polyline points="1512.5,419.58 1514,419.47 1515.5,419.35 1517,419.24 1518.5,419.13 1520,419.02 1521.5,418.91 1523,418.8 1524.5,418.69 1526,418.58 1527.5,418.46 1529,418.34 1530.5,418.21 1532,418.08 1533.5,417.95 1535,417.81 1536.5,417.66 1538,417.51 1539.5,417.35 1541,417.19 1542.5,417.02 1544,416.85 1545.5,416.67 1547,416.49 1548.5,416.3 1550,416.11 1551.5,415.91 1553,415.7 1554.5,415.49 1556,415.27 1557.5,415.05 1559,414.82 1560.5,414.58 1562,414.34 1563.5,414.09 1565,413.83 1566.5,413.56 1568,413.28 1569.5,412.99 1571,412.69 1572.5,412.37 1574,412.05 1575.5,411.71 1577,411.35 1578.5,410.98 1580,410.58 1581.5,410.17 1583,409.74 1584.5,409.28 1586,408.79 1587.5,408.28 1589,407.75 1590.5,407.17 1592,406.57 1593.5,405.93 1595,405.26 1596.5,404.54 1598,403.79 1599.5,403 1601,402.16 1602.5,401.28 1604,400.36 1605.5,399.39 1607,398.38 1608.5,397.32 1610,396.2 1611.5,395.03 1613,393.81 1614.5,392.53 1616,391.18 1617.5,389.77 1619,388.29 1620.5,386.74 1622,385.11 1623.5,383.4 1625,381.61 1626.5,379.74 1628,377.79 1629.5,375.75 1631,373.63 1632.5,371.42 1634,369.12 1635.5,366.74 1637,364.26 1638.5,361.7 1640,359.05 1641.5,356.32 1643,353.52 1644.5,350.64 1646,347.7 1647.5,344.7 1649,341.67 1650.5,338.61 1652,335.54 1653.5,332.48 1655,329.42 1656.5,326.4 1658,323.41 1659.5,320.48 1661,317.61 1662.5,314.81 1664,312.09 1665.5,309.47 1667,306.96 1668.5,304.56 1670,302.29 1671.5,300.16 1673,298.18 1674.5,296.37 1676,294.72 1677.5,293.26 1679,291.99 1680.5,290.91 1682,290.04 1683.5,289.38 1685,288.93 1686.5,288.68 1688,288.65 1689.5,288.81 1691,289.18 1692.5,289.75 1694,290.5 1695.5,291.44 1697,292.54 1698.5,293.81 1700,295.22 1701.5,296.78 1703,298.47 1704.5,300.27 1706,302.19 1707.5,304.2 1709,306.3 1710.5,308.49 1712,310.74 1713.5,313.04 1715,315.4 1716.5,317.79 1718,320.2 1719.5,322.62 1721,325.04 1722.5,327.45 1724,329.83 1725.5,332.17 1727,334.45 1728.5,336.67 1730,338.81 1731.5,340.85 1733,342.79 1734.5,344.62 1736,346.34 1737.5,347.94 1739,349.43 1740.5,350.79 1742,352.04 1743.5,353.17 1745,354.17 1746.5,355.04 1748,355.76 1749.5,356.34 1751,356.76 1752.5,357.01 1754,357.09 1755.5,356.99 1757,356.71 1758.5,356.26 1760,355.62 1761.5,354.8 1763,353.81 1764.5,352.64 1766,351.31 1767.5,349.8 1769,348.14 1770.5,346.33 1772,344.37 1773.5,342.29 1775,340.09 1776.5,337.78 1778,335.39 1779.5,332.93 1781,330.41 1782.5,327.85 1784,325.27 1785.5,322.68 1787,320.1 1788.5,317.54 1790,315.04 1791.5,312.61 1793,310.26 1794.5,308.03 1796,305.94 1797.5,304.01 1799,302.28 1800.5,300.77 1802,299.51 1803.5,298.51 1805,297.82 1806.5,297.44 1808,297.4 1809.5,297.7 1811,298.36 1812.5,299.38 1814,300.75 1815.5,302.48 1817,304.54 1818.5,306.92 1820,309.61 1821.5,312.56 1823,315.76 1824.5,319.18 1826,322.77 1827.5,326.5 1829,330.34 1830.5,334.26 1832,338.21 1833.5,342.17 1835,346.11 1836.5,350.01 1838,353.85 1839.5,357.62 1841,361.3 1842.5,364.89 1844,368.38 1845.5,371.78 1847,375.09 1848.5,378.29 1850,381.4 1851.5,384.42 1853,387.33 1854.5,390.15 1856,392.86 1857.5,395.48 1859,397.99 1860.5,400.4 1862,402.72 1863.5,404.93 1865,407.04 1866.5,409.06 1868,410.98 1869.5,412.82 1871,414.56 1872.5,416.22 1874,417.8 1875.5,419.3 1877,420.73 1878.5,422.09 1880,423.39 1881.5,424.63 1883,425.81 1884.5,426.93 1886,428.01 1887.5,429.04 1889,430.02 1890.5,430.95 1892,431.84 1893.5,432.69 1895,433.5 1896.5,434.27 1898,435 1899.5,435.69 1901,436.35 1902.5,436.98 1904,437.57 1905.5,438.14 1907,438.68 1908.5,439.19 1910,439.67 1911.5,440.13 1913,440.57 1914.5,440.98 1916,441.37 1917.5,441.74 1919,442.09 1920.5,442.41 1922,442.72 1923.5,443.01 1925,443.29 1926.5,443.55 1928,443.8 1929.5,444.05 1931,444.29 1932.5,444.52 1934,444.74 1935.5,444.97 1937,445.18 1938.5,445.4 1940,445.6 1941.5,445.8 1943.1,446.01" fill="none" stroke="#E8E030" stroke-width="4.0" stroke-linejoin="round"/>
<polyline points="1512.5,374.07 1514,373.95 1515.5,373.84 1517,373.72 1518.5,373.6 1520,373.47 1521.5,373.33 1523,373.19 1524.5,373.05 1526,372.91 1527.5,372.75 1529,372.6 1530.5,372.44 1532,372.28 1533.5,372.11 1535,371.94 1536.5,371.77 1538,371.59 1539.5,371.42 1541,371.24 1542.5,371.07 1544,370.89 1545.5,370.72 1547,370.55 1548.5,370.38 1550,370.21 1551.5,370.04 1553,369.86 1554.5,369.68 1556,369.48 1557.5,369.28 1559,369.07 1560.5,368.84 1562,368.6 1563.5,368.35 1565,368.09 1566.5,367.81 1568,367.53 1569.5,367.24 1571,366.94 1572.5,366.63 1574,366.31 1575.5,365.99 1577,365.65 1578.5,365.31 1580,364.96 1581.5,364.59 1583,364.2 1584.5,363.8 1586,363.38 1587.5,362.93 1589,362.45 1590.5,361.94 1592,361.4 1593.5,360.81 1595,360.19 1596.5,359.51 1598,358.79 1599.5,358.01 1601,357.18 1602.5,356.3 1604,355.36 1605.5,354.36 1607,353.3 1608.5,352.19 1610,351.01 1611.5,349.77 1613,348.47 1614.5,347.1 1616,345.66 1617.5,344.16 1619,342.58 1620.5,340.93 1622,339.21 1623.5,337.41 1625,335.52 1626.5,333.56 1628,331.51 1629.5,329.38 1631,327.15 1632.5,324.84 1634,322.43 1635.5,319.94 1637,317.35 1638.5,314.67 1640,311.91 1641.5,309.06 1643,306.14 1644.5,303.14 1646,300.08 1647.5,296.97 1649,293.82 1650.5,290.63 1652,287.43 1653.5,284.22 1655,281.01 1656.5,277.82 1658,274.66 1659.5,271.54 1661,268.48 1662.5,265.5 1664,262.6 1665.5,259.81 1667,257.15 1668.5,254.62 1670,252.25 1671.5,250.04 1673,248.02 1674.5,246.18 1676,244.55 1677.5,243.12 1679,241.91 1680.5,240.92 1682,240.15 1683.5,239.61 1685,239.3 1686.5,239.21 1688,239.35 1689.5,239.7 1691,240.27 1692.5,241.04 1694,242.02 1695.5,243.19 1697,244.54 1698.5,246.06 1700,247.75 1701.5,249.6 1703,251.58 1704.5,253.7 1706,255.93 1707.5,258.26 1709,260.67 1710.5,263.15 1712,265.68 1713.5,268.25 1715,270.85 1716.5,273.47 1718,276.1 1719.5,278.73 1721,281.36 1722.5,283.98 1724,286.58 1725.5,289.15 1727,291.68 1728.5,294.15 1730,296.55 1731.5,298.86 1733,301.08 1734.5,303.2 1736,305.22 1737.5,307.12 1739,308.92 1740.5,310.61 1742,312.2 1743.5,313.69 1745,315.08 1746.5,316.36 1748,317.54 1749.5,318.62 1751,319.58 1752.5,320.43 1754,321.16 1755.5,321.77 1757,322.25 1758.5,322.61 1760,322.84 1761.5,322.94 1763,322.91 1764.5,322.75 1766,322.46 1767.5,322.05 1769,321.5 1770.5,320.82 1772,320.01 1773.5,319.08 1775,318.02 1776.5,316.85 1778,315.56 1779.5,314.17 1781,312.69 1782.5,311.12 1784,309.48 1785.5,307.79 1787,306.05 1788.5,304.28 1790,302.49 1791.5,300.71 1793,298.94 1794.5,297.2 1796,295.52 1797.5,293.9 1799,292.36 1800.5,290.92 1802,289.61 1803.5,288.44 1805,287.43 1806.5,286.6 1808,285.98 1809.5,285.57 1811,285.39 1812.5,285.46 1814,285.79 1815.5,286.38 1817,287.24 1818.5,288.37 1820,289.75 1821.5,291.39 1823,293.26 1824.5,295.34 1826,297.62 1827.5,300.08 1829,302.68 1830.5,305.41 1832,308.24 1833.5,311.15 1835,314.12 1836.5,317.13 1838,320.16 1839.5,323.19 1841,326.22 1842.5,329.23 1844,332.2 1845.5,335.14 1847,338.02 1848.5,340.84 1850,343.61 1851.5,346.29 1853,348.9 1854.5,351.43 1856,353.86 1857.5,356.19 1859,358.42 1860.5,360.54 1862,362.56 1863.5,364.47 1865,366.27 1866.5,367.98 1868,369.59 1869.5,371.11 1871,372.54 1872.5,373.9 1874,375.19 1875.5,376.4 1877,377.54 1878.5,378.62 1880,379.63 1881.5,380.59 1883,381.49 1884.5,382.35 1886,383.15 1887.5,383.92 1889,384.65 1890.5,385.35 1892,386.01 1893.5,386.65 1895,387.26 1896.5,387.85 1898,388.41 1899.5,388.94 1901,389.46 1902.5,389.95 1904,390.42 1905.5,390.86 1907,391.29 1908.5,391.7 1910,392.09 1911.5,392.46 1913,392.82 1914.5,393.16 1916,393.49 1917.5,393.8 1919,394.1 1920.5,394.39 1922,394.66 1923.5,394.93 1925,395.19 1926.5,395.43 1928,395.67 1929.5,395.9 1931,396.12 1932.5,396.34 1934,396.55 1935.5,396.75 1937,396.95 1938.5,397.14 1940,397.33 1941.5,397.51 1943.1,397.7" fill="none" stroke="#E8A828" stroke-width="4.0" stroke-linejoin="round"/>
<polyline points="1512.5,312.67 1514,312.53 1515.5,312.4 1517,312.27 1518.5,312.15 1520,312.03 1521.5,311.91 1523,311.79 1524.5,311.67 1526,311.55 1527.5,311.42 1529,311.28 1530.5,311.14 1532,311 1533.5,310.84 1535,310.68 1536.5,310.51 1538,310.33 1539.5,310.15 1541,309.96 1542.5,309.76 1544,309.56 1545.5,309.35 1547,309.14 1548.5,308.92 1550,308.69 1551.5,308.46 1553,308.22 1554.5,307.98 1556,307.72 1557.5,307.46 1559,307.19 1560.5,306.91 1562,306.62 1563.5,306.33 1565,306.02 1566.5,305.7 1568,305.37 1569.5,305.03 1571,304.68 1572.5,304.31 1574,303.93 1575.5,303.53 1577,303.11 1578.5,302.68 1580,302.23 1581.5,301.76 1583,301.26 1584.5,300.75 1586,300.21 1587.5,299.65 1589,299.06 1590.5,298.44 1592,297.8 1593.5,297.13 1595,296.43 1596.5,295.7 1598,294.93 1599.5,294.13 1601,293.29 1602.5,292.42 1604,291.5 1605.5,290.54 1607,289.53 1608.5,288.47 1610,287.35 1611.5,286.17 1613,284.92 1614.5,283.59 1616,282.16 1617.5,280.64 1619,279.02 1620.5,277.27 1622,275.41 1623.5,273.41 1625,271.28 1626.5,269.01 1628,266.6 1629.5,264.06 1631,261.39 1632.5,258.59 1634,255.68 1635.5,252.67 1637,249.56 1638.5,246.39 1640,243.15 1641.5,239.87 1643,236.55 1644.5,233.23 1646,229.9 1647.5,226.58 1649,223.29 1650.5,220.04 1652,216.84 1653.5,213.69 1655,210.61 1656.5,207.61 1658,204.69 1659.5,201.87 1661,199.14 1662.5,196.52 1664,194 1665.5,191.61 1667,189.34 1668.5,187.21 1670,185.22 1671.5,183.38 1673,181.71 1674.5,180.22 1676,178.91 1677.5,177.79 1679,176.89 1680.5,176.2 1682,175.73 1683.5,175.49 1685,175.49 1686.5,175.72 1688,176.19 1689.5,176.89 1691,177.83 1692.5,178.99 1694,180.37 1695.5,181.97 1697,183.77 1698.5,185.75 1700,187.9 1701.5,190.21 1703,192.65 1704.5,195.2 1706,197.85 1707.5,200.58 1709,203.38 1710.5,206.22 1712,209.1 1713.5,212.01 1715,214.94 1716.5,217.89 1718,220.84 1719.5,223.8 1721,226.75 1722.5,229.7 1724,232.63 1725.5,235.53 1727,238.41 1728.5,241.25 1730,244.04 1731.5,246.77 1733,249.45 1734.5,252.06 1736,254.59 1737.5,257.04 1739,259.4 1740.5,261.67 1742,263.85 1743.5,265.94 1745,267.92 1746.5,269.8 1748,271.57 1749.5,273.24 1751,274.79 1752.5,276.24 1754,277.58 1755.5,278.81 1757,279.94 1758.5,280.97 1760,281.9 1761.5,282.75 1763,283.5 1764.5,284.18 1766,284.77 1767.5,285.29 1769,285.73 1770.5,286.09 1772,286.39 1773.5,286.61 1775,286.76 1776.5,286.83 1778,286.84 1779.5,286.77 1781,286.63 1782.5,286.43 1784,286.15 1785.5,285.82 1787,285.43 1788.5,284.98 1790,284.5 1791.5,283.97 1793,283.41 1794.5,282.82 1796,282.23 1797.5,281.62 1799,281.02 1800.5,280.43 1802,279.86 1803.5,279.32 1805,278.82 1806.5,278.36 1808,277.96 1809.5,277.62 1811,277.36 1812.5,277.17 1814,277.08 1815.5,277.09 1817,277.2 1818.5,277.43 1820,277.78 1821.5,278.26 1823,278.86 1824.5,279.59 1826,280.44 1827.5,281.4 1829,282.47 1830.5,283.64 1832,284.89 1833.5,286.21 1835,287.6 1836.5,289.03 1838,290.49 1839.5,291.99 1841,293.49 1842.5,295 1844,296.51 1845.5,298.01 1847,299.49 1848.5,300.95 1850,302.39 1851.5,303.79 1853,305.16 1854.5,306.5 1856,307.8 1857.5,309.06 1859,310.28 1860.5,311.47 1862,312.62 1863.5,313.72 1865,314.79 1866.5,315.82 1868,316.81 1869.5,317.76 1871,318.67 1872.5,319.55 1874,320.38 1875.5,321.18 1877,321.94 1878.5,322.66 1880,323.35 1881.5,323.99 1883,324.6 1884.5,325.17 1886,325.71 1887.5,326.21 1889,326.67 1890.5,327.11 1892,327.52 1893.5,327.9 1895,328.25 1896.5,328.59 1898,328.9 1899.5,329.19 1901,329.47 1902.5,329.73 1904,329.98 1905.5,330.21 1907,330.44 1908.5,330.65 1910,330.85 1911.5,331.04 1913,331.22 1914.5,331.4 1916,331.56 1917.5,331.72 1919,331.88 1920.5,332.03 1922,332.17 1923.5,332.31 1925,332.45 1926.5,332.59 1928,332.72 1929.5,332.85 1931,332.97 1932.5,333.09 1934,333.21 1935.5,333.32 1937,333.43 1938.5,333.52 1940,333.61 1941.5,333.69 1943.1,333.77" fill="none" stroke="#F08828" stroke-width="4.0" stroke-linejoin="round"/>
<polyline points="1512.5,276.62 1514,276.49 1515.5,276.37 1517,276.25 1518.5,276.14 1520,276.02 1521.5,275.91 1523,275.8 1524.5,275.68 1526,275.56 1527.5,275.44 1529,275.31 1530.5,275.18 1532,275.04 1533.5,274.89 1535,274.74 1536.5,274.58 1538,274.41 1539.5,274.24 1541,274.07 1542.5,273.89 1544,273.7 1545.5,273.51 1547,273.32 1548.5,273.12 1550,272.92 1551.5,272.71 1553,272.5 1554.5,272.28 1556,272.06 1557.5,271.83 1559,271.59 1560.5,271.34 1562,271.08 1563.5,270.81 1565,270.53 1566.5,270.23 1568,269.91 1569.5,269.58 1571,269.22 1572.5,268.85 1574,268.44 1575.5,268.02 1577,267.57 1578.5,267.09 1580,266.59 1581.5,266.07 1583,265.51 1584.5,264.93 1586,264.31 1587.5,263.66 1589,262.98 1590.5,262.26 1592,261.51 1593.5,260.7 1595,259.86 1596.5,258.96 1598,258.01 1599.5,257.01 1601,255.95 1602.5,254.83 1604,253.65 1605.5,252.4 1607,251.08 1608.5,249.68 1610,248.21 1611.5,246.66 1613,245.02 1614.5,243.28 1616,241.45 1617.5,239.52 1619,237.48 1620.5,235.33 1622,233.07 1623.5,230.69 1625,228.2 1626.5,225.59 1628,222.86 1629.5,220.03 1631,217.09 1632.5,214.05 1634,210.92 1635.5,207.71 1637,204.43 1638.5,201.09 1640,197.71 1641.5,194.29 1643,190.86 1644.5,187.41 1646,183.97 1647.5,180.55 1649,177.15 1650.5,173.79 1652,170.47 1653.5,167.22 1655,164.04 1656.5,160.94 1658,157.94 1659.5,155.06 1661,152.31 1662.5,149.71 1664,147.26 1665.5,144.99 1667,142.91 1668.5,141.03 1670,139.36 1671.5,137.92 1673,136.7 1674.5,135.73 1676,134.99 1677.5,134.51 1679,134.29 1680.5,134.32 1682,134.61 1683.5,135.15 1685,135.96 1686.5,137.02 1688,138.32 1689.5,139.87 1691,141.64 1692.5,143.63 1694,145.83 1695.5,148.21 1697,150.77 1698.5,153.47 1700,156.3 1701.5,159.25 1703,162.28 1704.5,165.38 1706,168.53 1707.5,171.72 1709,174.92 1710.5,178.14 1712,181.35 1713.5,184.56 1715,187.76 1716.5,190.94 1718,194.09 1719.5,197.21 1721,200.28 1722.5,203.29 1724,206.24 1725.5,209.11 1727,211.9 1728.5,214.59 1730,217.18 1731.5,219.68 1733,222.07 1734.5,224.35 1736,226.54 1737.5,228.63 1739,230.62 1740.5,232.51 1742,234.32 1743.5,236.04 1745,237.68 1746.5,239.24 1748,240.71 1749.5,242.11 1751,243.43 1752.5,244.68 1754,245.85 1755.5,246.95 1757,247.97 1758.5,248.93 1760,249.81 1761.5,250.61 1763,251.35 1764.5,252.01 1766,252.6 1767.5,253.12 1769,253.56 1770.5,253.94 1772,254.25 1773.5,254.5 1775,254.68 1776.5,254.81 1778,254.87 1779.5,254.88 1781,254.84 1782.5,254.75 1784,254.62 1785.5,254.44 1787,254.22 1788.5,253.96 1790,253.68 1791.5,253.36 1793,253.02 1794.5,252.66 1796,252.29 1797.5,251.91 1799,251.52 1800.5,251.15 1802,250.79 1803.5,250.45 1805,250.14 1806.5,249.88 1808,249.67 1809.5,249.51 1811,249.43 1812.5,249.42 1814,249.49 1815.5,249.65 1817,249.91 1818.5,250.26 1820,250.7 1821.5,251.24 1823,251.88 1824.5,252.6 1826,253.4 1827.5,254.28 1829,255.22 1830.5,256.23 1832,257.29 1833.5,258.39 1835,259.53 1836.5,260.7 1838,261.89 1839.5,263.09 1841,264.3 1842.5,265.5 1844,266.69 1845.5,267.86 1847,269 1848.5,270.11 1850,271.19 1851.5,272.22 1853,273.22 1854.5,274.17 1856,275.08 1857.5,275.96 1859,276.81 1860.5,277.62 1862,278.41 1863.5,279.17 1865,279.91 1866.5,280.62 1868,281.31 1869.5,281.98 1871,282.62 1872.5,283.23 1874,283.81 1875.5,284.37 1877,284.91 1878.5,285.41 1880,285.9 1881.5,286.35 1883,286.79 1884.5,287.2 1886,287.6 1887.5,287.97 1889,288.32 1890.5,288.66 1892,288.98 1893.5,289.28 1895,289.56 1896.5,289.83 1898,290.08 1899.5,290.33 1901,290.55 1902.5,290.77 1904,290.97 1905.5,291.17 1907,291.35 1908.5,291.53 1910,291.7 1911.5,291.86 1913,292.01 1914.5,292.15 1916,292.29 1917.5,292.42 1919,292.55 1920.5,292.67 1922,292.79 1923.5,292.9 1925,293.01 1926.5,293.11 1928,293.21 1929.5,293.31 1931,293.4 1932.5,293.49 1934,293.57 1935.5,293.65 1937,293.73 1938.5,293.8 1940,293.86 1941.5,293.92 1943.1,293.98" fill="none" stroke="#FF4040" stroke-width="4.0" stroke-linejoin="round"/>
<polyline points="1512.5,245.7 1514,245.54 1515.5,245.38 1517,245.21 1518.5,245.05 1520,244.9 1521.5,244.74 1523,244.58 1524.5,244.43 1526,244.27 1527.5,244.11 1529,243.94 1530.5,243.78 1532,243.61 1533.5,243.43 1535,243.26 1536.5,243.07 1538,242.89 1539.5,242.7 1541,242.51 1542.5,242.31 1544,242.1 1545.5,241.9 1547,241.69 1548.5,241.47 1550,241.24 1551.5,241.02 1553,240.78 1554.5,240.54 1556,240.29 1557.5,240.03 1559,239.76 1560.5,239.48 1562,239.2 1563.5,238.9 1565,238.6 1566.5,238.28 1568,237.96 1569.5,237.61 1571,237.26 1572.5,236.89 1574,236.5 1575.5,236.1 1577,235.68 1578.5,235.23 1580,234.76 1581.5,234.26 1583,233.73 1584.5,233.18 1586,232.59 1587.5,231.97 1589,231.31 1590.5,230.62 1592,229.89 1593.5,229.12 1595,228.3 1596.5,227.44 1598,226.53 1599.5,225.57 1601,224.56 1602.5,223.49 1604,222.36 1605.5,221.16 1607,219.89 1608.5,218.55 1610,217.13 1611.5,215.63 1613,214.05 1614.5,212.37 1616,210.61 1617.5,208.75 1619,206.79 1620.5,204.74 1622,202.59 1623.5,200.34 1625,198 1626.5,195.55 1628,193 1629.5,190.36 1631,187.63 1632.5,184.8 1634,181.89 1635.5,178.9 1637,175.83 1638.5,172.7 1640,169.51 1641.5,166.27 1643,162.99 1644.5,159.69 1646,156.37 1647.5,153.04 1649,149.71 1650.5,146.39 1652,143.09 1653.5,139.83 1655,136.6 1656.5,133.43 1658,130.32 1659.5,127.3 1661,124.37 1662.5,121.55 1664,118.86 1665.5,116.32 1667,113.93 1668.5,111.73 1670,109.72 1671.5,107.91 1673,106.34 1674.5,105 1676,103.9 1677.5,103.07 1679,102.5 1680.5,102.19 1682,102.15 1683.5,102.38 1685,102.88 1686.5,103.63 1688,104.64 1689.5,105.88 1691,107.36 1692.5,109.07 1694,110.98 1695.5,113.09 1697,115.39 1698.5,117.87 1700,120.51 1701.5,123.3 1703,126.22 1704.5,129.26 1706,132.41 1707.5,135.66 1709,138.97 1710.5,142.36 1712,145.79 1713.5,149.26 1715,152.74 1716.5,156.24 1718,159.73 1719.5,163.2 1721,166.63 1722.5,170 1724,173.3 1725.5,176.52 1727,179.63 1728.5,182.64 1730,185.53 1731.5,188.3 1733,190.95 1734.5,193.48 1736,195.89 1737.5,198.19 1739,200.38 1740.5,202.45 1742,204.43 1743.5,206.3 1745,208.07 1746.5,209.75 1748,211.34 1749.5,212.85 1751,214.27 1752.5,215.62 1754,216.9 1755.5,218.11 1757,219.27 1758.5,220.36 1760,221.39 1761.5,222.36 1763,223.28 1764.5,224.14 1766,224.94 1767.5,225.68 1769,226.36 1770.5,226.99 1772,227.55 1773.5,228.06 1775,228.51 1776.5,228.89 1778,229.22 1779.5,229.5 1781,229.72 1782.5,229.88 1784,230 1785.5,230.07 1787,230.1 1788.5,230.09 1790,230.05 1791.5,229.98 1793,229.88 1794.5,229.77 1796,229.63 1797.5,229.49 1799,229.33 1800.5,229.18 1802,229.02 1803.5,228.87 1805,228.73 1806.5,228.6 1808,228.5 1809.5,228.42 1811,228.37 1812.5,228.35 1814,228.38 1815.5,228.45 1817,228.57 1818.5,228.75 1820,228.98 1821.5,229.27 1823,229.63 1824.5,230.05 1826,230.53 1827.5,231.07 1829,231.67 1830.5,232.33 1832,233.03 1833.5,233.77 1835,234.55 1836.5,235.36 1838,236.2 1839.5,237.06 1841,237.92 1842.5,238.8 1844,239.67 1845.5,240.54 1847,241.4 1848.5,242.25 1850,243.08 1851.5,243.9 1853,244.69 1854.5,245.47 1856,246.22 1857.5,246.95 1859,247.65 1860.5,248.33 1862,248.98 1863.5,249.61 1865,250.21 1866.5,250.79 1868,251.34 1869.5,251.87 1871,252.38 1872.5,252.86 1874,253.33 1875.5,253.77 1877,254.19 1878.5,254.6 1880,254.99 1881.5,255.36 1883,255.71 1884.5,256.04 1886,256.36 1887.5,256.66 1889,256.95 1890.5,257.22 1892,257.48 1893.5,257.73 1895,257.96 1896.5,258.19 1898,258.4 1899.5,258.61 1901,258.8 1902.5,258.99 1904,259.18 1905.5,259.35 1907,259.52 1908.5,259.68 1910,259.84 1911.5,259.99 1913,260.13 1914.5,260.27 1916,260.4 1917.5,260.52 1919,260.65 1920.5,260.77 1922,260.88 1923.5,260.99 1925,261.1 1926.5,261.21 1928,261.32 1929.5,261.42 1931,261.52 1932.5,261.61 1934,261.69 1935.5,261.77 1937,261.84 1938.5,261.91 1940,261.96 1941.5,262 1943.1,262.03" fill="none" stroke="#F0008C" stroke-width="4.0" stroke-linejoin="round"/>
</g>
<text x="1518.56" y="232.5" font-size="29.1" fill="#FF4040" textLength="68.11" lengthAdjust="spacingAndGlyphs">594D</text>
<text x="1518.46" y="265.3" font-size="29.1" fill="#FF4040" textLength="68.22" lengthAdjust="spacingAndGlyphs">427D</text>
<text x="1516.97" y="302.1" font-size="29.1" fill="#F08828" textLength="67.79" lengthAdjust="spacingAndGlyphs">183D</text>
<text x="1530.18" y="358.5" font-size="29.1" fill="#E8A828" textLength="51.34" lengthAdjust="spacingAndGlyphs">57D</text>
<text x="1530.66" y="402.3" font-size="29.1" fill="#E8E030" textLength="52.07" lengthAdjust="spacingAndGlyphs">42D</text>
<text x="1531.79" y="452.4" font-size="29.1" fill="#A0E830" textLength="51.63" lengthAdjust="spacingAndGlyphs">19D</text>
<text x="1534.6" y="497.3" font-size="29.1" fill="#00E010" textLength="35.96" lengthAdjust="spacingAndGlyphs">8D</text>
<text x="1534.27" y="545.6" font-size="29.1" fill="#00D090" textLength="36.3" lengthAdjust="spacingAndGlyphs">1D</text>
<text x="1534.86" y="585.4" font-size="29.1" fill="#00C8C8" textLength="49.81" lengthAdjust="spacingAndGlyphs">15h</text>
<text x="1536.17" y="626.5" font-size="29.1" fill="#00A0F8" textLength="33.14" lengthAdjust="spacingAndGlyphs">1h</text>
<text x="1536.17" y="666.5" font-size="29.1" fill="#2040F8" textLength="66.32" lengthAdjust="spacingAndGlyphs">2min</text>
<text x="1359.84" y="29" font-size="37.3" fill="#000" textLength="42.16" lengthAdjust="spacingAndGlyphs">(c)</text>
<text x="1798.7" y="29" font-size="37.3" fill="#000" textLength="133.68" lengthAdjust="spacingAndGlyphs">Ge(111)</text>
<text x="1798.66" y="90.9" font-size="37.4" fill="#000" textLength="90.33" lengthAdjust="spacingAndGlyphs" font-weight="bold">Ge2p</text>
<text x="1888.96" y="100.9" font-size="24.6" fill="#000" textLength="39.79" lengthAdjust="spacingAndGlyphs" font-weight="bold">3/2</text>
</g>
</svg></body></html>
